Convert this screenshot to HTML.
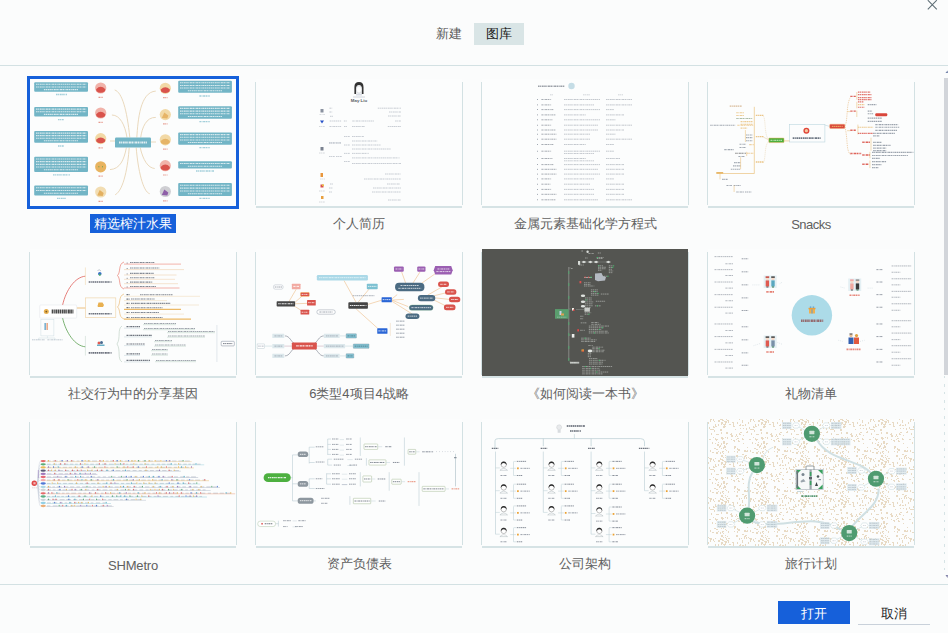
<!DOCTYPE html>
<html><head><meta charset="utf-8">
<style>
*{margin:0;padding:0;box-sizing:border-box}
html,body{width:948px;height:633px;overflow:hidden;background:#fbfcfc;font-family:"Liberation Sans",sans-serif;position:relative}
.a{position:absolute}
.tab{position:absolute;top:23px;height:22px;font-size:13px;line-height:22px;text-align:center}
.hl{position:absolute;left:0;top:65px;width:948px;height:1px;background:#d3e1e3}
.fl{position:absolute;left:0;top:584px;width:948px;height:1px;background:#d3e1e3}
.th{position:absolute;width:208px;height:129px}
.th .c{position:absolute;left:1px;top:0;width:206px;height:127px;background:#fcfdfd;overflow:hidden}
.th .l{position:absolute;left:0;top:3px;width:1px;height:123px;background:#d3e1e3}
.th .r{position:absolute;left:207px;top:3px;width:1px;height:123px;background:#d3e1e3}
.th .b{position:absolute;left:1px;top:127px;width:206px;height:2px;background:#d6e3e5}
.th svg{position:absolute;left:0;top:0}
.lb{position:absolute;width:226px;font-size:13px;line-height:18px;height:18px;text-align:center;color:#606060}
.btn{position:absolute;top:601px;width:72px;height:23px;font-size:13px;line-height:25px;text-align:center}
</style></head><body>
<div class="tab" style="left:474px;width:50px;background:#d9e5e6;color:#1a1a1a">图库</div>
<div class="tab" style="left:427px;width:44px;color:#5a5a5a">新建</div>
<svg class="a" style="left:926px;top:0" width="12" height="12" viewBox="0 0 12 12"><path d="M1.8 0.2L10.8 9.3M10.8 0.2L1.8 9.3" stroke="#5f6f76" stroke-width="1.1" fill="none"/></svg>
<div class="hl"></div>
<div class="fl"></div>
<div class="a" style="left:944px;top:78px;width:4px;height:297px;background:#d2d5da"></div>
<svg class="a" style="left:940px;top:66px" width="8" height="520" viewBox="0 0 8 520"><path d="M4.5 310 L4.5 508" stroke="#d6e3e5" stroke-width="1" stroke-dasharray="2 6 3 5"/><path d="M5.5 7 L7.5 4.5 L8 7Z" fill="#7080a8"/><path d="M5.5 509 L7.5 512 L8 509Z" fill="#8080a8"/></svg>

<!-- thumbnails -->
<div class="a" style="left:27px;top:76px;width:212px;height:133px;border:3px solid #1660da"></div>
<div class="th" style="left:29px;top:79px"><div class="c" id="t1"><svg width="206" height="127" viewBox="30 79 206 127"><path d="M114.7 90 C122 92 127 110 129.8 137.5" stroke="#e8d5b6" stroke-width="0.9" fill="none" /><path d="M111.9 115 C120 115 125 125 127 137.5" stroke="#e8d5b6" stroke-width="0.9" fill="none" /><path d="M110 141 L115 141" stroke="#e8d5b6" stroke-width="0.9" fill="none" /><path d="M110 169.6 C120 169 124 160 126.4 147.6" stroke="#e8d5b6" stroke-width="0.9" fill="none" /><path d="M115.2 194.8 C124 190 128 165 129.2 147.6" stroke="#e8d5b6" stroke-width="0.9" fill="none" /><path d="M155.8 91.1 C140 92 138 120 136.8 137.5" stroke="#e8d5b6" stroke-width="0.9" fill="none" /><path d="M155.8 117.4 C146 117 142 128 140.7 137.5" stroke="#e8d5b6" stroke-width="0.9" fill="none" /><path d="M151 142 L156 142" stroke="#e8d5b6" stroke-width="0.9" fill="none" /><path d="M136.2 147.6 C138 170 143 192 149.7 193.7" stroke="#e8d5b6" stroke-width="0.9" fill="none" /><path d="M140.2 147.6 C143 160 148 168 154.7 168.5" stroke="#e8d5b6" stroke-width="0.9" fill="none" /><rect x="34.20" y="82.20" width="53.80" height="9.50" rx="1" fill="#72b5c6" /><line x1="36.00" y1="84.32" x2="86.20" y2="84.32" stroke="#ffffff" stroke-width="1.1" stroke-dasharray="1.6 0.5 1 0.6 2 0.5" opacity="0.72"/><line x1="36.00" y1="86.95" x2="86.20" y2="86.95" stroke="#ffffff" stroke-width="1.1" stroke-dasharray="1.6 0.5 1 0.6 2 0.5" opacity="0.72"/><line x1="43.88" y1="89.58" x2="78.32" y2="89.58" stroke="#ffffff" stroke-width="1.1" stroke-dasharray="1.6 0.5 1 0.6 2 0.5" opacity="0.72"/><rect x="34.20" y="107.00" width="53.80" height="9.50" rx="1" fill="#72b5c6" /><line x1="36.00" y1="109.12" x2="86.20" y2="109.12" stroke="#ffffff" stroke-width="1.1" stroke-dasharray="1.6 0.5 1 0.6 2 0.5" opacity="0.72"/><line x1="36.00" y1="111.75" x2="86.20" y2="111.75" stroke="#ffffff" stroke-width="1.1" stroke-dasharray="1.6 0.5 1 0.6 2 0.5" opacity="0.72"/><line x1="43.88" y1="114.38" x2="78.32" y2="114.38" stroke="#ffffff" stroke-width="1.1" stroke-dasharray="1.6 0.5 1 0.6 2 0.5" opacity="0.72"/><rect x="34.20" y="131.00" width="53.80" height="11.80" rx="1" fill="#72b5c6" /><line x1="36.00" y1="133.08" x2="86.20" y2="133.08" stroke="#ffffff" stroke-width="1.1" stroke-dasharray="1.6 0.5 1 0.6 2 0.5" opacity="0.72"/><line x1="36.00" y1="135.63" x2="86.20" y2="135.63" stroke="#ffffff" stroke-width="1.1" stroke-dasharray="1.6 0.5 1 0.6 2 0.5" opacity="0.72"/><line x1="36.00" y1="138.18" x2="86.20" y2="138.18" stroke="#ffffff" stroke-width="1.1" stroke-dasharray="1.6 0.5 1 0.6 2 0.5" opacity="0.72"/><line x1="43.88" y1="140.73" x2="78.32" y2="140.73" stroke="#ffffff" stroke-width="1.1" stroke-dasharray="1.6 0.5 1 0.6 2 0.5" opacity="0.72"/><rect x="34.20" y="156.80" width="53.80" height="15.10" rx="1" fill="#72b5c6" /><line x1="36.00" y1="158.95" x2="86.20" y2="158.95" stroke="#ffffff" stroke-width="1.1" stroke-dasharray="1.6 0.5 1 0.6 2 0.5" opacity="0.72"/><line x1="36.00" y1="161.65" x2="86.20" y2="161.65" stroke="#ffffff" stroke-width="1.1" stroke-dasharray="1.6 0.5 1 0.6 2 0.5" opacity="0.72"/><line x1="36.00" y1="164.35" x2="86.20" y2="164.35" stroke="#ffffff" stroke-width="1.1" stroke-dasharray="1.6 0.5 1 0.6 2 0.5" opacity="0.72"/><line x1="36.00" y1="167.05" x2="86.20" y2="167.05" stroke="#ffffff" stroke-width="1.1" stroke-dasharray="1.6 0.5 1 0.6 2 0.5" opacity="0.72"/><line x1="43.88" y1="169.75" x2="78.32" y2="169.75" stroke="#ffffff" stroke-width="1.1" stroke-dasharray="1.6 0.5 1 0.6 2 0.5" opacity="0.72"/><rect x="34.20" y="185.60" width="53.80" height="9.80" rx="1" fill="#72b5c6" /><line x1="36.00" y1="187.77" x2="86.20" y2="187.77" stroke="#ffffff" stroke-width="1.1" stroke-dasharray="1.6 0.5 1 0.6 2 0.5" opacity="0.72"/><line x1="36.00" y1="190.50" x2="86.20" y2="190.50" stroke="#ffffff" stroke-width="1.1" stroke-dasharray="1.6 0.5 1 0.6 2 0.5" opacity="0.72"/><line x1="43.88" y1="193.23" x2="78.32" y2="193.23" stroke="#ffffff" stroke-width="1.1" stroke-dasharray="1.6 0.5 1 0.6 2 0.5" opacity="0.72"/><line x1="56.00" y1="94.50" x2="67.00" y2="94.50" stroke="#8cc4d2" stroke-width="1.4" stroke-dasharray="1.6 0.5 1 0.6 2 0.5" opacity="0.8"/><line x1="58.00" y1="119.60" x2="64.00" y2="119.60" stroke="#8cc4d2" stroke-width="1.4" stroke-dasharray="1.6 0.5 1 0.6 2 0.5" opacity="0.8"/><line x1="58.00" y1="146.00" x2="64.00" y2="146.00" stroke="#8cc4d2" stroke-width="1.4" stroke-dasharray="1.6 0.5 1 0.6 2 0.5" opacity="0.8"/><line x1="53.00" y1="174.90" x2="70.00" y2="174.90" stroke="#8cc4d2" stroke-width="1.4" stroke-dasharray="1.6 0.5 1 0.6 2 0.5" opacity="0.8"/><line x1="57.00" y1="198.40" x2="66.00" y2="198.40" stroke="#8cc4d2" stroke-width="1.4" stroke-dasharray="1.6 0.5 1 0.6 2 0.5" opacity="0.8"/><rect x="178.20" y="80.70" width="53.70" height="12.10" rx="1" fill="#72b5c6" /><line x1="180.00" y1="82.81" x2="230.10" y2="82.81" stroke="#ffffff" stroke-width="1.1" stroke-dasharray="1.6 0.5 1 0.6 2 0.5" opacity="0.72"/><line x1="180.00" y1="85.44" x2="230.10" y2="85.44" stroke="#ffffff" stroke-width="1.1" stroke-dasharray="1.6 0.5 1 0.6 2 0.5" opacity="0.72"/><line x1="180.00" y1="88.06" x2="230.10" y2="88.06" stroke="#ffffff" stroke-width="1.1" stroke-dasharray="1.6 0.5 1 0.6 2 0.5" opacity="0.72"/><line x1="187.87" y1="90.69" x2="222.23" y2="90.69" stroke="#ffffff" stroke-width="1.1" stroke-dasharray="1.6 0.5 1 0.6 2 0.5" opacity="0.72"/><rect x="178.20" y="106.20" width="53.70" height="12.50" rx="1" fill="#72b5c6" /><line x1="180.00" y1="108.36" x2="230.10" y2="108.36" stroke="#ffffff" stroke-width="1.1" stroke-dasharray="1.6 0.5 1 0.6 2 0.5" opacity="0.72"/><line x1="180.00" y1="111.09" x2="230.10" y2="111.09" stroke="#ffffff" stroke-width="1.1" stroke-dasharray="1.6 0.5 1 0.6 2 0.5" opacity="0.72"/><line x1="180.00" y1="113.81" x2="230.10" y2="113.81" stroke="#ffffff" stroke-width="1.1" stroke-dasharray="1.6 0.5 1 0.6 2 0.5" opacity="0.72"/><line x1="187.87" y1="116.54" x2="222.23" y2="116.54" stroke="#ffffff" stroke-width="1.1" stroke-dasharray="1.6 0.5 1 0.6 2 0.5" opacity="0.72"/><rect x="178.20" y="132.50" width="53.70" height="12.20" rx="1" fill="#72b5c6" /><line x1="180.00" y1="134.62" x2="230.10" y2="134.62" stroke="#ffffff" stroke-width="1.1" stroke-dasharray="1.6 0.5 1 0.6 2 0.5" opacity="0.72"/><line x1="180.00" y1="137.28" x2="230.10" y2="137.28" stroke="#ffffff" stroke-width="1.1" stroke-dasharray="1.6 0.5 1 0.6 2 0.5" opacity="0.72"/><line x1="180.00" y1="139.93" x2="230.10" y2="139.93" stroke="#ffffff" stroke-width="1.1" stroke-dasharray="1.6 0.5 1 0.6 2 0.5" opacity="0.72"/><line x1="187.87" y1="142.57" x2="222.23" y2="142.57" stroke="#ffffff" stroke-width="1.1" stroke-dasharray="1.6 0.5 1 0.6 2 0.5" opacity="0.72"/><rect x="178.20" y="161.30" width="53.70" height="7.20" rx="1" fill="#72b5c6" /><line x1="180.00" y1="163.50" x2="230.10" y2="163.50" stroke="#ffffff" stroke-width="1.1" stroke-dasharray="1.6 0.5 1 0.6 2 0.5" opacity="0.72"/><line x1="187.87" y1="166.30" x2="222.23" y2="166.30" stroke="#ffffff" stroke-width="1.1" stroke-dasharray="1.6 0.5 1 0.6 2 0.5" opacity="0.72"/><rect x="178.20" y="183.00" width="53.70" height="13.00" rx="1" fill="#72b5c6" /><line x1="180.00" y1="185.23" x2="230.10" y2="185.23" stroke="#ffffff" stroke-width="1.1" stroke-dasharray="1.6 0.5 1 0.6 2 0.5" opacity="0.72"/><line x1="180.00" y1="188.08" x2="230.10" y2="188.08" stroke="#ffffff" stroke-width="1.1" stroke-dasharray="1.6 0.5 1 0.6 2 0.5" opacity="0.72"/><line x1="180.00" y1="190.93" x2="230.10" y2="190.93" stroke="#ffffff" stroke-width="1.1" stroke-dasharray="1.6 0.5 1 0.6 2 0.5" opacity="0.72"/><line x1="187.87" y1="193.78" x2="222.23" y2="193.78" stroke="#ffffff" stroke-width="1.1" stroke-dasharray="1.6 0.5 1 0.6 2 0.5" opacity="0.72"/><line x1="199.40" y1="96.00" x2="210.00" y2="96.00" stroke="#8cc4d2" stroke-width="1.4" stroke-dasharray="1.6 0.5 1 0.6 2 0.5" opacity="0.8"/><line x1="199.40" y1="121.60" x2="210.00" y2="121.60" stroke="#8cc4d2" stroke-width="1.4" stroke-dasharray="1.6 0.5 1 0.6 2 0.5" opacity="0.8"/><line x1="199.40" y1="147.60" x2="210.00" y2="147.60" stroke="#8cc4d2" stroke-width="1.4" stroke-dasharray="1.6 0.5 1 0.6 2 0.5" opacity="0.8"/><line x1="196.00" y1="171.00" x2="214.00" y2="171.00" stroke="#8cc4d2" stroke-width="1.4" stroke-dasharray="1.6 0.5 1 0.6 2 0.5" opacity="0.8"/><line x1="199.40" y1="198.40" x2="210.00" y2="198.40" stroke="#8cc4d2" stroke-width="1.4" stroke-dasharray="1.6 0.5 1 0.6 2 0.5" opacity="0.8"/><circle cx="100.70" cy="88.00" r="5.6" fill="#f1b3aa" /><path d="M96.1 89.2 Q100.7 84.5 105.3 89.2 L104.9 91.2 Q100.7 94.2 96.5 91.2Z" fill="#d9534c"/><line x1="98.50" y1="97.30" x2="102.90" y2="97.30" stroke="#e07a6a" stroke-width="1.2" stroke-dasharray="1.6 0.5 1 0.6 2 0.5" opacity="0.75"/><circle cx="100.70" cy="113.00" r="5.6" fill="#f1b3aa" /><path d="M96.1 114.2 Q100.7 109.5 105.3 114.2 L104.9 116.2 Q100.7 119.2 96.5 116.2Z" fill="#d9534c"/><line x1="98.50" y1="122.30" x2="102.90" y2="122.30" stroke="#e07a6a" stroke-width="1.2" stroke-dasharray="1.6 0.5 1 0.6 2 0.5" opacity="0.75"/><circle cx="100.70" cy="138.60" r="5.6" fill="#f2d9a6" /><path d="M96.1 139.8 Q100.7 135.1 105.3 139.8 L104.9 141.8 Q100.7 144.8 96.5 141.8Z" fill="#d9534c"/><line x1="98.50" y1="147.90" x2="102.90" y2="147.90" stroke="#e07a6a" stroke-width="1.2" stroke-dasharray="1.6 0.5 1 0.6 2 0.5" opacity="0.75"/><circle cx="100.70" cy="166.80" r="5.6" fill="#e8b460" /><circle cx="98.90" cy="166.80" r="0.5" fill="#3a9a4a" /><circle cx="102.50" cy="166.80" r="0.5" fill="#3a9a4a" /><line x1="98.50" y1="176.10" x2="102.90" y2="176.10" stroke="#e07a6a" stroke-width="1.2" stroke-dasharray="1.6 0.5 1 0.6 2 0.5" opacity="0.75"/><circle cx="100.70" cy="192.00" r="5.6" fill="#f2ddb2" /><path d="M97.2 195.5 L99.7 190.0 L103.7 193.0 L102.7 196.0Z" fill="#e3b060"/><line x1="98.50" y1="201.30" x2="102.90" y2="201.30" stroke="#e07a6a" stroke-width="1.2" stroke-dasharray="1.6 0.5 1 0.6 2 0.5" opacity="0.75"/><circle cx="165.30" cy="88.30" r="5.6" fill="#f2d9a6" /><path d="M160.7 89.5 Q165.3 84.8 169.9 89.5 L169.5 91.5 Q165.3 94.5 161.1 91.5Z" fill="#d9534c"/><line x1="163.10" y1="97.60" x2="167.50" y2="97.60" stroke="#e07a6a" stroke-width="1.2" stroke-dasharray="1.6 0.5 1 0.6 2 0.5" opacity="0.75"/><circle cx="165.30" cy="114.60" r="5.6" fill="#f2d9a6" /><path d="M161.8 118.1 L164.3 112.6 L168.3 115.6 L167.3 118.6Z" fill="#e6b467"/><line x1="163.10" y1="123.90" x2="167.50" y2="123.90" stroke="#e07a6a" stroke-width="1.2" stroke-dasharray="1.6 0.5 1 0.6 2 0.5" opacity="0.75"/><circle cx="165.30" cy="139.80" r="5.6" fill="#f2d9a6" /><path d="M160.7 141.0 Q165.3 136.3 169.9 141.0 L169.5 143.0 Q165.3 146.0 161.1 143.0Z" fill="#e6b467"/><line x1="163.10" y1="149.10" x2="167.50" y2="149.10" stroke="#e07a6a" stroke-width="1.2" stroke-dasharray="1.6 0.5 1 0.6 2 0.5" opacity="0.75"/><circle cx="165.30" cy="165.70" r="5.6" fill="#f1b3aa" /><path d="M160.7 166.9 Q165.3 162.2 169.9 166.9 L169.5 168.9 Q165.3 171.9 161.1 168.9Z" fill="#d9534c"/><line x1="163.10" y1="175.00" x2="167.50" y2="175.00" stroke="#e07a6a" stroke-width="1.2" stroke-dasharray="1.6 0.5 1 0.6 2 0.5" opacity="0.75"/><circle cx="165.30" cy="191.50" r="5.6" fill="#cfcfd3" /><path d="M161.8 195.0 L164.3 189.5 L168.3 192.5 L167.3 195.5Z" fill="#8e5fa8"/><line x1="163.10" y1="200.80" x2="167.50" y2="200.80" stroke="#e07a6a" stroke-width="1.2" stroke-dasharray="1.6 0.5 1 0.6 2 0.5" opacity="0.75"/><rect x="115.00" y="137.50" width="36.00" height="10.10" rx="1.2" fill="#72b5c6" /><line x1="119.00" y1="142.50" x2="147.00" y2="142.50" stroke="#ffffff" stroke-width="2.2" stroke-dasharray="1.6 0.5 1 0.6 2 0.5" opacity="0.8"/></svg></div></div>
<div class="th" style="left:255px;top:79px"><div class="l"></div><div class="r"></div><div class="b"></div><div class="c" id="t2"><svg width="206" height="127" viewBox="256 79 206 127"><path d="M354.4 94 L354.4 87 Q354.4 82 359 82 Q363.5 82 363.5 87 L363.5 94 L361.8 94 L361.8 88 Q361.5 85 359 85 Q356.5 85 356.1 88 L356.1 94Z" fill="#333"/><ellipse cx="359" cy="89.5" rx="2.7" ry="3.6" fill="#fff" stroke="#9aa4ac" stroke-width="0.3"/><path d="M356 94.2 Q359 92.5 362 94.2 L362 95.5 L356 95.5Z" fill="#d8dce4"/><path d="M353 97 L365 97" stroke="#c8ccd4" stroke-width="0.8"/><text x="359" y="102.4" font-family="Liberation Sans" font-size="4.4" font-weight="bold" text-anchor="middle" fill="#3a4048" opacity="0.85">May Liu</text><rect x="320.50" y="109.00" width="3.00" height="3.50" rx="0" fill="#8a92a0" /><line x1="319.50" y1="114.60" x2="325.00" y2="114.60" stroke="#7d8794" stroke-width="0.72" stroke-dasharray="1.6 0.5 1 0.6 2 0.5" opacity="0.42"/><path d="M320 120.5 L324 120.5 L322 123.5Z" fill="#2550c8"/><line x1="319.00" y1="126.40" x2="325.00" y2="126.40" stroke="#7d8794" stroke-width="0.72" stroke-dasharray="1.6 0.5 1 0.6 2 0.5" opacity="0.48"/><rect x="320.50" y="147.00" width="3.00" height="3.50" rx="0" fill="#7a8290" /><line x1="319.00" y1="153.00" x2="325.00" y2="153.00" stroke="#7d8794" stroke-width="0.72" stroke-dasharray="1.6 0.5 1 0.6 2 0.5" opacity="0.42"/><rect x="320.50" y="173.00" width="2.50" height="4.00" rx="0" fill="#e8963c" /><line x1="320.00" y1="179.00" x2="325.00" y2="179.00" stroke="#7d8794" stroke-width="0.72" stroke-dasharray="1.6 0.5 1 0.6 2 0.5" opacity="0.36"/><rect x="320.50" y="184.50" width="3.00" height="3.00" rx="0" fill="#d9534c" /><rect x="322.00" y="184.50" width="2.00" height="1.50" rx="0" fill="#e8c040" /><line x1="319.00" y1="191.00" x2="325.00" y2="191.00" stroke="#7d8794" stroke-width="0.72" stroke-dasharray="1.6 0.5 1 0.6 2 0.5" opacity="0.42"/><rect x="321.00" y="196.00" width="2.50" height="3.00" rx="0" fill="#e8a040" /><line x1="319.00" y1="202.00" x2="325.00" y2="202.00" stroke="#7d8794" stroke-width="0.72" stroke-dasharray="1.6 0.5 1 0.6 2 0.5" opacity="0.42"/><line x1="329.40" y1="108.20" x2="332.20" y2="108.20" stroke="#7a8596" stroke-width="0.88" stroke-dasharray="1.6 0.5 1 0.6 2 0.5" opacity="0.45"/><line x1="329.40" y1="112.00" x2="332.20" y2="112.00" stroke="#7a8596" stroke-width="0.88" stroke-dasharray="1.6 0.5 1 0.6 2 0.5" opacity="0.45"/><line x1="330.00" y1="116.30" x2="333.00" y2="116.30" stroke="#7a8596" stroke-width="0.88" stroke-dasharray="1.6 0.5 1 0.6 2 0.5" opacity="0.45"/><line x1="329.70" y1="121.00" x2="341.10" y2="121.00" stroke="#7a8596" stroke-width="0.88" stroke-dasharray="1.6 0.5 1 0.6 2 0.5" opacity="0.45"/><line x1="343.90" y1="121.00" x2="346.70" y2="121.00" stroke="#7a8596" stroke-width="0.88" stroke-dasharray="1.6 0.5 1 0.6 2 0.5" opacity="0.45"/><line x1="352.30" y1="121.00" x2="373.90" y2="121.00" stroke="#7a8596" stroke-width="0.88" stroke-dasharray="1.6 0.5 1 0.6 2 0.5" opacity="0.45"/><line x1="395.10" y1="121.00" x2="401.00" y2="121.00" stroke="#7a8596" stroke-width="0.88" stroke-dasharray="1.6 0.5 1 0.6 2 0.5" opacity="0.45"/><line x1="329.50" y1="126.50" x2="341.10" y2="126.50" stroke="#7a8596" stroke-width="0.88" stroke-dasharray="1.6 0.5 1 0.6 2 0.5" opacity="0.45"/><line x1="344.00" y1="126.50" x2="347.00" y2="126.50" stroke="#7a8596" stroke-width="0.88" stroke-dasharray="1.6 0.5 1 0.6 2 0.5" opacity="0.45"/><line x1="352.00" y1="126.50" x2="365.00" y2="126.50" stroke="#7a8596" stroke-width="0.88" stroke-dasharray="1.6 0.5 1 0.6 2 0.5" opacity="0.45"/><line x1="387.80" y1="126.50" x2="401.00" y2="126.50" stroke="#7a8596" stroke-width="0.88" stroke-dasharray="1.6 0.5 1 0.6 2 0.5" opacity="0.45"/><line x1="377.80" y1="108.20" x2="401.00" y2="108.20" stroke="#7a8596" stroke-width="0.88" stroke-dasharray="1.6 0.5 1 0.6 2 0.5" opacity="0.45"/><line x1="389.00" y1="112.00" x2="401.00" y2="112.00" stroke="#7a8596" stroke-width="0.88" stroke-dasharray="1.6 0.5 1 0.6 2 0.5" opacity="0.45"/><line x1="388.00" y1="116.00" x2="401.00" y2="116.00" stroke="#7a8596" stroke-width="0.88" stroke-dasharray="1.6 0.5 1 0.6 2 0.5" opacity="0.45"/><line x1="344.00" y1="136.50" x2="350.00" y2="136.50" stroke="#7a8596" stroke-width="0.88" stroke-dasharray="1.6 0.5 1 0.6 2 0.5" opacity="0.45"/><line x1="352.00" y1="136.50" x2="363.80" y2="136.50" stroke="#7a8596" stroke-width="0.88" stroke-dasharray="1.6 0.5 1 0.6 2 0.5" opacity="0.45"/><line x1="352.00" y1="141.00" x2="377.20" y2="141.00" stroke="#7a8596" stroke-width="0.88" stroke-dasharray="1.6 0.5 1 0.6 2 0.5" opacity="0.45"/><line x1="329.00" y1="142.90" x2="341.00" y2="142.90" stroke="#7a8596" stroke-width="0.88" stroke-dasharray="1.6 0.5 1 0.6 2 0.5" opacity="0.45"/><line x1="344.00" y1="145.00" x2="350.00" y2="145.00" stroke="#7a8596" stroke-width="0.88" stroke-dasharray="1.6 0.5 1 0.6 2 0.5" opacity="0.45"/><line x1="352.00" y1="145.00" x2="381.00" y2="145.00" stroke="#7a8596" stroke-width="0.88" stroke-dasharray="1.6 0.5 1 0.6 2 0.5" opacity="0.45"/><line x1="352.00" y1="149.00" x2="390.60" y2="149.00" stroke="#7a8596" stroke-width="0.88" stroke-dasharray="1.6 0.5 1 0.6 2 0.5" opacity="0.45"/><line x1="344.00" y1="153.40" x2="350.00" y2="153.40" stroke="#7a8596" stroke-width="0.88" stroke-dasharray="1.6 0.5 1 0.6 2 0.5" opacity="0.45"/><line x1="352.00" y1="153.40" x2="368.80" y2="153.40" stroke="#7a8596" stroke-width="0.88" stroke-dasharray="1.6 0.5 1 0.6 2 0.5" opacity="0.45"/><line x1="329.00" y1="156.50" x2="335.00" y2="156.50" stroke="#7a8596" stroke-width="0.88" stroke-dasharray="1.6 0.5 1 0.6 2 0.5" opacity="0.45"/><line x1="336.00" y1="156.50" x2="342.00" y2="156.50" stroke="#7a8596" stroke-width="0.88" stroke-dasharray="1.6 0.5 1 0.6 2 0.5" opacity="0.45"/><line x1="352.00" y1="157.90" x2="399.60" y2="157.90" stroke="#7a8596" stroke-width="0.88" stroke-dasharray="1.6 0.5 1 0.6 2 0.5" opacity="0.45"/><line x1="344.00" y1="161.50" x2="350.00" y2="161.50" stroke="#7a8596" stroke-width="0.88" stroke-dasharray="1.6 0.5 1 0.6 2 0.5" opacity="0.45"/><line x1="352.00" y1="163.50" x2="401.00" y2="163.50" stroke="#7a8596" stroke-width="0.88" stroke-dasharray="1.6 0.5 1 0.6 2 0.5" opacity="0.45"/><line x1="385.00" y1="174.00" x2="401.00" y2="174.00" stroke="#7a8596" stroke-width="0.88" stroke-dasharray="1.6 0.5 1 0.6 2 0.5" opacity="0.45"/><line x1="364.00" y1="179.00" x2="401.00" y2="179.00" stroke="#7a8596" stroke-width="0.88" stroke-dasharray="1.6 0.5 1 0.6 2 0.5" opacity="0.45"/><line x1="387.00" y1="184.00" x2="400.00" y2="184.00" stroke="#7a8596" stroke-width="0.88" stroke-dasharray="1.6 0.5 1 0.6 2 0.5" opacity="0.45"/><line x1="373.00" y1="188.00" x2="401.00" y2="188.00" stroke="#7a8596" stroke-width="0.88" stroke-dasharray="1.6 0.5 1 0.6 2 0.5" opacity="0.45"/><line x1="372.00" y1="192.00" x2="401.00" y2="192.00" stroke="#7a8596" stroke-width="0.88" stroke-dasharray="1.6 0.5 1 0.6 2 0.5" opacity="0.45"/><line x1="388.00" y1="200.00" x2="401.00" y2="200.00" stroke="#7a8596" stroke-width="0.88" stroke-dasharray="1.6 0.5 1 0.6 2 0.5" opacity="0.45"/><line x1="330.00" y1="184.00" x2="333.00" y2="184.00" stroke="#7a8596" stroke-width="0.88" stroke-dasharray="1.6 0.5 1 0.6 2 0.5" opacity="0.45"/><line x1="329.00" y1="188.00" x2="333.00" y2="188.00" stroke="#7a8596" stroke-width="0.88" stroke-dasharray="1.6 0.5 1 0.6 2 0.5" opacity="0.45"/><line x1="329.00" y1="192.00" x2="332.00" y2="192.00" stroke="#7a8596" stroke-width="0.88" stroke-dasharray="1.6 0.5 1 0.6 2 0.5" opacity="0.45"/><line x1="329.00" y1="143.00" x2="335.00" y2="143.00" stroke="#7a8596" stroke-width="0.88" stroke-dasharray="1.6 0.5 1 0.6 2 0.5" opacity="0.45"/><line x1="336.00" y1="143.00" x2="341.00" y2="143.00" stroke="#7a8596" stroke-width="0.88" stroke-dasharray="1.6 0.5 1 0.6 2 0.5" opacity="0.45"/></svg></div></div>
<div class="th" style="left:481px;top:79px"><div class="l"></div><div class="r"></div><div class="b"></div><div class="c" id="t3"><svg width="206" height="127" viewBox="482 79 206 127"><line x1="538.00" y1="86.30" x2="564.30" y2="86.30" stroke="#4a5260" stroke-width="1.44" stroke-dasharray="1.6 0.5 1 0.6 2 0.5" opacity="0.54"/><circle cx="571.50" cy="86.00" r="3.2" fill="#c5dde6" /><line x1="550.00" y1="94.80" x2="553.00" y2="94.80" stroke="#7d8794" stroke-width="0.80" stroke-dasharray="1.6 0.5 1 0.6 2 0.5" opacity="0.42"/><line x1="583.00" y1="94.80" x2="590.00" y2="94.80" stroke="#7d8794" stroke-width="0.80" stroke-dasharray="1.6 0.5 1 0.6 2 0.5" opacity="0.42"/><line x1="618.00" y1="94.80" x2="623.00" y2="94.80" stroke="#7d8794" stroke-width="0.80" stroke-dasharray="1.6 0.5 1 0.6 2 0.5" opacity="0.42"/><rect x="537.00" y="99.10" width="1.00" height="0.80" rx="0" fill="#8a93a0" /><line x1="541.40" y1="99.50" x2="551.40" y2="99.50" stroke="#505a68" stroke-width="0.96" stroke-dasharray="1.6 0.5 1 0.6 2 0.5" opacity="0.51"/><line x1="564.00" y1="99.50" x2="600.00" y2="99.50" stroke="#6b7585" stroke-width="0.88" stroke-dasharray="1.6 0.5 1 0.6 2 0.5" opacity="0.45"/><line x1="606.00" y1="99.50" x2="632.00" y2="99.50" stroke="#6b7585" stroke-width="0.88" stroke-dasharray="1.6 0.5 1 0.6 2 0.5" opacity="0.45"/><rect x="537.00" y="104.50" width="1.00" height="0.80" rx="0" fill="#8a93a0" /><line x1="541.40" y1="104.90" x2="551.40" y2="104.90" stroke="#505a68" stroke-width="0.96" stroke-dasharray="1.6 0.5 1 0.6 2 0.5" opacity="0.51"/><line x1="564.00" y1="104.90" x2="594.00" y2="104.90" stroke="#6b7585" stroke-width="0.88" stroke-dasharray="1.6 0.5 1 0.6 2 0.5" opacity="0.45"/><line x1="606.00" y1="104.90" x2="632.00" y2="104.90" stroke="#6b7585" stroke-width="0.88" stroke-dasharray="1.6 0.5 1 0.6 2 0.5" opacity="0.45"/><rect x="537.00" y="109.20" width="1.00" height="0.80" rx="0" fill="#8a93a0" /><line x1="541.40" y1="109.60" x2="553.40" y2="109.60" stroke="#505a68" stroke-width="0.96" stroke-dasharray="1.6 0.5 1 0.6 2 0.5" opacity="0.51"/><line x1="564.00" y1="109.60" x2="600.00" y2="109.60" stroke="#6b7585" stroke-width="0.88" stroke-dasharray="1.6 0.5 1 0.6 2 0.5" opacity="0.45"/><line x1="606.00" y1="109.60" x2="614.00" y2="109.60" stroke="#6b7585" stroke-width="0.88" stroke-dasharray="1.6 0.5 1 0.6 2 0.5" opacity="0.45"/><rect x="537.00" y="114.50" width="1.00" height="0.80" rx="0" fill="#8a93a0" /><line x1="541.40" y1="114.90" x2="555.40" y2="114.90" stroke="#505a68" stroke-width="0.96" stroke-dasharray="1.6 0.5 1 0.6 2 0.5" opacity="0.51"/><line x1="564.00" y1="114.90" x2="586.00" y2="114.90" stroke="#6b7585" stroke-width="0.88" stroke-dasharray="1.6 0.5 1 0.6 2 0.5" opacity="0.45"/><line x1="606.00" y1="114.90" x2="624.00" y2="114.90" stroke="#6b7585" stroke-width="0.88" stroke-dasharray="1.6 0.5 1 0.6 2 0.5" opacity="0.45"/><rect x="537.00" y="119.40" width="1.00" height="0.80" rx="0" fill="#8a93a0" /><line x1="541.40" y1="119.80" x2="552.40" y2="119.80" stroke="#505a68" stroke-width="0.96" stroke-dasharray="1.6 0.5 1 0.6 2 0.5" opacity="0.51"/><line x1="564.00" y1="119.80" x2="600.00" y2="119.80" stroke="#6b7585" stroke-width="0.88" stroke-dasharray="1.6 0.5 1 0.6 2 0.5" opacity="0.45"/><line x1="606.00" y1="119.80" x2="616.00" y2="119.80" stroke="#6b7585" stroke-width="0.88" stroke-dasharray="1.6 0.5 1 0.6 2 0.5" opacity="0.45"/><rect x="537.00" y="124.80" width="1.00" height="0.80" rx="0" fill="#8a93a0" /><line x1="541.40" y1="125.20" x2="551.40" y2="125.20" stroke="#505a68" stroke-width="0.96" stroke-dasharray="1.6 0.5 1 0.6 2 0.5" opacity="0.51"/><line x1="564.00" y1="125.20" x2="598.00" y2="125.20" stroke="#6b7585" stroke-width="0.88" stroke-dasharray="1.6 0.5 1 0.6 2 0.5" opacity="0.45"/><line x1="606.00" y1="125.20" x2="632.00" y2="125.20" stroke="#6b7585" stroke-width="0.88" stroke-dasharray="1.6 0.5 1 0.6 2 0.5" opacity="0.45"/><rect x="537.00" y="129.60" width="1.00" height="0.80" rx="0" fill="#8a93a0" /><line x1="541.40" y1="130.00" x2="555.40" y2="130.00" stroke="#505a68" stroke-width="0.96" stroke-dasharray="1.6 0.5 1 0.6 2 0.5" opacity="0.51"/><line x1="564.00" y1="130.00" x2="598.00" y2="130.00" stroke="#6b7585" stroke-width="0.88" stroke-dasharray="1.6 0.5 1 0.6 2 0.5" opacity="0.45"/><line x1="606.00" y1="130.00" x2="624.00" y2="130.00" stroke="#6b7585" stroke-width="0.88" stroke-dasharray="1.6 0.5 1 0.6 2 0.5" opacity="0.45"/><rect x="537.00" y="133.80" width="1.00" height="0.80" rx="0" fill="#8a93a0" /><line x1="541.40" y1="134.20" x2="556.40" y2="134.20" stroke="#505a68" stroke-width="0.96" stroke-dasharray="1.6 0.5 1 0.6 2 0.5" opacity="0.51"/><line x1="564.00" y1="134.20" x2="590.00" y2="134.20" stroke="#6b7585" stroke-width="0.88" stroke-dasharray="1.6 0.5 1 0.6 2 0.5" opacity="0.45"/><line x1="606.00" y1="134.20" x2="616.00" y2="134.20" stroke="#6b7585" stroke-width="0.88" stroke-dasharray="1.6 0.5 1 0.6 2 0.5" opacity="0.45"/><rect x="537.00" y="138.80" width="1.00" height="0.80" rx="0" fill="#8a93a0" /><line x1="541.40" y1="139.20" x2="556.40" y2="139.20" stroke="#505a68" stroke-width="0.96" stroke-dasharray="1.6 0.5 1 0.6 2 0.5" opacity="0.51"/><line x1="564.00" y1="139.20" x2="590.00" y2="139.20" stroke="#6b7585" stroke-width="0.88" stroke-dasharray="1.6 0.5 1 0.6 2 0.5" opacity="0.45"/><line x1="606.00" y1="139.20" x2="632.00" y2="139.20" stroke="#6b7585" stroke-width="0.88" stroke-dasharray="1.6 0.5 1 0.6 2 0.5" opacity="0.45"/><rect x="537.00" y="144.10" width="1.00" height="0.80" rx="0" fill="#8a93a0" /><line x1="541.40" y1="144.50" x2="553.40" y2="144.50" stroke="#505a68" stroke-width="0.96" stroke-dasharray="1.6 0.5 1 0.6 2 0.5" opacity="0.51"/><line x1="564.00" y1="144.50" x2="586.00" y2="144.50" stroke="#6b7585" stroke-width="0.88" stroke-dasharray="1.6 0.5 1 0.6 2 0.5" opacity="0.45"/><line x1="606.00" y1="144.50" x2="614.00" y2="144.50" stroke="#6b7585" stroke-width="0.88" stroke-dasharray="1.6 0.5 1 0.6 2 0.5" opacity="0.45"/><rect x="537.00" y="150.80" width="1.00" height="0.80" rx="0" fill="#8a93a0" /><line x1="541.40" y1="151.20" x2="551.40" y2="151.20" stroke="#505a68" stroke-width="0.96" stroke-dasharray="1.6 0.5 1 0.6 2 0.5" opacity="0.51"/><line x1="564.00" y1="151.20" x2="600.00" y2="151.20" stroke="#6b7585" stroke-width="0.88" stroke-dasharray="1.6 0.5 1 0.6 2 0.5" opacity="0.45"/><line x1="564.00" y1="153.50" x2="594.00" y2="153.50" stroke="#6b7585" stroke-width="0.88" stroke-dasharray="1.6 0.5 1 0.6 2 0.5" opacity="0.42"/><line x1="606.00" y1="151.20" x2="614.00" y2="151.20" stroke="#6b7585" stroke-width="0.88" stroke-dasharray="1.6 0.5 1 0.6 2 0.5" opacity="0.45"/><rect x="537.00" y="158.10" width="1.00" height="0.80" rx="0" fill="#8a93a0" /><line x1="541.40" y1="158.50" x2="552.40" y2="158.50" stroke="#505a68" stroke-width="0.96" stroke-dasharray="1.6 0.5 1 0.6 2 0.5" opacity="0.51"/><line x1="564.00" y1="158.50" x2="586.00" y2="158.50" stroke="#6b7585" stroke-width="0.88" stroke-dasharray="1.6 0.5 1 0.6 2 0.5" opacity="0.45"/><line x1="564.00" y1="160.80" x2="594.00" y2="160.80" stroke="#6b7585" stroke-width="0.88" stroke-dasharray="1.6 0.5 1 0.6 2 0.5" opacity="0.42"/><line x1="606.00" y1="158.50" x2="620.00" y2="158.50" stroke="#6b7585" stroke-width="0.88" stroke-dasharray="1.6 0.5 1 0.6 2 0.5" opacity="0.45"/><rect x="537.00" y="164.20" width="1.00" height="0.80" rx="0" fill="#8a93a0" /><line x1="541.40" y1="164.60" x2="553.40" y2="164.60" stroke="#505a68" stroke-width="0.96" stroke-dasharray="1.6 0.5 1 0.6 2 0.5" opacity="0.51"/><line x1="564.00" y1="164.60" x2="600.00" y2="164.60" stroke="#6b7585" stroke-width="0.88" stroke-dasharray="1.6 0.5 1 0.6 2 0.5" opacity="0.45"/><line x1="606.00" y1="164.60" x2="624.00" y2="164.60" stroke="#6b7585" stroke-width="0.88" stroke-dasharray="1.6 0.5 1 0.6 2 0.5" opacity="0.45"/><rect x="537.00" y="168.90" width="1.00" height="0.80" rx="0" fill="#8a93a0" /><line x1="541.40" y1="169.30" x2="556.40" y2="169.30" stroke="#505a68" stroke-width="0.96" stroke-dasharray="1.6 0.5 1 0.6 2 0.5" opacity="0.51"/><line x1="564.00" y1="169.30" x2="598.00" y2="169.30" stroke="#6b7585" stroke-width="0.88" stroke-dasharray="1.6 0.5 1 0.6 2 0.5" opacity="0.45"/><line x1="606.00" y1="169.30" x2="624.00" y2="169.30" stroke="#6b7585" stroke-width="0.88" stroke-dasharray="1.6 0.5 1 0.6 2 0.5" opacity="0.45"/><rect x="537.00" y="173.70" width="1.00" height="0.80" rx="0" fill="#8a93a0" /><line x1="541.40" y1="174.10" x2="556.40" y2="174.10" stroke="#505a68" stroke-width="0.96" stroke-dasharray="1.6 0.5 1 0.6 2 0.5" opacity="0.51"/><line x1="564.00" y1="174.10" x2="600.00" y2="174.10" stroke="#6b7585" stroke-width="0.88" stroke-dasharray="1.6 0.5 1 0.6 2 0.5" opacity="0.45"/><line x1="606.00" y1="174.10" x2="624.00" y2="174.10" stroke="#6b7585" stroke-width="0.88" stroke-dasharray="1.6 0.5 1 0.6 2 0.5" opacity="0.45"/><rect x="537.00" y="178.50" width="1.00" height="0.80" rx="0" fill="#8a93a0" /><line x1="541.40" y1="178.90" x2="551.40" y2="178.90" stroke="#505a68" stroke-width="0.96" stroke-dasharray="1.6 0.5 1 0.6 2 0.5" opacity="0.51"/><line x1="564.00" y1="178.90" x2="594.00" y2="178.90" stroke="#6b7585" stroke-width="0.88" stroke-dasharray="1.6 0.5 1 0.6 2 0.5" opacity="0.45"/><line x1="606.00" y1="178.90" x2="614.00" y2="178.90" stroke="#6b7585" stroke-width="0.88" stroke-dasharray="1.6 0.5 1 0.6 2 0.5" opacity="0.45"/><rect x="537.00" y="183.80" width="1.00" height="0.80" rx="0" fill="#8a93a0" /><line x1="541.40" y1="184.20" x2="550.40" y2="184.20" stroke="#505a68" stroke-width="0.96" stroke-dasharray="1.6 0.5 1 0.6 2 0.5" opacity="0.51"/><line x1="564.00" y1="184.20" x2="590.00" y2="184.20" stroke="#6b7585" stroke-width="0.88" stroke-dasharray="1.6 0.5 1 0.6 2 0.5" opacity="0.45"/><line x1="606.00" y1="184.20" x2="624.00" y2="184.20" stroke="#6b7585" stroke-width="0.88" stroke-dasharray="1.6 0.5 1 0.6 2 0.5" opacity="0.45"/><rect x="537.00" y="189.00" width="1.00" height="0.80" rx="0" fill="#8a93a0" /><line x1="541.40" y1="189.40" x2="551.40" y2="189.40" stroke="#505a68" stroke-width="0.96" stroke-dasharray="1.6 0.5 1 0.6 2 0.5" opacity="0.51"/><line x1="564.00" y1="189.40" x2="594.00" y2="189.40" stroke="#6b7585" stroke-width="0.88" stroke-dasharray="1.6 0.5 1 0.6 2 0.5" opacity="0.45"/><line x1="606.00" y1="189.40" x2="624.00" y2="189.40" stroke="#6b7585" stroke-width="0.88" stroke-dasharray="1.6 0.5 1 0.6 2 0.5" opacity="0.45"/><rect x="537.00" y="193.90" width="1.00" height="0.80" rx="0" fill="#8a93a0" /><line x1="541.40" y1="194.30" x2="556.40" y2="194.30" stroke="#505a68" stroke-width="0.96" stroke-dasharray="1.6 0.5 1 0.6 2 0.5" opacity="0.51"/><line x1="564.00" y1="194.30" x2="594.00" y2="194.30" stroke="#6b7585" stroke-width="0.88" stroke-dasharray="1.6 0.5 1 0.6 2 0.5" opacity="0.45"/><line x1="606.00" y1="194.30" x2="624.00" y2="194.30" stroke="#6b7585" stroke-width="0.88" stroke-dasharray="1.6 0.5 1 0.6 2 0.5" opacity="0.45"/><rect x="537.00" y="199.40" width="1.00" height="0.80" rx="0" fill="#8a93a0" /><line x1="541.40" y1="199.80" x2="555.40" y2="199.80" stroke="#505a68" stroke-width="0.96" stroke-dasharray="1.6 0.5 1 0.6 2 0.5" opacity="0.51"/><line x1="564.00" y1="199.80" x2="598.00" y2="199.80" stroke="#6b7585" stroke-width="0.88" stroke-dasharray="1.6 0.5 1 0.6 2 0.5" opacity="0.45"/><line x1="606.00" y1="199.80" x2="632.00" y2="199.80" stroke="#6b7585" stroke-width="0.88" stroke-dasharray="1.6 0.5 1 0.6 2 0.5" opacity="0.45"/></svg></div></div>
<div class="th" style="left:707px;top:79px"><div class="l"></div><div class="r"></div><div class="b"></div><div class="c" id="t4"><svg width="206" height="127" viewBox="708 79 206 127"><rect x="789.50" y="124.60" width="35.40" height="17.40" rx="0" fill="none" stroke="#bcd7df" stroke-width="0.6"/><circle cx="806.40" cy="130.70" r="3.0" fill="#e0463a" /><circle cx="806.40" cy="130.70" r="1.6" fill="#f6c8a0" /><line x1="792.70" y1="138.10" x2="821.00" y2="138.10" stroke="#4a5565" stroke-width="1.6" stroke-dasharray="1.6 0.5 1 0.6 2 0.5" opacity="0.8"/><rect x="768.80" y="138.10" width="15.20" height="4.50" rx="0.6" fill="#4caf3c" stroke="#eab060" stroke-width="0.5"/><line x1="770.50" y1="140.30" x2="782.00" y2="140.30" stroke="#e8f5e0" stroke-width="0.9" stroke-dasharray="1.6 0.5 1 0.6 2 0.5" opacity="0.9"/><path d="M784.1 140.9 L789.5 140.9" stroke="#e8b86a" stroke-width="0.6" fill="none" /><path d="M768.8 140 C764 135 766 120 763.4 116" stroke="#e6cfa8" stroke-width="0.6" fill="none" stroke-dasharray="1 1"/><path d="M768.8 141 C764 146 766 158 763.4 162.7" stroke="#e6cfa8" stroke-width="0.6" fill="none" stroke-dasharray="1 1"/><path d="M763.4 137.2 L768.8 139.8" stroke="#e6cfa8" stroke-width="0.6" fill="none" /><line x1="755.81" y1="115.29" x2="763.41" y2="115.29" stroke="#e8b86a" stroke-width="1.3" stroke-dasharray="1.6 0.5 1 0.6 2 0.5" opacity="0.8"/><line x1="755.81" y1="136.58" x2="763.41" y2="136.58" stroke="#e8b86a" stroke-width="1.3" stroke-dasharray="1.6 0.5 1 0.6 2 0.5" opacity="0.8"/><line x1="755.81" y1="162.01" x2="763.41" y2="162.01" stroke="#e8b86a" stroke-width="1.3" stroke-dasharray="1.6 0.5 1 0.6 2 0.5" opacity="0.8"/><path d="M754.3 106.8 L754.3 173.5" stroke="#e8b86a" stroke-width="0.6" fill="none" /><path d="M716.7 173.5 L754.3 173.5" stroke="#e8b86a" stroke-width="0.6" fill="none" /><rect x="716.26" y="172.00" width="6.95" height="1.74" rx="0.3" fill="#e8b86a" /><path d="M720.0 173.7 L720.0 179.4" stroke="#e8b86a" stroke-width="0.5" fill="none" /><line x1="729.73" y1="106.16" x2="741.68" y2="106.16" stroke="#c9a070" stroke-width="1.1" stroke-dasharray="1.6 0.5 1 0.6 2 0.5" opacity="0.7"/><line x1="736.25" y1="112.68" x2="743.85" y2="112.68" stroke="#e8b86a" stroke-width="1.1" stroke-dasharray="1.6 0.5 1 0.6 2 0.5" opacity="0.7"/><line x1="736.25" y1="115.51" x2="743.85" y2="115.51" stroke="#e8b86a" stroke-width="1.1" stroke-dasharray="1.6 0.5 1 0.6 2 0.5" opacity="0.7"/><line x1="736.25" y1="118.55" x2="752.55" y2="118.55" stroke="#8aa080" stroke-width="1.1" stroke-dasharray="1.6 0.5 1 0.6 2 0.5" opacity="0.7"/><line x1="740.59" y1="121.59" x2="752.55" y2="121.59" stroke="#e8b86a" stroke-width="1.1" stroke-dasharray="1.6 0.5 1 0.6 2 0.5" opacity="0.7"/><line x1="740.59" y1="124.20" x2="752.55" y2="124.20" stroke="#e8b86a" stroke-width="1.1" stroke-dasharray="1.6 0.5 1 0.6 2 0.5" opacity="0.7"/><line x1="710.17" y1="125.28" x2="735.16" y2="125.28" stroke="#7d8794" stroke-width="1.1" stroke-dasharray="1.6 0.5 1 0.6 2 0.5" opacity="0.7"/><line x1="737.34" y1="125.28" x2="753.63" y2="125.28" stroke="#e8b86a" stroke-width="1.1" stroke-dasharray="1.6 0.5 1 0.6 2 0.5" opacity="0.7"/><line x1="740.59" y1="128.11" x2="747.11" y2="128.11" stroke="#e8b86a" stroke-width="1.1" stroke-dasharray="1.6 0.5 1 0.6 2 0.5" opacity="0.7"/><line x1="746.03" y1="135.06" x2="752.55" y2="135.06" stroke="#7d8794" stroke-width="1.1" stroke-dasharray="1.6 0.5 1 0.6 2 0.5" opacity="0.7"/><line x1="746.03" y1="137.67" x2="752.55" y2="137.67" stroke="#7d8794" stroke-width="1.1" stroke-dasharray="1.6 0.5 1 0.6 2 0.5" opacity="0.7"/><line x1="746.03" y1="140.71" x2="752.55" y2="140.71" stroke="#7d8794" stroke-width="1.1" stroke-dasharray="1.6 0.5 1 0.6 2 0.5" opacity="0.7"/><line x1="749.29" y1="144.62" x2="753.63" y2="144.62" stroke="#e8b86a" stroke-width="1.1" stroke-dasharray="1.6 0.5 1 0.6 2 0.5" opacity="0.7"/><line x1="739.51" y1="144.19" x2="746.03" y2="144.19" stroke="#7d8794" stroke-width="1.1" stroke-dasharray="1.6 0.5 1 0.6 2 0.5" opacity="0.7"/><line x1="739.51" y1="147.45" x2="746.03" y2="147.45" stroke="#7d8794" stroke-width="1.1" stroke-dasharray="1.6 0.5 1 0.6 2 0.5" opacity="0.7"/><line x1="724.30" y1="149.62" x2="734.08" y2="149.62" stroke="#7d8794" stroke-width="1.1" stroke-dasharray="1.6 0.5 1 0.6 2 0.5" opacity="0.7"/><line x1="735.16" y1="153.32" x2="746.03" y2="153.32" stroke="#555" stroke-width="1.1" stroke-dasharray="1.6 0.5 1 0.6 2 0.5" opacity="0.7"/><line x1="747.11" y1="153.32" x2="753.63" y2="153.32" stroke="#e8b86a" stroke-width="1.1" stroke-dasharray="1.6 0.5 1 0.6 2 0.5" opacity="0.7"/><line x1="738.42" y1="156.57" x2="744.94" y2="156.57" stroke="#7d8794" stroke-width="1.1" stroke-dasharray="1.6 0.5 1 0.6 2 0.5" opacity="0.7"/><line x1="734.08" y1="162.66" x2="740.59" y2="162.66" stroke="#7d8794" stroke-width="1.1" stroke-dasharray="1.6 0.5 1 0.6 2 0.5" opacity="0.7"/><line x1="732.99" y1="165.92" x2="740.59" y2="165.92" stroke="#7d8794" stroke-width="1.1" stroke-dasharray="1.6 0.5 1 0.6 2 0.5" opacity="0.7"/><line x1="730.82" y1="169.18" x2="740.59" y2="169.18" stroke="#7d8794" stroke-width="1.1" stroke-dasharray="1.6 0.5 1 0.6 2 0.5" opacity="0.7"/><line x1="722.12" y1="179.39" x2="727.56" y2="179.39" stroke="#7d8794" stroke-width="1.1" stroke-dasharray="1.6 0.5 1 0.6 2 0.5" opacity="0.7"/><line x1="726.47" y1="185.48" x2="731.90" y2="185.48" stroke="#7d8794" stroke-width="1.1" stroke-dasharray="1.6 0.5 1 0.6 2 0.5" opacity="0.7"/><line x1="733.64" y1="185.48" x2="740.59" y2="185.48" stroke="#7d8794" stroke-width="1.1" stroke-dasharray="1.6 0.5 1 0.6 2 0.5" opacity="0.7"/><line x1="736.25" y1="191.99" x2="743.85" y2="191.99" stroke="#7d8794" stroke-width="1.1" stroke-dasharray="1.6 0.5 1 0.6 2 0.5" opacity="0.7"/><line x1="744.94" y1="191.99" x2="751.46" y2="191.99" stroke="#7d8794" stroke-width="1.1" stroke-dasharray="1.6 0.5 1 0.6 2 0.5" opacity="0.7"/><path d="M745.4 130.1 L745.4 142.0" stroke="#e8b86a" stroke-width="0.5" fill="none" /><path d="M746.7 151.8 L746.7 156.1" stroke="#e8b86a" stroke-width="0.5" fill="none" /><path d="M740.6 157.2 L740.6 169.2" stroke="#e8b86a" stroke-width="0.5" fill="none" /><path d="M734.1 185.5 L734.1 192.0" stroke="#e8b86a" stroke-width="0.5" fill="none" /><path d="M824.9 125.1 L829.7 126.4" stroke="#bcd7df" stroke-width="0.6" fill="none" /><rect x="829.69" y="124.20" width="15.21" height="4.35" rx="0.8" fill="#d9473c" stroke="#f0b070" stroke-width="0.4"/><line x1="831.86" y1="126.37" x2="842.72" y2="126.37" stroke="#f5d070" stroke-width="0.9" stroke-dasharray="1.6 0.5 1 0.6 2 0.5" opacity="0.9"/><path d="M845 126 C848 120 846 105 850.3 97.5" stroke="#e6b070" stroke-width="0.6" fill="none" stroke-dasharray="1 0.8"/><path d="M845 127 C848 140 846 150 850.3 154.5" stroke="#e6b070" stroke-width="0.6" fill="none" stroke-dasharray="1 0.8"/><path d="M847.1 111.6 L850.3 111.6" stroke="#e8b86a" stroke-width="0.5" fill="none" /><path d="M847.1 130.7 L850.3 130.7" stroke="#e8b86a" stroke-width="0.5" fill="none" /><line x1="850.33" y1="96.38" x2="855.76" y2="96.38" stroke="#d9473c" stroke-width="1.4" stroke-dasharray="1.6 0.5 1 0.6 2 0.5" opacity="0.85"/><line x1="850.33" y1="111.16" x2="855.76" y2="111.16" stroke="#d9473c" stroke-width="1.4" stroke-dasharray="1.6 0.5 1 0.6 2 0.5" opacity="0.85"/><line x1="850.33" y1="130.28" x2="855.76" y2="130.28" stroke="#d9473c" stroke-width="1.4" stroke-dasharray="1.6 0.5 1 0.6 2 0.5" opacity="0.85"/><line x1="850.33" y1="153.53" x2="861.19" y2="153.53" stroke="#d9473c" stroke-width="1.4" stroke-dasharray="1.6 0.5 1 0.6 2 0.5" opacity="0.85"/><line x1="862.28" y1="142.23" x2="869.89" y2="142.23" stroke="#d9473c" stroke-width="1.4" stroke-dasharray="1.6 0.5 1 0.6 2 0.5" opacity="0.85"/><line x1="862.28" y1="155.05" x2="869.89" y2="155.05" stroke="#d9473c" stroke-width="1.4" stroke-dasharray="1.6 0.5 1 0.6 2 0.5" opacity="0.85"/><line x1="862.28" y1="164.18" x2="868.80" y2="164.18" stroke="#d9473c" stroke-width="1.4" stroke-dasharray="1.6 0.5 1 0.6 2 0.5" opacity="0.85"/><path d="M856.8 92.0 L856.8 99.6" stroke="#e8b86a" stroke-width="0.5" fill="none" /><path d="M856.8 101.8 L856.8 108.3" stroke="#e8b86a" stroke-width="0.5" fill="none" /><path d="M856.8 110.5 L856.8 117.0" stroke="#e8b86a" stroke-width="0.5" fill="none" /><path d="M857.9 124.6 L857.9 134.4" stroke="#e8b86a" stroke-width="0.5" fill="none" /><path d="M871.0 137.7 L871.0 150.7" stroke="#e8b86a" stroke-width="0.5" fill="none" /><path d="M869.9 151.8 L869.9 158.3" stroke="#e8b86a" stroke-width="0.5" fill="none" /><path d="M869.9 160.5 L869.9 168.1" stroke="#e8b86a" stroke-width="0.5" fill="none" /><line x1="857.93" y1="92.04" x2="870.54" y2="92.04" stroke="#d9473c" stroke-width="1.2" stroke-dasharray="1.6 0.5 1 0.6 2 0.5" opacity="0.75"/><line x1="857.93" y1="94.65" x2="871.41" y2="94.65" stroke="#d9473c" stroke-width="1.2" stroke-dasharray="1.6 0.5 1 0.6 2 0.5" opacity="0.75"/><line x1="857.93" y1="97.69" x2="871.41" y2="97.69" stroke="#d9473c" stroke-width="1.2" stroke-dasharray="1.6 0.5 1 0.6 2 0.5" opacity="0.75"/><line x1="857.93" y1="99.64" x2="871.41" y2="99.64" stroke="#d9473c" stroke-width="1.2" stroke-dasharray="1.6 0.5 1 0.6 2 0.5" opacity="0.75"/><line x1="857.93" y1="101.82" x2="863.37" y2="101.82" stroke="#d9473c" stroke-width="1.2" stroke-dasharray="1.6 0.5 1 0.6 2 0.5" opacity="0.75"/><line x1="857.93" y1="104.64" x2="864.45" y2="104.64" stroke="#e8b86a" stroke-width="1.2" stroke-dasharray="1.6 0.5 1 0.6 2 0.5" opacity="0.75"/><line x1="857.93" y1="107.25" x2="864.45" y2="107.25" stroke="#d9473c" stroke-width="1.2" stroke-dasharray="1.6 0.5 1 0.6 2 0.5" opacity="0.75"/><line x1="867.71" y1="104.64" x2="876.41" y2="104.64" stroke="#7d8794" stroke-width="1.2" stroke-dasharray="1.6 0.5 1 0.6 2 0.5" opacity="0.75"/><line x1="867.71" y1="111.16" x2="872.06" y2="111.16" stroke="#7d8794" stroke-width="1.2" stroke-dasharray="1.6 0.5 1 0.6 2 0.5" opacity="0.75"/><line x1="867.71" y1="113.77" x2="873.15" y2="113.77" stroke="#7d8794" stroke-width="1.2" stroke-dasharray="1.6 0.5 1 0.6 2 0.5" opacity="0.75"/><line x1="867.71" y1="118.11" x2="881.84" y2="118.11" stroke="#7d8794" stroke-width="1.2" stroke-dasharray="1.6 0.5 1 0.6 2 0.5" opacity="0.75"/><line x1="867.71" y1="121.37" x2="881.84" y2="121.37" stroke="#7d8794" stroke-width="1.2" stroke-dasharray="1.6 0.5 1 0.6 2 0.5" opacity="0.75"/><line x1="857.93" y1="127.24" x2="873.15" y2="127.24" stroke="#e8b86a" stroke-width="1.2" stroke-dasharray="1.6 0.5 1 0.6 2 0.5" opacity="0.75"/><line x1="875.32" y1="124.63" x2="898.13" y2="124.63" stroke="#7d8794" stroke-width="1.2" stroke-dasharray="1.6 0.5 1 0.6 2 0.5" opacity="0.75"/><line x1="875.32" y1="127.24" x2="899.22" y2="127.24" stroke="#7d8794" stroke-width="1.2" stroke-dasharray="1.6 0.5 1 0.6 2 0.5" opacity="0.75"/><line x1="875.32" y1="130.28" x2="897.05" y2="130.28" stroke="#7d8794" stroke-width="1.2" stroke-dasharray="1.6 0.5 1 0.6 2 0.5" opacity="0.75"/><line x1="857.93" y1="133.32" x2="873.15" y2="133.32" stroke="#d9473c" stroke-width="1.2" stroke-dasharray="1.6 0.5 1 0.6 2 0.5" opacity="0.75"/><line x1="873.15" y1="133.32" x2="894.88" y2="133.32" stroke="#7d8794" stroke-width="1.2" stroke-dasharray="1.6 0.5 1 0.6 2 0.5" opacity="0.75"/><line x1="873.15" y1="135.93" x2="879.66" y2="135.93" stroke="#7d8794" stroke-width="1.2" stroke-dasharray="1.6 0.5 1 0.6 2 0.5" opacity="0.75"/><line x1="873.15" y1="142.45" x2="881.84" y2="142.45" stroke="#7d8794" stroke-width="1.2" stroke-dasharray="1.6 0.5 1 0.6 2 0.5" opacity="0.75"/><line x1="873.15" y1="145.28" x2="890.53" y2="145.28" stroke="#7d8794" stroke-width="1.2" stroke-dasharray="1.6 0.5 1 0.6 2 0.5" opacity="0.75"/><line x1="873.15" y1="148.10" x2="886.18" y2="148.10" stroke="#7d8794" stroke-width="1.2" stroke-dasharray="1.6 0.5 1 0.6 2 0.5" opacity="0.75"/><line x1="873.15" y1="150.71" x2="886.18" y2="150.71" stroke="#7d8794" stroke-width="1.2" stroke-dasharray="1.6 0.5 1 0.6 2 0.5" opacity="0.75"/><line x1="872.06" y1="152.45" x2="913.35" y2="152.45" stroke="#7d8794" stroke-width="1.2" stroke-dasharray="1.6 0.5 1 0.6 2 0.5" opacity="0.75"/><line x1="872.06" y1="155.49" x2="907.91" y2="155.49" stroke="#7d8794" stroke-width="1.2" stroke-dasharray="1.6 0.5 1 0.6 2 0.5" opacity="0.75"/><line x1="872.06" y1="158.31" x2="879.66" y2="158.31" stroke="#7d8794" stroke-width="1.2" stroke-dasharray="1.6 0.5 1 0.6 2 0.5" opacity="0.75"/><line x1="872.06" y1="161.57" x2="886.18" y2="161.57" stroke="#7d8794" stroke-width="1.2" stroke-dasharray="1.6 0.5 1 0.6 2 0.5" opacity="0.75"/><line x1="872.06" y1="164.61" x2="881.84" y2="164.61" stroke="#7d8794" stroke-width="1.2" stroke-dasharray="1.6 0.5 1 0.6 2 0.5" opacity="0.75"/><line x1="872.06" y1="167.66" x2="878.58" y2="167.66" stroke="#7d8794" stroke-width="1.2" stroke-dasharray="1.6 0.5 1 0.6 2 0.5" opacity="0.75"/><rect x="875.32" y="113.33" width="11.95" height="3.04" rx="1" fill="#d9473c" /></svg></div></div>

<div class="th" style="left:29px;top:249px"><div class="l"></div><div class="r"></div><div class="b"></div><div class="c" id="t5"><svg width="206" height="127" viewBox="30 249 206 127"><path d="M62.6 305 C66 290 75 277 85.4 276.2" stroke="#e0605a" stroke-width="0.8" fill="none" /><path d="M62.6 318 C66 333 75 346 85.4 346.8" stroke="#5aa050" stroke-width="0.8" fill="none" /><path d="M76.7 308 L85.4 308" stroke="#eab060" stroke-width="0.8" fill="none" /><rect x="39.80" y="305.00" width="36.90" height="13.10" rx="0.8" fill="#fff" stroke="#d8dfe6" stroke-width="0.4"/><circle cx="46.30" cy="311.60" r="2.5" fill="#e8b050" /><circle cx="46.30" cy="311.60" r="0.9" fill="#7a5a20" /><line x1="51.70" y1="311.60" x2="73.50" y2="311.60" stroke="#2a2a2a" stroke-width="4.0" stroke-dasharray="1.6 0.5 1 0.6 2 0.5" opacity="0.85"/><rect x="40.90" y="319.60" width="13.00" height="16.30" rx="0" fill="none" stroke="#cfdde3" stroke-width="0.5"/><rect x="44.50" y="323.00" width="1.30" height="7.00" rx="0" fill="#5aa0c8" /><rect x="46.50" y="323.00" width="1.30" height="7.00" rx="0" fill="#e89a70" /><path d="M47.4 336 L47.4 338 M38.7 338 L55 338 M38.7 338 L38.7 340 M55 338 L55 340" stroke="#cfdde3" stroke-width="0.5" fill="none" /><line x1="32.00" y1="339.80" x2="45.00" y2="339.80" stroke="#8fa0b0" stroke-width="0.9" stroke-dasharray="1.6 0.5 1 0.6 2 0.5" opacity="0.6"/><line x1="47.40" y1="339.80" x2="62.60" y2="339.80" stroke="#8fa0b0" stroke-width="0.9" stroke-dasharray="1.6 0.5 1 0.6 2 0.5" opacity="0.6"/><path d="M85.4 267.5 L85.4 284.9" stroke="#eed7b0" stroke-width="0.6" fill="none" /><rect x="85.40" y="297.90" width="30.40" height="19.50" rx="0" fill="none" stroke="#eed0a0" stroke-width="0.6"/><path d="M85.4 335.9 L85.4 355.5" stroke="#c8d8d0" stroke-width="0.6" fill="none" /><circle cx="99.80" cy="273.80" r="1.8" fill="#3a70c8" /><circle cx="99.80" cy="274.80" r="1.0" fill="#50b060" /><path d="M97.5 270.5 Q99.5 269 101 271" stroke="#6a7a8a" stroke-width="0.4" fill="none" /><path d="M97.5 306 L98.5 302.5 L102.5 302.5 L104 305 L103 307 L98 307Z" fill="#e8b050"/><circle cx="99.00" cy="343.00" r="1.5" fill="#e05a50" /><circle cx="101.50" cy="342.50" r="1.5" fill="#4a6a90" /><rect x="97.00" y="344.50" width="7.50" height="1.50" rx="0" fill="#6ab0c8" /><line x1="88.70" y1="282.00" x2="111.50" y2="282.00" stroke="#3a4050" stroke-width="1.6" stroke-dasharray="1.6 0.5 1 0.6 2 0.5" opacity="0.75"/><line x1="88.70" y1="313.80" x2="111.50" y2="313.80" stroke="#3a4050" stroke-width="1.6" stroke-dasharray="1.6 0.5 1 0.6 2 0.5" opacity="0.75"/><line x1="88.70" y1="352.90" x2="111.50" y2="352.90" stroke="#3a4050" stroke-width="1.6" stroke-dasharray="1.6 0.5 1 0.6 2 0.5" opacity="0.75"/><path d="M124 262 C118 264 121 272 117.5 275.5 C121 279 118 287 124 289" stroke="#e86a5a" stroke-width="0.6" fill="none" /><line x1="126.50" y1="263.12" x2="128.00" y2="263.12" stroke="#6f7886" stroke-width="1.0" stroke-dasharray="1.6 0.5 1 0.6 2 0.5" opacity="0.6"/><line x1="130.00" y1="262.52" x2="154.75" y2="262.52" stroke="#505866" stroke-width="1.1" stroke-dasharray="1.6 0.5 1 0.6 2 0.5" opacity="0.7"/><path d="M124 264.1 L181.0 264.1" stroke="#e86a5a" stroke-width="0.5" fill="none" /><line x1="126.50" y1="268.56" x2="128.00" y2="268.56" stroke="#6f7886" stroke-width="1.0" stroke-dasharray="1.6 0.5 1 0.6 2 0.5" opacity="0.6"/><line x1="130.00" y1="267.96" x2="159.25" y2="267.96" stroke="#505866" stroke-width="1.1" stroke-dasharray="1.6 0.5 1 0.6 2 0.5" opacity="0.7"/><path d="M124 269.6 L184.0 269.6" stroke="#eec8a0" stroke-width="0.5" fill="none" /><line x1="126.50" y1="273.99" x2="128.00" y2="273.99" stroke="#6f7886" stroke-width="1.0" stroke-dasharray="1.6 0.5 1 0.6 2 0.5" opacity="0.6"/><line x1="130.00" y1="273.39" x2="153.62" y2="273.39" stroke="#505866" stroke-width="1.1" stroke-dasharray="1.6 0.5 1 0.6 2 0.5" opacity="0.7"/><path d="M124 275.0 L176.5 275.0" stroke="#eec8a0" stroke-width="0.5" fill="none" /><line x1="126.50" y1="278.34" x2="128.00" y2="278.34" stroke="#6f7886" stroke-width="1.0" stroke-dasharray="1.6 0.5 1 0.6 2 0.5" opacity="0.6"/><line x1="130.00" y1="277.74" x2="154.75" y2="277.74" stroke="#505866" stroke-width="1.1" stroke-dasharray="1.6 0.5 1 0.6 2 0.5" opacity="0.7"/><path d="M124 279.3 L175.0 279.3" stroke="#eec8a0" stroke-width="0.5" fill="none" /><line x1="126.50" y1="282.68" x2="128.00" y2="282.68" stroke="#6f7886" stroke-width="1.0" stroke-dasharray="1.6 0.5 1 0.6 2 0.5" opacity="0.6"/><line x1="130.00" y1="282.08" x2="152.50" y2="282.08" stroke="#505866" stroke-width="1.1" stroke-dasharray="1.6 0.5 1 0.6 2 0.5" opacity="0.7"/><path d="M124 283.7 L178.0 283.7" stroke="#eec8a0" stroke-width="0.5" fill="none" /><line x1="126.50" y1="287.03" x2="128.00" y2="287.03" stroke="#6f7886" stroke-width="1.0" stroke-dasharray="1.6 0.5 1 0.6 2 0.5" opacity="0.6"/><line x1="130.00" y1="286.43" x2="155.88" y2="286.43" stroke="#505866" stroke-width="1.1" stroke-dasharray="1.6 0.5 1 0.6 2 0.5" opacity="0.7"/><path d="M124 288.0 L179.5 288.0" stroke="#e86a5a" stroke-width="0.5" fill="none" /><path d="M124 294 C118 296 121 304 117.5 307 C121 310 118 317 124 319" stroke="#eab060" stroke-width="0.6" fill="none" /><line x1="126.50" y1="294.68" x2="129.50" y2="294.68" stroke="#404856" stroke-width="1.2" stroke-dasharray="1.6 0.5 1 0.6 2 0.5" opacity="0.75"/><line x1="140.00" y1="294.68" x2="172.50" y2="294.68" stroke="#505866" stroke-width="1.1" stroke-dasharray="1.6 0.5 1 0.6 2 0.5" opacity="0.7"/><path d="M124 296.3 L200.0 296.3" stroke="#eed6b0" stroke-width="0.5" fill="none" /><line x1="126.50" y1="299.03" x2="129.50" y2="299.03" stroke="#404856" stroke-width="1.2" stroke-dasharray="1.6 0.5 1 0.6 2 0.5" opacity="0.75"/><line x1="131.00" y1="299.03" x2="154.50" y2="299.03" stroke="#505866" stroke-width="1.1" stroke-dasharray="1.6 0.5 1 0.6 2 0.5" opacity="0.7"/><path d="M124 300.6 L167.0 300.6" stroke="#eed6b0" stroke-width="0.5" fill="none" /><line x1="126.50" y1="303.38" x2="129.50" y2="303.38" stroke="#404856" stroke-width="1.2" stroke-dasharray="1.6 0.5 1 0.6 2 0.5" opacity="0.75"/><line x1="131.00" y1="303.38" x2="170.50" y2="303.38" stroke="#505866" stroke-width="1.1" stroke-dasharray="1.6 0.5 1 0.6 2 0.5" opacity="0.7"/><path d="M124 305.0 L199.0 305.0" stroke="#eed6b0" stroke-width="0.5" fill="none" /><line x1="126.50" y1="307.72" x2="129.50" y2="307.72" stroke="#404856" stroke-width="1.2" stroke-dasharray="1.6 0.5 1 0.6 2 0.5" opacity="0.75"/><line x1="131.00" y1="307.72" x2="162.50" y2="307.72" stroke="#505866" stroke-width="1.1" stroke-dasharray="1.6 0.5 1 0.6 2 0.5" opacity="0.7"/><path d="M124 309.3 L181.0 309.3" stroke="#e8a840" stroke-width="1.0" fill="none" /><line x1="126.50" y1="312.50" x2="129.50" y2="312.50" stroke="#404856" stroke-width="1.2" stroke-dasharray="1.6 0.5 1 0.6 2 0.5" opacity="0.75"/><line x1="131.00" y1="312.50" x2="159.50" y2="312.50" stroke="#505866" stroke-width="1.1" stroke-dasharray="1.6 0.5 1 0.6 2 0.5" opacity="0.7"/><path d="M124 314.1 L184.0 314.1" stroke="#eed6b0" stroke-width="0.5" fill="none" /><line x1="126.50" y1="317.50" x2="129.50" y2="317.50" stroke="#404856" stroke-width="1.2" stroke-dasharray="1.6 0.5 1 0.6 2 0.5" opacity="0.75"/><line x1="131.00" y1="317.50" x2="162.50" y2="317.50" stroke="#505866" stroke-width="1.1" stroke-dasharray="1.6 0.5 1 0.6 2 0.5" opacity="0.7"/><path d="M124 319.1 L191.0 319.1" stroke="#e8a840" stroke-width="1.0" fill="none" /><path d="M122 326 C117 329 121 338 117 344 C121 350 117 359 122 362" stroke="#b8ccc0" stroke-width="0.6" fill="none" /><line x1="126.50" y1="326.63" x2="140.00" y2="326.63" stroke="#404856" stroke-width="1.2" stroke-dasharray="1.6 0.5 1 0.6 2 0.5" opacity="0.75"/><path d="M124 328.2 L140.0 328.2" stroke="#c0d0d8" stroke-width="0.5" fill="none" /><line x1="144.00" y1="323.50" x2="176.00" y2="323.50" stroke="#606a78" stroke-width="1.0" stroke-dasharray="1.6 0.5 1 0.6 2 0.5" opacity="0.6"/><path d="M143.0 324.7 L176.0 324.7" stroke="#b8d0c0" stroke-width="0.5" fill="none" /><line x1="144.00" y1="328.50" x2="195.00" y2="328.50" stroke="#606a78" stroke-width="1.0" stroke-dasharray="1.6 0.5 1 0.6 2 0.5" opacity="0.6"/><path d="M143.0 329.7 L195.0 329.7" stroke="#b8d0c0" stroke-width="0.5" fill="none" /><line x1="126.50" y1="335.32" x2="152.00" y2="335.32" stroke="#404856" stroke-width="1.2" stroke-dasharray="1.6 0.5 1 0.6 2 0.5" opacity="0.75"/><path d="M124 336.9 L152.0 336.9" stroke="#c0d0d8" stroke-width="0.5" fill="none" /><line x1="168.00" y1="331.50" x2="215.00" y2="331.50" stroke="#606a78" stroke-width="1.0" stroke-dasharray="1.6 0.5 1 0.6 2 0.5" opacity="0.6"/><path d="M167.0 332.7 L215.0 332.7" stroke="#b8d0c0" stroke-width="0.5" fill="none" /><line x1="168.00" y1="336.00" x2="205.00" y2="336.00" stroke="#606a78" stroke-width="1.0" stroke-dasharray="1.6 0.5 1 0.6 2 0.5" opacity="0.6"/><path d="M167.0 337.2 L205.0 337.2" stroke="#b8d0c0" stroke-width="0.5" fill="none" /><line x1="126.50" y1="344.01" x2="145.00" y2="344.01" stroke="#404856" stroke-width="1.2" stroke-dasharray="1.6 0.5 1 0.6 2 0.5" opacity="0.75"/><path d="M124 345.6 L145.0 345.6" stroke="#c0d0d8" stroke-width="0.5" fill="none" /><line x1="155.00" y1="340.50" x2="172.00" y2="340.50" stroke="#606a78" stroke-width="1.0" stroke-dasharray="1.6 0.5 1 0.6 2 0.5" opacity="0.6"/><path d="M154.0 341.7 L172.0 341.7" stroke="#b8d0c0" stroke-width="0.5" fill="none" /><line x1="155.00" y1="345.00" x2="186.00" y2="345.00" stroke="#606a78" stroke-width="1.0" stroke-dasharray="1.6 0.5 1 0.6 2 0.5" opacity="0.6"/><path d="M154.0 346.2 L186.0 346.2" stroke="#b8d0c0" stroke-width="0.5" fill="none" /><line x1="126.50" y1="353.79" x2="140.00" y2="353.79" stroke="#404856" stroke-width="1.2" stroke-dasharray="1.6 0.5 1 0.6 2 0.5" opacity="0.75"/><path d="M124 355.4 L140.0 355.4" stroke="#c0d0d8" stroke-width="0.5" fill="none" /><line x1="152.00" y1="349.50" x2="168.00" y2="349.50" stroke="#606a78" stroke-width="1.0" stroke-dasharray="1.6 0.5 1 0.6 2 0.5" opacity="0.6"/><path d="M151.0 350.7 L168.0 350.7" stroke="#b8d0c0" stroke-width="0.5" fill="none" /><line x1="152.00" y1="354.00" x2="168.00" y2="354.00" stroke="#606a78" stroke-width="1.0" stroke-dasharray="1.6 0.5 1 0.6 2 0.5" opacity="0.6"/><path d="M151.0 355.2 L168.0 355.2" stroke="#b8d0c0" stroke-width="0.5" fill="none" /><line x1="126.50" y1="360.31" x2="150.00" y2="360.31" stroke="#404856" stroke-width="1.2" stroke-dasharray="1.6 0.5 1 0.6 2 0.5" opacity="0.75"/><path d="M124 361.9 L150.0 361.9" stroke="#c0d0d8" stroke-width="0.5" fill="none" /><line x1="156.00" y1="360.50" x2="196.00" y2="360.50" stroke="#606a78" stroke-width="1.0" stroke-dasharray="1.6 0.5 1 0.6 2 0.5" opacity="0.6"/><path d="M155.0 361.7 L196.0 361.7" stroke="#b8d0c0" stroke-width="0.5" fill="none" /><path d="M216.9 325 L216.9 362" stroke="#c8d4dc" stroke-width="0.5" fill="none" /><rect x="221.20" y="341.30" width="13.10" height="4.60" rx="0.8" fill="#fff" stroke="#7a8696" stroke-width="0.5"/><line x1="223.00" y1="343.60" x2="232.50" y2="343.60" stroke="#404856" stroke-width="1.0" stroke-dasharray="1.6 0.5 1 0.6 2 0.5" opacity="0.7"/></svg></div></div>
<div class="th" style="left:255px;top:249px"><div class="l"></div><div class="r"></div><div class="b"></div><div class="c" id="t6"><svg width="206" height="127" viewBox="256 249 206 127"><path d="M344.0 280.5 L356.0 302.2" stroke="#eab070" stroke-width="0.5" fill="none" /><path d="M358.1 302.2 L369.0 289.2" stroke="#eab070" stroke-width="0.5" fill="none" /><path d="M367.9 304.4 L382.0 300.1" stroke="#eab070" stroke-width="0.5" fill="none" /><path d="M391.8 299.0 L397.2 294.6" stroke="#eab070" stroke-width="0.5" fill="none" /><path d="M391.8 300.1 L408.1 306.6" stroke="#eab070" stroke-width="0.5" fill="none" /><path d="M391.8 301.2 L412.5 314.2" stroke="#eab070" stroke-width="0.5" fill="none" /><path d="M356.0 308.8 L377.7 328.3" stroke="#eab070" stroke-width="0.5" fill="none" /><path d="M405.9 283.8 L401.6 271.8" stroke="#eab070" stroke-width="0.5" fill="none" /><path d="M412.5 283.8 L420.1 271.8" stroke="#eab070" stroke-width="0.5" fill="none" /><path d="M417.9 285.9 L436.4 272.9" stroke="#eab070" stroke-width="0.5" fill="none" /><path d="M427.7 295.1 L441.8 287.0" stroke="#eab070" stroke-width="0.5" fill="none" /><path d="M434.2 295.7 L447.2 292.5" stroke="#eab070" stroke-width="0.5" fill="none" /><path d="M435.3 297.9 L449.4 299.4" stroke="#eab070" stroke-width="0.5" fill="none" /><path d="M434.2 300.1 L447.2 306.6" stroke="#eab070" stroke-width="0.5" fill="none" /><path d="M288.6 302.2 L296.2 289.2" stroke="#eab070" stroke-width="0.5" fill="none" /><path d="M295.1 302.2 L303.8 294.6" stroke="#eab070" stroke-width="0.5" fill="none" /><path d="M295.1 303.8 L308.2 303.3" stroke="#eab070" stroke-width="0.5" fill="none" /><path d="M294.0 305.9 L303.8 312.0" stroke="#eab070" stroke-width="0.5" fill="none" /><path d="M391.8 300.1 L403.8 299.4" stroke="#eab070" stroke-width="0.5" fill="none" /><line x1="352.7" y1="295.7" x2="374.4" y2="295.7" stroke="#6a7585" stroke-width="0.9" stroke-dasharray="1.6 0.5 1 0.6 2 0.5" opacity="0.6"/><rect x="316.84" y="275.08" width="51.06" height="5.43" rx="1.2" fill="#abd9e8" /><line x1="319.02" y1="277.68" x2="365.73" y2="277.68" stroke="#f0fafd" stroke-width="0.9" stroke-dasharray="1.6 0.5 1 0.6 2 0.5" opacity="0.8"/><rect x="348.35" y="302.24" width="19.56" height="6.52" rx="0.8" fill="#454545" /><line x1="349.87" y1="305.50" x2="366.39" y2="305.50" stroke="#fff" stroke-width="1.1" stroke-dasharray="1.6 0.5 1 0.6 2 0.5" opacity="0.9"/><rect x="366.82" y="283.77" width="10.86" height="5.43" rx="0.8" fill="#7cc1d2" /><line x1="367.91" y1="286.38" x2="376.60" y2="286.38" stroke="#fff" stroke-width="0.9" stroke-dasharray="1.6 0.5 1 0.6 2 0.5" opacity="0.8"/><rect x="276.64" y="301.15" width="18.47" height="5.43" rx="0.8" fill="#474747" /><line x1="278.16" y1="303.76" x2="293.38" y2="303.76" stroke="#fff" stroke-width="1.1" stroke-dasharray="1.6 0.5 1 0.6 2 0.5" opacity="0.9"/><rect x="273.38" y="284.85" width="9.78" height="4.35" rx="2" fill="#fff" stroke="#a0aab8" stroke-width="0.4"/><line x1="274.69" y1="287.03" x2="282.08" y2="287.03" stroke="#6a7585" stroke-width="0.9" stroke-dasharray="1.6 0.5 1 0.6 2 0.5" opacity="0.7"/><rect x="291.85" y="283.77" width="8.69" height="5.43" rx="0.5" fill="#f2aaa2" /><line x1="293.38" y1="286.38" x2="299.02" y2="286.38" stroke="#fff" stroke-width="1" stroke-dasharray="1.6 0.5 1 0.6 2 0.5" opacity="0.9"/><rect x="300.55" y="292.46" width="8.69" height="3.91" rx="0.5" fill="#dc5048" stroke="#f0b040" stroke-width="0.4"/><line x1="301.63" y1="294.42" x2="308.15" y2="294.42" stroke="#fff" stroke-width="0.9" stroke-dasharray="1.6 0.5 1 0.6 2 0.5" opacity="0.8"/><rect x="307.06" y="300.06" width="8.69" height="5.43" rx="0.5" fill="#d9534c" /><line x1="308.15" y1="302.67" x2="314.67" y2="302.67" stroke="#fff" stroke-width="0.9" stroke-dasharray="1.6 0.5 1 0.6 2 0.5" opacity="0.8"/><rect x="300.55" y="309.84" width="8.69" height="4.78" rx="0.5" fill="#d9534c" /><line x1="301.63" y1="312.23" x2="308.15" y2="312.23" stroke="#fff" stroke-width="0.9" stroke-dasharray="1.6 0.5 1 0.6 2 0.5" opacity="0.8"/><rect x="316.84" y="309.84" width="18.47" height="4.35" rx="2.2" fill="#fff" stroke="#7a8595" stroke-width="0.4"/><line x1="319.45" y1="312.02" x2="332.49" y2="312.02" stroke="#6a7585" stroke-width="0.9" stroke-dasharray="1.6 0.5 1 0.6 2 0.5" opacity="0.7"/><rect x="381.60" y="297.24" width="10.21" height="5.00" rx="0.5" fill="#2a66d6" /><line x1="382.68" y1="299.63" x2="390.72" y2="299.63" stroke="#fff" stroke-width="0.9" stroke-dasharray="1.6 0.5 1 0.6 2 0.5" opacity="0.85"/><rect x="377.25" y="328.31" width="10.21" height="5.43" rx="0.5" fill="#2a66d6" /><line x1="378.34" y1="330.92" x2="386.38" y2="330.92" stroke="#fff" stroke-width="0.9" stroke-dasharray="1.6 0.5 1 0.6 2 0.5" opacity="0.85"/><rect x="393.98" y="266.38" width="9.78" height="5.43" rx="1.2" fill="#9b5fb2" /><line x1="395.50" y1="268.99" x2="402.24" y2="268.99" stroke="#fff" stroke-width="0.9" stroke-dasharray="1.6 0.5 1 0.6 2 0.5" opacity="0.8"/><rect x="417.23" y="266.38" width="8.26" height="5.43" rx="1.2" fill="#9b5fb2" /><line x1="418.54" y1="268.99" x2="424.41" y2="268.99" stroke="#fff" stroke-width="0.9" stroke-dasharray="1.6 0.5 1 0.6 2 0.5" opacity="0.8"/><path d="M435.2 265.9 L451.2 265.9 L452.7 270.3 L451.2 274.6 L435.2 274.6 L433.7 270.3Z" fill="#9b5fb2"/><line x1="437.44" y1="268.99" x2="449.39" y2="268.99" stroke="#fff" stroke-width="0.9" stroke-dasharray="1.6 0.5 1 0.6 2 0.5" opacity="0.8"/><line x1="436.36" y1="271.60" x2="450.48" y2="271.60" stroke="#fff" stroke-width="0.9" stroke-dasharray="1.6 0.5 1 0.6 2 0.5" opacity="0.8"/><rect x="395.07" y="282.68" width="29.34" height="8.69" rx="4" fill="#4b6b82" /><line x1="400.50" y1="285.51" x2="418.97" y2="285.51" stroke="#fff" stroke-width="0.9" stroke-dasharray="1.6 0.5 1 0.6 2 0.5" opacity="0.8"/><line x1="398.33" y1="288.33" x2="421.15" y2="288.33" stroke="#fff" stroke-width="0.9" stroke-dasharray="1.6 0.5 1 0.6 2 0.5" opacity="0.8"/><rect x="417.89" y="295.07" width="17.38" height="6.08" rx="3" fill="#4b6b82" /><line x1="420.06" y1="298.11" x2="433.10" y2="298.11" stroke="#fff" stroke-width="0.9" stroke-dasharray="1.6 0.5 1 0.6 2 0.5" opacity="0.8"/><rect x="409.19" y="305.06" width="23.90" height="5.22" rx="3" fill="#4b6b82" stroke="#5aa070" stroke-width="0.3"/><line x1="411.37" y1="307.67" x2="430.92" y2="307.67" stroke="#fff" stroke-width="0.9" stroke-dasharray="1.6 0.5 1 0.6 2 0.5" opacity="0.8"/><rect x="405.50" y="313.54" width="13.91" height="5.43" rx="3" fill="#4b6b82" /><line x1="407.67" y1="316.14" x2="417.23" y2="316.14" stroke="#fff" stroke-width="0.9" stroke-dasharray="1.6 0.5 1 0.6 2 0.5" opacity="0.8"/><rect x="438.09" y="281.59" width="10.86" height="5.43" rx="2.5" fill="#d9534c" /><line x1="440.27" y1="284.31" x2="446.79" y2="284.31" stroke="#fff" stroke-width="0.9" stroke-dasharray="1.6 0.5 1 0.6 2 0.5" opacity="0.85"/><rect x="445.05" y="289.20" width="11.30" height="5.43" rx="2.5" fill="#d9534c" /><line x1="447.22" y1="291.92" x2="454.17" y2="291.92" stroke="#fff" stroke-width="0.9" stroke-dasharray="1.6 0.5 1 0.6 2 0.5" opacity="0.85"/><rect x="448.96" y="296.81" width="11.30" height="5.43" rx="2.5" fill="#d9534c" /><line x1="451.13" y1="299.52" x2="458.09" y2="299.52" stroke="#fff" stroke-width="0.9" stroke-dasharray="1.6 0.5 1 0.6 2 0.5" opacity="0.85"/><rect x="443.96" y="304.41" width="11.52" height="5.87" rx="2.5" fill="#d9534c" /><line x1="446.13" y1="307.34" x2="453.31" y2="307.34" stroke="#fff" stroke-width="0.9" stroke-dasharray="1.6 0.5 1 0.6 2 0.5" opacity="0.85"/><line x1="396.16" y1="321.14" x2="404.85" y2="321.14" stroke="#6a7585" stroke-width="0.9" stroke-dasharray="1.6 0.5 1 0.6 2 0.5" opacity="0.75"/><line x1="396.16" y1="325.16" x2="404.85" y2="325.16" stroke="#6a7585" stroke-width="0.9" stroke-dasharray="1.6 0.5 1 0.6 2 0.5" opacity="0.75"/><line x1="396.16" y1="329.18" x2="404.85" y2="329.18" stroke="#6a7585" stroke-width="0.9" stroke-dasharray="1.6 0.5 1 0.6 2 0.5" opacity="0.75"/><line x1="396.16" y1="333.20" x2="404.85" y2="333.20" stroke="#6a7585" stroke-width="0.9" stroke-dasharray="1.6 0.5 1 0.6 2 0.5" opacity="0.75"/><line x1="396.16" y1="337.22" x2="404.85" y2="337.22" stroke="#6a7585" stroke-width="0.9" stroke-dasharray="1.6 0.5 1 0.6 2 0.5" opacity="0.75"/><path d="M390.3 322.9 L390.3 335.9" stroke="#e8c8a0" stroke-width="0.4" fill="none" /><path d="M294.9 343.9 C290.9 341.9 289.9 335.9 284.9 335.9" stroke="#5a6272" stroke-width="0.5" fill="none" /><path d="M313.8 343.9 C317.8 341.9 318.8 335.9 323.8 335.9" stroke="#5a6272" stroke-width="0.5" fill="none" /><path d="M294.9 347.9 C290.9 349.9 289.9 355.9 284.9 355.9" stroke="#5a6272" stroke-width="0.5" fill="none" /><path d="M313.8 347.9 C317.8 349.9 318.8 355.9 323.8 355.9" stroke="#5a6272" stroke-width="0.5" fill="none" /><path d="M284.2 346.1 L291.9 346.1" stroke="#c0a0b0" stroke-width="0.5" fill="none" /><path d="M316.8 346.1 L323.8 346.1" stroke="#c0a0b0" stroke-width="0.5" fill="none" /><path d="M264.7 346.1 L272.3 346.1" stroke="#b8d0d8" stroke-width="0.5" fill="none" /><path d="M339.7 335.9 L346.2 335.9" stroke="#b8d0d8" stroke-width="0.5" fill="none" /><path d="M345.1 346.1 L353.3 346.1" stroke="#b8d0d8" stroke-width="0.5" fill="none" /><path d="M339.7 355.9 L346.2 355.9" stroke="#b8d0d8" stroke-width="0.5" fill="none" /><rect x="291.85" y="342.44" width="24.99" height="6.95" rx="0.8" fill="#d9534c" /><line x1="296.20" y1="345.91" x2="312.93" y2="345.91" stroke="#fff" stroke-width="1.3" stroke-dasharray="1.6 0.5 1 0.6 2 0.5" opacity="0.9"/><rect x="272.30" y="333.75" width="11.95" height="4.35" rx="0.3" fill="#dce8ec" /><line x1="274.47" y1="335.92" x2="282.51" y2="335.92" stroke="#7a8595" stroke-width="0.9" stroke-dasharray="1.6 0.5 1 0.6 2 0.5" opacity="0.6"/><rect x="272.30" y="343.96" width="11.95" height="4.35" rx="0.3" fill="#dce8ec" /><line x1="274.47" y1="346.13" x2="282.51" y2="346.13" stroke="#7a8595" stroke-width="0.9" stroke-dasharray="1.6 0.5 1 0.6 2 0.5" opacity="0.6"/><rect x="272.30" y="353.74" width="11.95" height="4.35" rx="0.3" fill="#dce8ec" /><line x1="274.47" y1="355.91" x2="282.51" y2="355.91" stroke="#7a8595" stroke-width="0.9" stroke-dasharray="1.6 0.5 1 0.6 2 0.5" opacity="0.6"/><rect x="323.80" y="333.75" width="15.86" height="4.35" rx="0.3" fill="#dce8ec" /><line x1="325.97" y1="335.92" x2="337.92" y2="335.92" stroke="#7a8595" stroke-width="0.9" stroke-dasharray="1.6 0.5 1 0.6 2 0.5" opacity="0.6"/><rect x="323.80" y="343.96" width="21.30" height="4.35" rx="0.3" fill="#dce8ec" /><line x1="325.97" y1="346.13" x2="343.35" y2="346.13" stroke="#7a8595" stroke-width="0.9" stroke-dasharray="1.6 0.5 1 0.6 2 0.5" opacity="0.6"/><rect x="323.80" y="353.74" width="15.86" height="4.35" rx="0.3" fill="#dce8ec" /><line x1="325.97" y1="355.91" x2="337.92" y2="355.91" stroke="#7a8595" stroke-width="0.9" stroke-dasharray="1.6 0.5 1 0.6 2 0.5" opacity="0.6"/><rect x="257.09" y="343.96" width="7.61" height="4.35" rx="0" fill="#fff" stroke="#b0c0c8" stroke-width="0.4"/><line x1="258.17" y1="346.13" x2="263.61" y2="346.13" stroke="#7a8595" stroke-width="0.9" stroke-dasharray="1.6 0.5 1 0.6 2 0.5" opacity="0.6"/><rect x="346.18" y="333.75" width="10.21" height="4.35" rx="0.3" fill="#86c4d4" stroke="#5a7a8a" stroke-width="0.3"/><line x1="347.48" y1="335.92" x2="355.09" y2="335.92" stroke="#2a5060" stroke-width="0.9" stroke-dasharray="1.6 0.5 1 0.6 2 0.5" opacity="0.6"/><rect x="353.35" y="343.96" width="15.65" height="4.35" rx="0.3" fill="#86c4d4" stroke="#5a7a8a" stroke-width="0.3"/><line x1="354.65" y1="346.13" x2="367.69" y2="346.13" stroke="#2a5060" stroke-width="0.9" stroke-dasharray="1.6 0.5 1 0.6 2 0.5" opacity="0.6"/><rect x="346.18" y="353.74" width="7.61" height="4.35" rx="0.3" fill="#86c4d4" stroke="#5a7a8a" stroke-width="0.3"/><line x1="347.48" y1="355.91" x2="352.48" y2="355.91" stroke="#2a5060" stroke-width="0.9" stroke-dasharray="1.6 0.5 1 0.6 2 0.5" opacity="0.6"/></svg></div></div>
<div class="th" style="left:481px;top:249px"><div class="l"></div><div class="r"></div><div class="b"></div><div class="c" id="t7" style="background:#545551"><svg width="206" height="127" viewBox="482 249 206 127"><path d="M568.8 267 L568.8 360.6" stroke="#a9ada9" stroke-width="0.6" fill="none" /><path d="M568.8 271 L568.8 274" stroke="#45b86c" stroke-width="0.7" fill="none" /><path d="M568.8 283 L568.8 286" stroke="#45b86c" stroke-width="0.7" fill="none" /><path d="M568.8 296 L568.8 299" stroke="#45b86c" stroke-width="0.7" fill="none" /><path d="M568.8 322 L568.8 325" stroke="#45b86c" stroke-width="0.7" fill="none" /><path d="M568.8 333 L568.8 336" stroke="#45b86c" stroke-width="0.7" fill="none" /><path d="M568.8 346 L568.8 349" stroke="#45b86c" stroke-width="0.7" fill="none" /><path d="M568.8 358 L568.8 361" stroke="#45b86c" stroke-width="0.7" fill="none" /><rect x="555.00" y="309.10" width="13.60" height="9.60" rx="0" fill="#5a9e6e" /><rect x="559.50" y="311.00" width="2.00" height="4.00" rx="0" fill="#c8d0e8" /><rect x="561.00" y="313.50" width="3.00" height="2.00" rx="0" fill="#e0a050" /><line x1="557.00" y1="317.20" x2="567.00" y2="317.20" stroke="#b8d8c8" stroke-width="0.8" stroke-dasharray="1.6 0.5 1 0.6 2 0.5" opacity="0.7"/><line x1="581.40" y1="251.00" x2="583.15" y2="251.00" stroke="#c4c8c4" stroke-width="0.8" stroke-dasharray="1.6 0.5 1 0.6 2 0.5" opacity="0.75"/><line x1="588.40" y1="253.50" x2="593.71" y2="253.50" stroke="#c4c8c4" stroke-width="0.8" stroke-dasharray="1.6 0.5 1 0.6 2 0.5" opacity="0.75"/><line x1="597.80" y1="253.00" x2="600.84" y2="253.00" stroke="#c4c8c4" stroke-width="0.8" stroke-dasharray="1.6 0.5 1 0.6 2 0.5" opacity="0.75"/><line x1="585.00" y1="258.00" x2="587.71" y2="258.00" stroke="#c4c8c4" stroke-width="0.8" stroke-dasharray="1.6 0.5 1 0.6 2 0.5" opacity="0.75"/><line x1="596.80" y1="257.50" x2="603.57" y2="257.50" stroke="#c4c8c4" stroke-width="0.8" stroke-dasharray="1.6 0.5 1 0.6 2 0.5" opacity="0.75"/><rect x="596.82" y="257.00" width="1.10" height="1.00" rx="0" fill="#3fbf6a" /><line x1="596.80" y1="258.50" x2="602.97" y2="258.50" stroke="#c4c8c4" stroke-width="0.8" stroke-dasharray="1.6 0.5 1 0.6 2 0.5" opacity="0.75"/><line x1="571.00" y1="268.50" x2="573.14" y2="268.50" stroke="#c4c8c4" stroke-width="0.8" stroke-dasharray="1.6 0.5 1 0.6 2 0.5" opacity="0.75"/><line x1="598.00" y1="265.75" x2="602.93" y2="265.75" stroke="#c4c8c4" stroke-width="0.8" stroke-dasharray="1.6 0.5 1 0.6 2 0.5" opacity="0.75"/><rect x="598.21" y="265.25" width="1.10" height="1.00" rx="0" fill="#3fbf6a" /><line x1="598.00" y1="267.25" x2="605.99" y2="267.25" stroke="#c4c8c4" stroke-width="0.8" stroke-dasharray="1.6 0.5 1 0.6 2 0.5" opacity="0.75"/><line x1="598.00" y1="268.75" x2="605.50" y2="268.75" stroke="#c4c8c4" stroke-width="0.8" stroke-dasharray="1.6 0.5 1 0.6 2 0.5" opacity="0.75"/><line x1="598.00" y1="270.25" x2="602.14" y2="270.25" stroke="#c4c8c4" stroke-width="0.8" stroke-dasharray="1.6 0.5 1 0.6 2 0.5" opacity="0.75"/><line x1="608.80" y1="265.85" x2="613.29" y2="265.85" stroke="#c4c8c4" stroke-width="0.8" stroke-dasharray="1.6 0.5 1 0.6 2 0.5" opacity="0.75"/><rect x="613.08" y="265.35" width="1.10" height="1.00" rx="0" fill="#3fbf6a" /><line x1="608.80" y1="267.55" x2="612.91" y2="267.55" stroke="#c4c8c4" stroke-width="0.8" stroke-dasharray="1.6 0.5 1 0.6 2 0.5" opacity="0.75"/><rect x="612.16" y="267.05" width="1.10" height="1.00" rx="0" fill="#3fbf6a" /><line x1="608.80" y1="269.25" x2="612.17" y2="269.25" stroke="#c4c8c4" stroke-width="0.8" stroke-dasharray="1.6 0.5 1 0.6 2 0.5" opacity="0.75"/><line x1="608.80" y1="270.95" x2="613.16" y2="270.95" stroke="#c4c8c4" stroke-width="0.8" stroke-dasharray="1.6 0.5 1 0.6 2 0.5" opacity="0.75"/><line x1="608.80" y1="272.65" x2="612.83" y2="272.65" stroke="#c4c8c4" stroke-width="0.8" stroke-dasharray="1.6 0.5 1 0.6 2 0.5" opacity="0.75"/><line x1="603.80" y1="276.25" x2="607.95" y2="276.25" stroke="#c4c8c4" stroke-width="0.8" stroke-dasharray="1.6 0.5 1 0.6 2 0.5" opacity="0.75"/><rect x="607.40" y="275.75" width="1.10" height="1.00" rx="0" fill="#3fbf6a" /><line x1="584.00" y1="282.80" x2="590.73" y2="282.80" stroke="#c4c8c4" stroke-width="0.8" stroke-dasharray="1.6 0.5 1 0.6 2 0.5" opacity="0.75"/><line x1="584.00" y1="284.40" x2="590.59" y2="284.40" stroke="#c4c8c4" stroke-width="0.8" stroke-dasharray="1.6 0.5 1 0.6 2 0.5" opacity="0.75"/><line x1="584.00" y1="286.00" x2="594.32" y2="286.00" stroke="#c4c8c4" stroke-width="0.8" stroke-dasharray="1.6 0.5 1 0.6 2 0.5" opacity="0.75"/><line x1="590.90" y1="289.88" x2="597.86" y2="289.88" stroke="#c4c8c4" stroke-width="0.8" stroke-dasharray="1.6 0.5 1 0.6 2 0.5" opacity="0.75"/><line x1="590.90" y1="291.62" x2="597.73" y2="291.62" stroke="#c4c8c4" stroke-width="0.8" stroke-dasharray="1.6 0.5 1 0.6 2 0.5" opacity="0.75"/><rect x="594.15" y="291.12" width="1.10" height="1.00" rx="0" fill="#3fbf6a" /><line x1="590.90" y1="293.38" x2="598.12" y2="293.38" stroke="#c4c8c4" stroke-width="0.8" stroke-dasharray="1.6 0.5 1 0.6 2 0.5" opacity="0.75"/><rect x="597.56" y="292.88" width="1.10" height="1.00" rx="0" fill="#3fbf6a" /><line x1="590.90" y1="295.12" x2="598.36" y2="295.12" stroke="#c4c8c4" stroke-width="0.8" stroke-dasharray="1.6 0.5 1 0.6 2 0.5" opacity="0.75"/><line x1="600.80" y1="294.05" x2="608.99" y2="294.05" stroke="#c4c8c4" stroke-width="0.8" stroke-dasharray="1.6 0.5 1 0.6 2 0.5" opacity="0.75"/><line x1="585.00" y1="297.98" x2="591.86" y2="297.98" stroke="#c4c8c4" stroke-width="0.8" stroke-dasharray="1.6 0.5 1 0.6 2 0.5" opacity="0.75"/><line x1="585.00" y1="299.93" x2="591.86" y2="299.93" stroke="#c4c8c4" stroke-width="0.8" stroke-dasharray="1.6 0.5 1 0.6 2 0.5" opacity="0.75"/><rect x="585.64" y="299.43" width="1.10" height="1.00" rx="0" fill="#3fbf6a" /><line x1="585.00" y1="301.88" x2="593.50" y2="301.88" stroke="#c4c8c4" stroke-width="0.8" stroke-dasharray="1.6 0.5 1 0.6 2 0.5" opacity="0.75"/><line x1="585.00" y1="303.82" x2="592.41" y2="303.82" stroke="#c4c8c4" stroke-width="0.8" stroke-dasharray="1.6 0.5 1 0.6 2 0.5" opacity="0.75"/><line x1="585.00" y1="305.77" x2="592.67" y2="305.77" stroke="#c4c8c4" stroke-width="0.8" stroke-dasharray="1.6 0.5 1 0.6 2 0.5" opacity="0.75"/><line x1="585.00" y1="307.72" x2="591.05" y2="307.72" stroke="#c4c8c4" stroke-width="0.8" stroke-dasharray="1.6 0.5 1 0.6 2 0.5" opacity="0.75"/><line x1="595.80" y1="301.25" x2="605.14" y2="301.25" stroke="#c4c8c4" stroke-width="0.8" stroke-dasharray="1.6 0.5 1 0.6 2 0.5" opacity="0.75"/><line x1="594.90" y1="305.85" x2="600.74" y2="305.85" stroke="#c4c8c4" stroke-width="0.8" stroke-dasharray="1.6 0.5 1 0.6 2 0.5" opacity="0.75"/><rect x="596.94" y="305.35" width="1.10" height="1.00" rx="0" fill="#3fbf6a" /><line x1="579.00" y1="265.00" x2="583.82" y2="265.00" stroke="#c4c8c4" stroke-width="0.8" stroke-dasharray="1.6 0.5 1 0.6 2 0.5" opacity="0.75"/><circle cx="587.60" cy="251.80" r="1.2" fill="#d8dcd8" /><path d="M581.4 262 L610.8 262" stroke="#9a9e9a" stroke-width="0.4" fill="none" /><path d="M581.4 262 L583.9 260.8 L586.4 262 L583.9 263.2Z" fill="#dcdfdc"/><path d="M587.9 262 L590.4 260.8 L592.9 262 L590.4 263.2Z" fill="#dcdfdc"/><path d="M593.6 262 L596.1 260.8 L598.6 262 L596.1 263.2Z" fill="#dcdfdc"/><path d="M605.8 262 L608.3 260.8 L610.8 262 L608.3 263.2Z" fill="#dcdfdc"/><rect x="578.00" y="261.00" width="2.20" height="3.80" rx="0" fill="#d8dcd8" /><path d="M595 273.5 L601.5 273 L603 276 L606 277 L605 280.5 L598 281.3 L595 280Z" fill="#b4bac2"/><rect x="584.00" y="277.00" width="8.00" height="1.00" rx="0" fill="#a0a4a0" /><rect x="584.50" y="276.60" width="1.20" height="1.20" rx="0" fill="#e05050" /><rect x="588.00" y="276.60" width="1.20" height="1.20" rx="0" fill="#e05050" /><rect x="590.50" y="276.60" width="1.20" height="1.20" rx="0" fill="#3fbf6a" /><rect x="579.50" y="281.00" width="1.80" height="2.30" rx="0" fill="#e05050" /><ellipse cx="583" cy="295.8" rx="2.2" ry="1.3" fill="#dfe3df"/><ellipse cx="583" cy="301.7" rx="2.2" ry="1.3" fill="#dfe3df"/><ellipse cx="583" cy="306.2" rx="2.2" ry="1.3" fill="#dfe3df"/><rect x="584.40" y="307.70" width="5.50" height="4.00" rx="0" fill="#e6eae6" opacity="0.8"/><rect x="572.00" y="308.00" width="2.00" height="2.50" rx="0" fill="#f0f0e8" /><rect x="573.00" y="309.50" width="1.50" height="1.50" rx="0" fill="#e04848" /><path d="M576 309.5 L584 309.5" stroke="#a0a4a0" stroke-width="0.4" fill="none" /><line x1="584.70" y1="312.75" x2="591.17" y2="312.75" stroke="#c4c8c4" stroke-width="0.8" stroke-dasharray="1.6 0.5 1 0.6 2 0.5" opacity="0.75"/><line x1="584.70" y1="314.25" x2="589.17" y2="314.25" stroke="#c4c8c4" stroke-width="0.8" stroke-dasharray="1.6 0.5 1 0.6 2 0.5" opacity="0.75"/><rect x="588.34" y="313.75" width="1.10" height="1.00" rx="0" fill="#3fbf6a" /><line x1="580.20" y1="316.25" x2="583.31" y2="316.25" stroke="#c4c8c4" stroke-width="0.8" stroke-dasharray="1.6 0.5 1 0.6 2 0.5" opacity="0.75"/><line x1="580.20" y1="318.75" x2="583.15" y2="318.75" stroke="#c4c8c4" stroke-width="0.8" stroke-dasharray="1.6 0.5 1 0.6 2 0.5" opacity="0.75"/><line x1="580.70" y1="322.85" x2="586.49" y2="322.85" stroke="#c4c8c4" stroke-width="0.8" stroke-dasharray="1.6 0.5 1 0.6 2 0.5" opacity="0.75"/><line x1="591.30" y1="322.50" x2="598.41" y2="322.50" stroke="#c4c8c4" stroke-width="0.8" stroke-dasharray="1.6 0.5 1 0.6 2 0.5" opacity="0.75"/><line x1="591.30" y1="324.30" x2="601.21" y2="324.30" stroke="#c4c8c4" stroke-width="0.8" stroke-dasharray="1.6 0.5 1 0.6 2 0.5" opacity="0.75"/><line x1="588.80" y1="326.06" x2="609.23" y2="326.06" stroke="#c4c8c4" stroke-width="0.8" stroke-dasharray="1.6 0.5 1 0.6 2 0.5" opacity="0.75"/><line x1="588.80" y1="327.78" x2="603.72" y2="327.78" stroke="#c4c8c4" stroke-width="0.8" stroke-dasharray="1.6 0.5 1 0.6 2 0.5" opacity="0.75"/><rect x="601.88" y="327.28" width="1.10" height="1.00" rx="0" fill="#3fbf6a" /><line x1="588.80" y1="329.50" x2="601.41" y2="329.50" stroke="#c4c8c4" stroke-width="0.8" stroke-dasharray="1.6 0.5 1 0.6 2 0.5" opacity="0.75"/><rect x="598.96" y="329.00" width="1.10" height="1.00" rx="0" fill="#3fbf6a" /><line x1="588.80" y1="331.22" x2="608.05" y2="331.22" stroke="#c4c8c4" stroke-width="0.8" stroke-dasharray="1.6 0.5 1 0.6 2 0.5" opacity="0.75"/><line x1="588.80" y1="332.94" x2="608.73" y2="332.94" stroke="#c4c8c4" stroke-width="0.8" stroke-dasharray="1.6 0.5 1 0.6 2 0.5" opacity="0.75"/><rect x="593.94" y="332.44" width="1.10" height="1.00" rx="0" fill="#3fbf6a" /><line x1="580.20" y1="330.30" x2="584.78" y2="330.30" stroke="#c4c8c4" stroke-width="0.8" stroke-dasharray="1.6 0.5 1 0.6 2 0.5" opacity="0.75"/><line x1="581.20" y1="338.15" x2="590.68" y2="338.15" stroke="#c4c8c4" stroke-width="0.8" stroke-dasharray="1.6 0.5 1 0.6 2 0.5" opacity="0.75"/><rect x="584.41" y="337.65" width="1.10" height="1.00" rx="0" fill="#3fbf6a" /><line x1="581.20" y1="339.85" x2="596.58" y2="339.85" stroke="#c4c8c4" stroke-width="0.8" stroke-dasharray="1.6 0.5 1 0.6 2 0.5" opacity="0.75"/><line x1="581.20" y1="341.55" x2="595.34" y2="341.55" stroke="#c4c8c4" stroke-width="0.8" stroke-dasharray="1.6 0.5 1 0.6 2 0.5" opacity="0.75"/><line x1="588.30" y1="345.40" x2="592.75" y2="345.40" stroke="#c4c8c4" stroke-width="0.8" stroke-dasharray="1.6 0.5 1 0.6 2 0.5" opacity="0.75"/><line x1="592.30" y1="347.16" x2="603.13" y2="347.16" stroke="#c4c8c4" stroke-width="0.8" stroke-dasharray="1.6 0.5 1 0.6 2 0.5" opacity="0.75"/><line x1="592.30" y1="348.69" x2="599.60" y2="348.69" stroke="#c4c8c4" stroke-width="0.8" stroke-dasharray="1.6 0.5 1 0.6 2 0.5" opacity="0.75"/><rect x="598.42" y="348.19" width="1.10" height="1.00" rx="0" fill="#3fbf6a" /><line x1="592.30" y1="350.21" x2="605.05" y2="350.21" stroke="#c4c8c4" stroke-width="0.8" stroke-dasharray="1.6 0.5 1 0.6 2 0.5" opacity="0.75"/><line x1="592.30" y1="351.74" x2="603.67" y2="351.74" stroke="#c4c8c4" stroke-width="0.8" stroke-dasharray="1.6 0.5 1 0.6 2 0.5" opacity="0.75"/><line x1="587.80" y1="353.33" x2="591.75" y2="353.33" stroke="#c4c8c4" stroke-width="0.8" stroke-dasharray="1.6 0.5 1 0.6 2 0.5" opacity="0.75"/><line x1="587.80" y1="355.00" x2="591.07" y2="355.00" stroke="#c4c8c4" stroke-width="0.8" stroke-dasharray="1.6 0.5 1 0.6 2 0.5" opacity="0.75"/><line x1="587.80" y1="356.67" x2="590.99" y2="356.67" stroke="#c4c8c4" stroke-width="0.8" stroke-dasharray="1.6 0.5 1 0.6 2 0.5" opacity="0.75"/><line x1="589.00" y1="358.44" x2="597.59" y2="358.44" stroke="#c4c8c4" stroke-width="0.8" stroke-dasharray="1.6 0.5 1 0.6 2 0.5" opacity="0.75"/><line x1="589.00" y1="360.31" x2="605.61" y2="360.31" stroke="#c4c8c4" stroke-width="0.8" stroke-dasharray="1.6 0.5 1 0.6 2 0.5" opacity="0.75"/><rect x="598.86" y="359.81" width="1.10" height="1.00" rx="0" fill="#3fbf6a" /><line x1="589.00" y1="362.19" x2="602.97" y2="362.19" stroke="#c4c8c4" stroke-width="0.8" stroke-dasharray="1.6 0.5 1 0.6 2 0.5" opacity="0.75"/><line x1="589.00" y1="364.06" x2="602.47" y2="364.06" stroke="#c4c8c4" stroke-width="0.8" stroke-dasharray="1.6 0.5 1 0.6 2 0.5" opacity="0.75"/><line x1="570.00" y1="362.70" x2="576.47" y2="362.70" stroke="#c4c8c4" stroke-width="0.8" stroke-dasharray="1.6 0.5 1 0.6 2 0.5" opacity="0.75"/><line x1="582.20" y1="366.52" x2="612.12" y2="366.52" stroke="#c4c8c4" stroke-width="0.8" stroke-dasharray="1.6 0.5 1 0.6 2 0.5" opacity="0.75"/><rect x="585.04" y="366.02" width="1.10" height="1.00" rx="0" fill="#3fbf6a" /><line x1="582.20" y1="368.36" x2="599.37" y2="368.36" stroke="#c4c8c4" stroke-width="0.8" stroke-dasharray="1.6 0.5 1 0.6 2 0.5" opacity="0.75"/><rect x="589.87" y="367.86" width="1.10" height="1.00" rx="0" fill="#3fbf6a" /><line x1="582.20" y1="370.20" x2="600.11" y2="370.20" stroke="#c4c8c4" stroke-width="0.8" stroke-dasharray="1.6 0.5 1 0.6 2 0.5" opacity="0.75"/><line x1="582.20" y1="372.04" x2="608.19" y2="372.04" stroke="#c4c8c4" stroke-width="0.8" stroke-dasharray="1.6 0.5 1 0.6 2 0.5" opacity="0.75"/><rect x="596.20" y="371.54" width="1.10" height="1.00" rx="0" fill="#3fbf6a" /><line x1="582.20" y1="373.88" x2="602.99" y2="373.88" stroke="#c4c8c4" stroke-width="0.8" stroke-dasharray="1.6 0.5 1 0.6 2 0.5" opacity="0.75"/><rect x="577.30" y="329.20" width="1.70" height="2.20" rx="0" fill="#e04848" /><rect x="571.80" y="334.00" width="2.60" height="3.60" rx="0" fill="#eceeec" /><rect x="581.50" y="349.40" width="2.50" height="2.10" rx="0" fill="#e8a040" /><rect x="582.50" y="350.30" width="1.00" height="1.70" rx="0" fill="#d04040" /><ellipse cx="590" cy="351" rx="2.3" ry="1.4" fill="#e4e8e4"/><rect x="570.00" y="361.80" width="9.20" height="1.80" rx="0" fill="#e8ece8" opacity="0.7"/><path d="M568.8 268 L571 268 M568.8 309 L571 309 M568.8 335 L571 335 M568.8 362 L571 362" stroke="#9a9e9a" stroke-width="0.4" fill="none" /></svg></div></div>
<div class="th" style="left:707px;top:249px"><div class="l"></div><div class="r"></div><div class="b"></div><div class="c" id="t8"><svg width="206" height="127" viewBox="708 249 206 127"><circle cx="811.90" cy="315.30" r="20.2" fill="#acdbe8" /><rect x="809.00" y="309.00" width="6.00" height="4.50" rx="0" fill="#f0b050" /><rect x="811.50" y="309.00" width="1.00" height="4.50" rx="0" fill="#5aa0d0" /><rect x="808.50" y="307.80" width="7.00" height="1.50" rx="0" fill="#e8a040" /><rect x="809.80" y="306.50" width="1.50" height="1.30" rx="0" fill="#5aa0d0" /><rect x="812.70" y="306.50" width="1.50" height="1.30" rx="0" fill="#5aa0d0" /><line x1="801.00" y1="320.80" x2="823.50" y2="320.80" stroke="#8a3a3a" stroke-width="2.6" stroke-dasharray="1.6 0.5 1 0.6 2 0.5" opacity="0.7"/><rect x="763.70" y="275.50" width="13.00" height="12.50" rx="0" fill="#dcebf0" opacity="0.75"/><circle cx="767.40" cy="278.50" r="1.7" fill="#f4d8c8" /><circle cx="773.00" cy="278.50" r="1.7" fill="#f4d8c8" /><rect x="765.60" y="276.40" width="3.60" height="1.40" rx="0" fill="#c03a30" /><rect x="771.20" y="276.40" width="3.60" height="1.40" rx="0" fill="#3a3a3a" /><rect x="765.70" y="280.40" width="3.40" height="6.10" rx="0" fill="#e05a50" /><rect x="771.30" y="280.40" width="3.40" height="6.10" rx="0" fill="#5aa8c0" /><rect x="766.40" y="286.50" width="2.00" height="1.00" rx="0" fill="#505050" /><rect x="772.00" y="286.50" width="2.00" height="1.00" rx="0" fill="#3a7a50" /><line x1="766.30" y1="291.90" x2="774.00" y2="291.90" stroke="#e06050" stroke-width="1.6" stroke-dasharray="1.6 0.5 1 0.6 2 0.5" opacity="0.8"/><rect x="848.20" y="278.50" width="13.00" height="12.50" rx="0" fill="#dcebf0" opacity="0.75"/><circle cx="851.90" cy="281.50" r="1.7" fill="#f4d8c8" /><circle cx="857.50" cy="281.50" r="1.7" fill="#f4d8c8" /><rect x="850.10" y="279.40" width="3.60" height="1.40" rx="0" fill="#f0a0a0" /><rect x="855.70" y="279.40" width="3.60" height="1.40" rx="0" fill="#8a8a8a" /><rect x="850.20" y="283.40" width="3.40" height="6.10" rx="0" fill="#f0a8a0" /><rect x="855.80" y="283.40" width="3.40" height="6.10" rx="0" fill="#3a3a3a" /><rect x="850.90" y="289.50" width="2.00" height="1.00" rx="0" fill="#505050" /><rect x="856.50" y="289.50" width="2.00" height="1.00" rx="0" fill="#3a7a50" /><line x1="849.50" y1="295.20" x2="860.00" y2="295.20" stroke="#e06050" stroke-width="1.6" stroke-dasharray="1.6 0.5 1 0.6 2 0.5" opacity="0.75"/><rect x="763.70" y="335.50" width="13.00" height="12.50" rx="0" fill="#dcebf0" opacity="0.75"/><circle cx="767.40" cy="338.50" r="1.7" fill="#f4d8c8" /><circle cx="773.00" cy="338.50" r="1.7" fill="#f4d8c8" /><rect x="765.60" y="336.40" width="3.60" height="1.40" rx="0" fill="#3a3a3a" /><rect x="771.20" y="336.40" width="3.60" height="1.40" rx="0" fill="#3a3a3a" /><rect x="765.70" y="340.40" width="3.40" height="6.10" rx="0" fill="#e05a50" /><rect x="771.30" y="340.40" width="3.40" height="6.10" rx="0" fill="#7a90a8" /><rect x="766.40" y="346.50" width="2.00" height="1.00" rx="0" fill="#505050" /><rect x="772.00" y="346.50" width="2.00" height="1.00" rx="0" fill="#3a7a50" /><line x1="766.30" y1="352.00" x2="774.00" y2="352.00" stroke="#e06050" stroke-width="1.6" stroke-dasharray="1.6 0.5 1 0.6 2 0.5" opacity="0.8"/><rect x="848.50" y="337.50" width="5.00" height="6.50" rx="0" fill="#3560b0" /><rect x="854.00" y="337.50" width="5.00" height="6.50" rx="0" fill="#e05a40" /><circle cx="851.00" cy="335.60" r="1.6" fill="#e8c098" /><circle cx="856.50" cy="335.60" r="1.6" fill="#e0a040" /><rect x="849.50" y="333.50" width="3.00" height="1.00" rx="0" fill="#3a3a3a" /><line x1="846.50" y1="349.40" x2="860.50" y2="349.40" stroke="#e06050" stroke-width="1.6" stroke-dasharray="1.6 0.5 1 0.6 2 0.5" opacity="0.75"/><line x1="714.52" y1="256.61" x2="732.99" y2="256.61" stroke="#5a6474" stroke-width="0.9" stroke-dasharray="1.6 0.5 1 0.6 2 0.5" opacity="0.5"/><line x1="725.38" y1="263.78" x2="732.99" y2="263.78" stroke="#5a6474" stroke-width="0.9" stroke-dasharray="1.6 0.5 1 0.6 2 0.5" opacity="0.5"/><line x1="714.52" y1="269.64" x2="732.99" y2="269.64" stroke="#5a6474" stroke-width="0.9" stroke-dasharray="1.6 0.5 1 0.6 2 0.5" opacity="0.5"/><line x1="725.38" y1="275.51" x2="732.99" y2="275.51" stroke="#5a6474" stroke-width="0.9" stroke-dasharray="1.6 0.5 1 0.6 2 0.5" opacity="0.5"/><line x1="714.52" y1="282.03" x2="732.99" y2="282.03" stroke="#5a6474" stroke-width="0.9" stroke-dasharray="1.6 0.5 1 0.6 2 0.5" opacity="0.5"/><line x1="725.38" y1="288.11" x2="732.99" y2="288.11" stroke="#5a6474" stroke-width="0.9" stroke-dasharray="1.6 0.5 1 0.6 2 0.5" opacity="0.5"/><line x1="714.52" y1="294.63" x2="732.99" y2="294.63" stroke="#5a6474" stroke-width="0.9" stroke-dasharray="1.6 0.5 1 0.6 2 0.5" opacity="0.5"/><line x1="725.38" y1="300.72" x2="732.99" y2="300.72" stroke="#5a6474" stroke-width="0.9" stroke-dasharray="1.6 0.5 1 0.6 2 0.5" opacity="0.5"/><line x1="714.52" y1="307.24" x2="732.99" y2="307.24" stroke="#5a6474" stroke-width="0.9" stroke-dasharray="1.6 0.5 1 0.6 2 0.5" opacity="0.5"/><line x1="725.38" y1="313.10" x2="732.99" y2="313.10" stroke="#5a6474" stroke-width="0.9" stroke-dasharray="1.6 0.5 1 0.6 2 0.5" opacity="0.5"/><line x1="714.52" y1="323.97" x2="732.99" y2="323.97" stroke="#5a6474" stroke-width="0.9" stroke-dasharray="1.6 0.5 1 0.6 2 0.5" opacity="0.5"/><line x1="725.38" y1="330.49" x2="732.99" y2="330.49" stroke="#5a6474" stroke-width="0.9" stroke-dasharray="1.6 0.5 1 0.6 2 0.5" opacity="0.5"/><line x1="714.52" y1="336.57" x2="732.99" y2="336.57" stroke="#5a6474" stroke-width="0.9" stroke-dasharray="1.6 0.5 1 0.6 2 0.5" opacity="0.5"/><line x1="725.38" y1="342.87" x2="732.99" y2="342.87" stroke="#5a6474" stroke-width="0.9" stroke-dasharray="1.6 0.5 1 0.6 2 0.5" opacity="0.5"/><line x1="714.52" y1="349.39" x2="732.99" y2="349.39" stroke="#5a6474" stroke-width="0.9" stroke-dasharray="1.6 0.5 1 0.6 2 0.5" opacity="0.5"/><line x1="725.38" y1="355.48" x2="732.99" y2="355.48" stroke="#5a6474" stroke-width="0.9" stroke-dasharray="1.6 0.5 1 0.6 2 0.5" opacity="0.5"/><line x1="714.52" y1="361.99" x2="732.99" y2="361.99" stroke="#5a6474" stroke-width="0.9" stroke-dasharray="1.6 0.5 1 0.6 2 0.5" opacity="0.5"/><line x1="725.38" y1="368.08" x2="732.99" y2="368.08" stroke="#5a6474" stroke-width="0.9" stroke-dasharray="1.6 0.5 1 0.6 2 0.5" opacity="0.5"/><line x1="741.68" y1="258.78" x2="748.20" y2="258.78" stroke="#5a6474" stroke-width="1.0" stroke-dasharray="1.6 0.5 1 0.6 2 0.5" opacity="0.6"/><line x1="741.68" y1="271.82" x2="748.20" y2="271.82" stroke="#5a6474" stroke-width="1.0" stroke-dasharray="1.6 0.5 1 0.6 2 0.5" opacity="0.6"/><line x1="741.68" y1="284.85" x2="748.20" y2="284.85" stroke="#5a6474" stroke-width="1.0" stroke-dasharray="1.6 0.5 1 0.6 2 0.5" opacity="0.6"/><line x1="741.68" y1="297.89" x2="748.20" y2="297.89" stroke="#5a6474" stroke-width="1.0" stroke-dasharray="1.6 0.5 1 0.6 2 0.5" opacity="0.6"/><line x1="741.68" y1="310.50" x2="748.20" y2="310.50" stroke="#5a6474" stroke-width="1.0" stroke-dasharray="1.6 0.5 1 0.6 2 0.5" opacity="0.6"/><line x1="741.68" y1="326.79" x2="748.20" y2="326.79" stroke="#5a6474" stroke-width="1.0" stroke-dasharray="1.6 0.5 1 0.6 2 0.5" opacity="0.6"/><line x1="741.68" y1="339.83" x2="748.20" y2="339.83" stroke="#5a6474" stroke-width="1.0" stroke-dasharray="1.6 0.5 1 0.6 2 0.5" opacity="0.6"/><line x1="741.68" y1="352.87" x2="748.20" y2="352.87" stroke="#5a6474" stroke-width="1.0" stroke-dasharray="1.6 0.5 1 0.6 2 0.5" opacity="0.6"/><line x1="741.68" y1="365.25" x2="748.20" y2="365.25" stroke="#5a6474" stroke-width="1.0" stroke-dasharray="1.6 0.5 1 0.6 2 0.5" opacity="0.6"/><line x1="876.41" y1="269.64" x2="882.92" y2="269.64" stroke="#5a6474" stroke-width="1.0" stroke-dasharray="1.6 0.5 1 0.6 2 0.5" opacity="0.6"/><line x1="876.41" y1="282.03" x2="882.92" y2="282.03" stroke="#5a6474" stroke-width="1.0" stroke-dasharray="1.6 0.5 1 0.6 2 0.5" opacity="0.6"/><line x1="876.41" y1="294.63" x2="882.92" y2="294.63" stroke="#5a6474" stroke-width="1.0" stroke-dasharray="1.6 0.5 1 0.6 2 0.5" opacity="0.6"/><line x1="876.41" y1="307.24" x2="882.92" y2="307.24" stroke="#5a6474" stroke-width="1.0" stroke-dasharray="1.6 0.5 1 0.6 2 0.5" opacity="0.6"/><line x1="876.41" y1="323.97" x2="882.92" y2="323.97" stroke="#5a6474" stroke-width="1.0" stroke-dasharray="1.6 0.5 1 0.6 2 0.5" opacity="0.6"/><line x1="876.41" y1="336.57" x2="882.92" y2="336.57" stroke="#5a6474" stroke-width="1.0" stroke-dasharray="1.6 0.5 1 0.6 2 0.5" opacity="0.6"/><line x1="876.41" y1="349.39" x2="882.92" y2="349.39" stroke="#5a6474" stroke-width="1.0" stroke-dasharray="1.6 0.5 1 0.6 2 0.5" opacity="0.6"/><line x1="876.41" y1="361.99" x2="882.92" y2="361.99" stroke="#5a6474" stroke-width="1.0" stroke-dasharray="1.6 0.5 1 0.6 2 0.5" opacity="0.6"/><line x1="891.62" y1="265.95" x2="911.17" y2="265.95" stroke="#5a6474" stroke-width="0.9" stroke-dasharray="1.6 0.5 1 0.6 2 0.5" opacity="0.5"/><line x1="891.62" y1="272.25" x2="900.31" y2="272.25" stroke="#5a6474" stroke-width="0.9" stroke-dasharray="1.6 0.5 1 0.6 2 0.5" opacity="0.5"/><line x1="891.62" y1="278.77" x2="911.17" y2="278.77" stroke="#5a6474" stroke-width="0.9" stroke-dasharray="1.6 0.5 1 0.6 2 0.5" opacity="0.5"/><line x1="891.62" y1="284.85" x2="900.31" y2="284.85" stroke="#5a6474" stroke-width="0.9" stroke-dasharray="1.6 0.5 1 0.6 2 0.5" opacity="0.5"/><line x1="891.62" y1="291.37" x2="911.17" y2="291.37" stroke="#5a6474" stroke-width="0.9" stroke-dasharray="1.6 0.5 1 0.6 2 0.5" opacity="0.5"/><line x1="891.62" y1="297.24" x2="900.31" y2="297.24" stroke="#5a6474" stroke-width="0.9" stroke-dasharray="1.6 0.5 1 0.6 2 0.5" opacity="0.5"/><line x1="891.62" y1="303.76" x2="911.17" y2="303.76" stroke="#5a6474" stroke-width="0.9" stroke-dasharray="1.6 0.5 1 0.6 2 0.5" opacity="0.5"/><line x1="891.62" y1="310.28" x2="900.31" y2="310.28" stroke="#5a6474" stroke-width="0.9" stroke-dasharray="1.6 0.5 1 0.6 2 0.5" opacity="0.5"/><line x1="891.62" y1="320.71" x2="911.17" y2="320.71" stroke="#5a6474" stroke-width="0.9" stroke-dasharray="1.6 0.5 1 0.6 2 0.5" opacity="0.5"/><line x1="891.62" y1="326.79" x2="900.31" y2="326.79" stroke="#5a6474" stroke-width="0.9" stroke-dasharray="1.6 0.5 1 0.6 2 0.5" opacity="0.5"/><line x1="891.62" y1="333.09" x2="911.17" y2="333.09" stroke="#5a6474" stroke-width="0.9" stroke-dasharray="1.6 0.5 1 0.6 2 0.5" opacity="0.5"/><line x1="891.62" y1="339.61" x2="900.31" y2="339.61" stroke="#5a6474" stroke-width="0.9" stroke-dasharray="1.6 0.5 1 0.6 2 0.5" opacity="0.5"/><line x1="891.62" y1="345.70" x2="911.17" y2="345.70" stroke="#5a6474" stroke-width="0.9" stroke-dasharray="1.6 0.5 1 0.6 2 0.5" opacity="0.5"/><line x1="891.62" y1="352.22" x2="900.31" y2="352.22" stroke="#5a6474" stroke-width="0.9" stroke-dasharray="1.6 0.5 1 0.6 2 0.5" opacity="0.5"/><line x1="891.62" y1="358.73" x2="911.17" y2="358.73" stroke="#5a6474" stroke-width="0.9" stroke-dasharray="1.6 0.5 1 0.6 2 0.5" opacity="0.5"/><line x1="891.62" y1="365.25" x2="900.31" y2="365.25" stroke="#5a6474" stroke-width="0.9" stroke-dasharray="1.6 0.5 1 0.6 2 0.5" opacity="0.5"/><path d="M752.5 284.9 L760.2 284.9" stroke="#b8c8d0" stroke-width="0.5" fill="none" stroke-dasharray="0.8 1.2"/><path d="M779.7 283.8 L783.0 281.6" stroke="#b8c8d0" stroke-width="0.5" fill="none" stroke-dasharray="0.8 1.2"/><path d="M840.6 287.0 L844.9 288.1" stroke="#b8c8d0" stroke-width="0.5" fill="none" stroke-dasharray="0.8 1.2"/><path d="M867.7 288.1 L873.1 288.1" stroke="#b8c8d0" stroke-width="0.5" fill="none" stroke-dasharray="0.8 1.2"/><path d="M753.6 345.7 L760.2 343.5" stroke="#b8c8d0" stroke-width="0.5" fill="none" stroke-dasharray="0.8 1.2"/><path d="M777.5 342.4 L783.0 344.6" stroke="#b8c8d0" stroke-width="0.5" fill="none" stroke-dasharray="0.8 1.2"/><path d="M838.4 340.3 L842.7 341.4" stroke="#b8c8d0" stroke-width="0.5" fill="none" stroke-dasharray="0.8 1.2"/><path d="M860.1 341.4 L864.5 340.3" stroke="#b8c8d0" stroke-width="0.5" fill="none" stroke-dasharray="0.8 1.2"/></svg></div></div>

<div class="th" style="left:29px;top:419px"><div class="l"></div><div class="r"></div><div class="b"></div><div class="c" id="t9"><svg width="206" height="127" viewBox="30 419 206 127"><path d="M37 483.2 C38.5 483.2 38 461.1 40.5 461.1" stroke="#c4ccd8" stroke-width="0.4" fill="none" /><path d="M37 483.2 C38.5 483.2 38 464.3 40.5 464.3" stroke="#c4ccd8" stroke-width="0.4" fill="none" /><path d="M37 483.2 C38.5 483.2 38 467.4 40.5 467.4" stroke="#c4ccd8" stroke-width="0.4" fill="none" /><path d="M37 483.2 C38.5 483.2 38 470.7 40.5 470.7" stroke="#c4ccd8" stroke-width="0.4" fill="none" /><path d="M37 483.2 C38.5 483.2 38 473.9 40.5 473.9" stroke="#c4ccd8" stroke-width="0.4" fill="none" /><path d="M37 483.2 C38.5 483.2 38 477.0 40.5 477.0" stroke="#c4ccd8" stroke-width="0.4" fill="none" /><path d="M37 483.2 C38.5 483.2 38 480.2 40.5 480.2" stroke="#c4ccd8" stroke-width="0.4" fill="none" /><path d="M37 483.2 C38.5 483.2 38 483.5 40.5 483.5" stroke="#c4ccd8" stroke-width="0.4" fill="none" /><path d="M37 483.2 C38.5 483.2 38 487.0 40.5 487.0" stroke="#c4ccd8" stroke-width="0.4" fill="none" /><path d="M37 483.2 C38.5 483.2 38 490.0 40.5 490.0" stroke="#c4ccd8" stroke-width="0.4" fill="none" /><path d="M37 483.2 C38.5 483.2 38 493.3 40.5 493.3" stroke="#c4ccd8" stroke-width="0.4" fill="none" /><path d="M37 483.2 C38.5 483.2 38 496.5 40.5 496.5" stroke="#c4ccd8" stroke-width="0.4" fill="none" /><path d="M37 483.2 C38.5 483.2 38 499.8 40.5 499.8" stroke="#c4ccd8" stroke-width="0.4" fill="none" /><path d="M37 483.2 C38.5 483.2 38 503.0 40.5 503.0" stroke="#c4ccd8" stroke-width="0.4" fill="none" /><path d="M37 483.2 C38.5 483.2 38 506.0 40.5 506.0" stroke="#c4ccd8" stroke-width="0.4" fill="none" /><path d="M38.3 470 L38.3 478" stroke="#9070b8" stroke-width="0.5" fill="none" /><circle cx="34.30" cy="483.20" r="2.7" fill="#e04848" /><rect x="33.40" y="482.20" width="2.20" height="2.10" rx="0" fill="#fff" opacity="0.6"/><line x1="32.00" y1="487.80" x2="37.00" y2="487.80" stroke="#c08080" stroke-width="0.6" stroke-dasharray="1.6 0.5 1 0.6 2 0.5" opacity="0.5"/><ellipse cx="43.2" cy="461.1" rx="2.7" ry="1.15" fill="#e05050" opacity="0.85"/><path d="M46.3 461.6 L191.7 461.6" stroke="#e8c890" stroke-width="0.5" fill="none" /><rect x="47.00" y="460.50" width="3.63" height="0.90" rx="0" fill="#8a94a4" opacity="0.4"/><rect x="52.69" y="460.50" width="4.81" height="0.90" rx="0" fill="#8a94a4" opacity="0.4"/><rect x="59.47" y="460.50" width="3.77" height="0.90" rx="0" fill="#8a94a4" opacity="0.4"/><rect x="65.32" y="460.50" width="2.96" height="0.90" rx="0" fill="#8a94a4" opacity="0.4"/><rect x="70.30" y="460.50" width="4.07" height="0.90" rx="0" fill="#8a94a4" opacity="0.4"/><rect x="76.67" y="460.50" width="2.74" height="0.90" rx="0" fill="#8a94a4" opacity="0.4"/><rect x="81.20" y="460.50" width="2.73" height="0.90" rx="0" fill="#8a94a4" opacity="0.4"/><rect x="86.24" y="460.50" width="4.23" height="0.90" rx="0" fill="#8a94a4" opacity="0.4"/><rect x="92.02" y="460.50" width="4.96" height="0.90" rx="0" fill="#8a94a4" opacity="0.4"/><rect x="99.44" y="460.50" width="4.13" height="0.90" rx="0" fill="#8a94a4" opacity="0.4"/><rect x="105.69" y="460.50" width="2.89" height="0.90" rx="0" fill="#8a94a4" opacity="0.4"/><rect x="110.09" y="460.50" width="3.82" height="0.90" rx="0" fill="#8a94a4" opacity="0.4"/><rect x="115.48" y="460.50" width="2.98" height="0.90" rx="0" fill="#8a94a4" opacity="0.4"/><rect x="120.19" y="460.50" width="2.58" height="0.90" rx="0" fill="#8a94a4" opacity="0.4"/><rect x="124.73" y="460.50" width="3.60" height="0.90" rx="0" fill="#8a94a4" opacity="0.4"/><rect x="130.68" y="460.50" width="3.80" height="0.90" rx="0" fill="#8a94a4" opacity="0.4"/><rect x="136.61" y="460.50" width="3.75" height="0.90" rx="0" fill="#8a94a4" opacity="0.4"/><rect x="142.53" y="460.50" width="3.64" height="0.90" rx="0" fill="#8a94a4" opacity="0.4"/><rect x="147.95" y="460.50" width="4.99" height="0.90" rx="0" fill="#8a94a4" opacity="0.4"/><rect x="155.44" y="460.50" width="4.60" height="0.90" rx="0" fill="#8a94a4" opacity="0.4"/><rect x="162.25" y="460.50" width="3.29" height="0.90" rx="0" fill="#8a94a4" opacity="0.4"/><rect x="167.26" y="460.50" width="3.22" height="0.90" rx="0" fill="#8a94a4" opacity="0.4"/><rect x="172.06" y="460.50" width="4.42" height="0.90" rx="0" fill="#8a94a4" opacity="0.4"/><rect x="178.37" y="460.50" width="4.62" height="0.90" rx="0" fill="#8a94a4" opacity="0.4"/><rect x="184.88" y="460.50" width="4.90" height="0.90" rx="0" fill="#8a94a4" opacity="0.4"/><rect x="48.00" y="460.00" width="1.00" height="1.40" rx="0" fill="#e8b040" opacity="0.8"/><rect x="54.71" y="460.00" width="1.00" height="1.40" rx="0" fill="#e05050" opacity="0.8"/><rect x="61.63" y="460.00" width="1.00" height="1.40" rx="0" fill="#3060d0" opacity="0.8"/><rect x="66.89" y="460.00" width="1.00" height="1.40" rx="0" fill="#9060b0" opacity="0.8"/><rect x="71.24" y="460.00" width="1.00" height="1.40" rx="0" fill="#e05050" opacity="0.8"/><rect x="81.57" y="460.00" width="1.00" height="1.40" rx="0" fill="#3060d0" opacity="0.8"/><rect x="84.61" y="460.00" width="1.00" height="1.40" rx="0" fill="#e8b040" opacity="0.8"/><rect x="88.32" y="460.00" width="1.00" height="1.40" rx="0" fill="#e8b040" opacity="0.8"/><rect x="99.44" y="460.00" width="1.00" height="1.40" rx="0" fill="#e05050" opacity="0.8"/><rect x="102.90" y="460.00" width="1.00" height="1.40" rx="0" fill="#e8b040" opacity="0.8"/><rect x="112.81" y="460.00" width="1.00" height="1.40" rx="0" fill="#e05050" opacity="0.8"/><rect x="116.65" y="460.00" width="1.00" height="1.40" rx="0" fill="#3060d0" opacity="0.8"/><rect x="119.82" y="460.00" width="1.00" height="1.40" rx="0" fill="#e8b040" opacity="0.8"/><rect x="128.17" y="460.00" width="1.00" height="1.40" rx="0" fill="#3060d0" opacity="0.8"/><rect x="131.46" y="460.00" width="1.00" height="1.40" rx="0" fill="#e8b040" opacity="0.8"/><rect x="134.53" y="460.00" width="1.00" height="1.40" rx="0" fill="#e8b040" opacity="0.8"/><rect x="138.03" y="460.00" width="1.00" height="1.40" rx="0" fill="#40a060" opacity="0.8"/><rect x="144.50" y="460.00" width="1.00" height="1.40" rx="0" fill="#40a060" opacity="0.8"/><rect x="148.74" y="460.00" width="1.00" height="1.40" rx="0" fill="#e8b040" opacity="0.8"/><rect x="154.65" y="460.00" width="1.00" height="1.40" rx="0" fill="#e8b040" opacity="0.8"/><rect x="160.39" y="460.00" width="1.00" height="1.40" rx="0" fill="#e8b040" opacity="0.8"/><rect x="165.81" y="460.00" width="1.00" height="1.40" rx="0" fill="#3060d0" opacity="0.8"/><rect x="169.24" y="460.00" width="1.00" height="1.40" rx="0" fill="#9060b0" opacity="0.8"/><rect x="182.61" y="460.00" width="1.00" height="1.40" rx="0" fill="#40a060" opacity="0.8"/><ellipse cx="43.2" cy="464.3" rx="2.7" ry="1.15" fill="#40a060" opacity="0.85"/><path d="M46.3 464.8 L204.2 464.8" stroke="#9fd0dc" stroke-width="0.5" fill="none" /><rect x="47.00" y="463.70" width="3.70" height="0.90" rx="0" fill="#8a94a4" opacity="0.4"/><rect x="52.85" y="463.70" width="4.04" height="0.90" rx="0" fill="#8a94a4" opacity="0.4"/><rect x="58.47" y="463.70" width="3.03" height="0.90" rx="0" fill="#8a94a4" opacity="0.4"/><rect x="63.91" y="463.70" width="4.37" height="0.90" rx="0" fill="#8a94a4" opacity="0.4"/><rect x="69.85" y="463.70" width="3.53" height="0.90" rx="0" fill="#8a94a4" opacity="0.4"/><rect x="75.13" y="463.70" width="2.62" height="0.90" rx="0" fill="#8a94a4" opacity="0.4"/><rect x="79.53" y="463.70" width="3.83" height="0.90" rx="0" fill="#8a94a4" opacity="0.4"/><rect x="85.83" y="463.70" width="2.73" height="0.90" rx="0" fill="#8a94a4" opacity="0.4"/><rect x="90.20" y="463.70" width="3.63" height="0.90" rx="0" fill="#8a94a4" opacity="0.4"/><rect x="95.66" y="463.70" width="4.33" height="0.90" rx="0" fill="#8a94a4" opacity="0.4"/><rect x="102.01" y="463.70" width="4.87" height="0.90" rx="0" fill="#8a94a4" opacity="0.4"/><rect x="108.97" y="463.70" width="4.81" height="0.90" rx="0" fill="#8a94a4" opacity="0.4"/><rect x="115.75" y="463.70" width="3.39" height="0.90" rx="0" fill="#8a94a4" opacity="0.4"/><rect x="120.96" y="463.70" width="2.58" height="0.90" rx="0" fill="#8a94a4" opacity="0.4"/><rect x="125.64" y="463.70" width="2.69" height="0.90" rx="0" fill="#8a94a4" opacity="0.4"/><rect x="129.89" y="463.70" width="3.28" height="0.90" rx="0" fill="#8a94a4" opacity="0.4"/><rect x="134.81" y="463.70" width="2.68" height="0.90" rx="0" fill="#8a94a4" opacity="0.4"/><rect x="139.44" y="463.70" width="3.42" height="0.90" rx="0" fill="#8a94a4" opacity="0.4"/><rect x="144.40" y="463.70" width="4.84" height="0.90" rx="0" fill="#8a94a4" opacity="0.4"/><rect x="151.48" y="463.70" width="2.82" height="0.90" rx="0" fill="#8a94a4" opacity="0.4"/><rect x="156.77" y="463.70" width="3.35" height="0.90" rx="0" fill="#8a94a4" opacity="0.4"/><rect x="161.71" y="463.70" width="3.68" height="0.90" rx="0" fill="#8a94a4" opacity="0.4"/><rect x="166.97" y="463.70" width="4.64" height="0.90" rx="0" fill="#8a94a4" opacity="0.4"/><rect x="174.06" y="463.70" width="2.58" height="0.90" rx="0" fill="#8a94a4" opacity="0.4"/><rect x="178.63" y="463.70" width="2.54" height="0.90" rx="0" fill="#8a94a4" opacity="0.4"/><rect x="183.33" y="463.70" width="3.45" height="0.90" rx="0" fill="#8a94a4" opacity="0.4"/><rect x="188.29" y="463.70" width="2.68" height="0.90" rx="0" fill="#8a94a4" opacity="0.4"/><rect x="192.56" y="463.70" width="2.79" height="0.90" rx="0" fill="#8a94a4" opacity="0.4"/><rect x="197.11" y="463.70" width="3.54" height="0.90" rx="0" fill="#8a94a4" opacity="0.4"/><rect x="53.78" y="463.20" width="1.00" height="1.40" rx="0" fill="#e8b040" opacity="0.8"/><rect x="60.13" y="463.20" width="1.00" height="1.40" rx="0" fill="#e05050" opacity="0.8"/><rect x="64.37" y="463.20" width="1.00" height="1.40" rx="0" fill="#e05050" opacity="0.8"/><rect x="79.96" y="463.20" width="1.00" height="1.40" rx="0" fill="#e05050" opacity="0.8"/><rect x="84.43" y="463.20" width="1.00" height="1.40" rx="0" fill="#e8b040" opacity="0.8"/><rect x="98.87" y="463.20" width="1.00" height="1.40" rx="0" fill="#e05050" opacity="0.8"/><rect x="104.54" y="463.20" width="1.00" height="1.40" rx="0" fill="#e05050" opacity="0.8"/><rect x="114.55" y="463.20" width="1.00" height="1.40" rx="0" fill="#e8b040" opacity="0.8"/><rect x="119.88" y="463.20" width="1.00" height="1.40" rx="0" fill="#40a060" opacity="0.8"/><rect x="123.42" y="463.20" width="1.00" height="1.40" rx="0" fill="#e05050" opacity="0.8"/><rect x="133.37" y="463.20" width="1.00" height="1.40" rx="0" fill="#e8b040" opacity="0.8"/><rect x="144.58" y="463.20" width="1.00" height="1.40" rx="0" fill="#e8b040" opacity="0.8"/><rect x="170.75" y="463.20" width="1.00" height="1.40" rx="0" fill="#30a0c0" opacity="0.8"/><rect x="178.06" y="463.20" width="1.00" height="1.40" rx="0" fill="#e8b040" opacity="0.8"/><rect x="195.53" y="463.20" width="1.00" height="1.40" rx="0" fill="#30a0c0" opacity="0.8"/><ellipse cx="43.2" cy="467.4" rx="2.7" ry="1.15" fill="#e8b040" opacity="0.85"/><path d="M46.3 467.9 L193.9 467.9" stroke="#ebbd70" stroke-width="0.5" fill="none" /><rect x="47.00" y="466.80" width="4.21" height="0.90" rx="0" fill="#8a94a4" opacity="0.4"/><rect x="52.91" y="466.80" width="3.69" height="0.90" rx="0" fill="#8a94a4" opacity="0.4"/><rect x="58.28" y="466.80" width="2.53" height="0.90" rx="0" fill="#8a94a4" opacity="0.4"/><rect x="62.78" y="466.80" width="4.29" height="0.90" rx="0" fill="#8a94a4" opacity="0.4"/><rect x="68.74" y="466.80" width="3.18" height="0.90" rx="0" fill="#8a94a4" opacity="0.4"/><rect x="73.77" y="466.80" width="4.24" height="0.90" rx="0" fill="#8a94a4" opacity="0.4"/><rect x="80.03" y="466.80" width="4.04" height="0.90" rx="0" fill="#8a94a4" opacity="0.4"/><rect x="86.32" y="466.80" width="3.48" height="0.90" rx="0" fill="#8a94a4" opacity="0.4"/><rect x="92.10" y="466.80" width="4.77" height="0.90" rx="0" fill="#8a94a4" opacity="0.4"/><rect x="98.45" y="466.80" width="4.83" height="0.90" rx="0" fill="#8a94a4" opacity="0.4"/><rect x="105.51" y="466.80" width="2.82" height="0.90" rx="0" fill="#8a94a4" opacity="0.4"/><rect x="110.28" y="466.80" width="4.06" height="0.90" rx="0" fill="#8a94a4" opacity="0.4"/><rect x="116.76" y="466.80" width="3.44" height="0.90" rx="0" fill="#8a94a4" opacity="0.4"/><rect x="122.27" y="466.80" width="4.70" height="0.90" rx="0" fill="#8a94a4" opacity="0.4"/><rect x="129.26" y="466.80" width="4.86" height="0.90" rx="0" fill="#8a94a4" opacity="0.4"/><rect x="136.09" y="466.80" width="4.13" height="0.90" rx="0" fill="#8a94a4" opacity="0.4"/><rect x="141.92" y="466.80" width="4.30" height="0.90" rx="0" fill="#8a94a4" opacity="0.4"/><rect x="148.54" y="466.80" width="4.10" height="0.90" rx="0" fill="#8a94a4" opacity="0.4"/><rect x="154.87" y="466.80" width="3.03" height="0.90" rx="0" fill="#8a94a4" opacity="0.4"/><rect x="160.30" y="466.80" width="4.95" height="0.90" rx="0" fill="#8a94a4" opacity="0.4"/><rect x="167.73" y="466.80" width="3.84" height="0.90" rx="0" fill="#8a94a4" opacity="0.4"/><rect x="173.86" y="466.80" width="3.30" height="0.90" rx="0" fill="#8a94a4" opacity="0.4"/><rect x="179.57" y="466.80" width="4.64" height="0.90" rx="0" fill="#8a94a4" opacity="0.4"/><rect x="186.06" y="466.80" width="2.71" height="0.90" rx="0" fill="#8a94a4" opacity="0.4"/><rect x="48.00" y="466.30" width="1.00" height="1.40" rx="0" fill="#9060b0" opacity="0.8"/><rect x="52.95" y="466.30" width="1.00" height="1.40" rx="0" fill="#3060d0" opacity="0.8"/><rect x="57.67" y="466.30" width="1.00" height="1.40" rx="0" fill="#30a0c0" opacity="0.8"/><rect x="74.90" y="466.30" width="1.00" height="1.40" rx="0" fill="#e8b040" opacity="0.8"/><rect x="81.68" y="466.30" width="1.00" height="1.40" rx="0" fill="#3060d0" opacity="0.8"/><rect x="87.71" y="466.30" width="1.00" height="1.40" rx="0" fill="#9060b0" opacity="0.8"/><rect x="94.04" y="466.30" width="1.00" height="1.40" rx="0" fill="#40a060" opacity="0.8"/><rect x="104.37" y="466.30" width="1.00" height="1.40" rx="0" fill="#e05050" opacity="0.8"/><rect x="116.62" y="466.30" width="1.00" height="1.40" rx="0" fill="#40a060" opacity="0.8"/><rect x="123.50" y="466.30" width="1.00" height="1.40" rx="0" fill="#e8b040" opacity="0.8"/><rect x="127.30" y="466.30" width="1.00" height="1.40" rx="0" fill="#e05050" opacity="0.8"/><rect x="132.72" y="466.30" width="1.00" height="1.40" rx="0" fill="#e05050" opacity="0.8"/><rect x="137.79" y="466.30" width="1.00" height="1.40" rx="0" fill="#3060d0" opacity="0.8"/><rect x="146.01" y="466.30" width="1.00" height="1.40" rx="0" fill="#e05050" opacity="0.8"/><rect x="157.31" y="466.30" width="1.00" height="1.40" rx="0" fill="#e8b040" opacity="0.8"/><rect x="160.82" y="466.30" width="1.00" height="1.40" rx="0" fill="#e8b040" opacity="0.8"/><rect x="165.92" y="466.30" width="1.00" height="1.40" rx="0" fill="#e05050" opacity="0.8"/><rect x="178.00" y="466.30" width="1.00" height="1.40" rx="0" fill="#e8b040" opacity="0.8"/><rect x="181.05" y="466.30" width="1.00" height="1.40" rx="0" fill="#30a0c0" opacity="0.8"/><rect x="185.03" y="466.30" width="1.00" height="1.40" rx="0" fill="#e8b040" opacity="0.8"/><rect x="190.95" y="466.30" width="1.00" height="1.40" rx="0" fill="#9060b0" opacity="0.8"/><ellipse cx="43.2" cy="470.7" rx="2.7" ry="1.15" fill="#404060" opacity="0.85"/><path d="M46.3 471.2 L180.8 471.2" stroke="#a8b4c4" stroke-width="0.5" fill="none" /><rect x="47.00" y="470.10" width="4.25" height="0.90" rx="0" fill="#8a94a4" opacity="0.4"/><rect x="53.63" y="470.10" width="2.56" height="0.90" rx="0" fill="#8a94a4" opacity="0.4"/><rect x="58.32" y="470.10" width="4.56" height="0.90" rx="0" fill="#8a94a4" opacity="0.4"/><rect x="65.00" y="470.10" width="3.85" height="0.90" rx="0" fill="#8a94a4" opacity="0.4"/><rect x="71.21" y="470.10" width="3.84" height="0.90" rx="0" fill="#8a94a4" opacity="0.4"/><rect x="76.76" y="470.10" width="3.04" height="0.90" rx="0" fill="#8a94a4" opacity="0.4"/><rect x="81.85" y="470.10" width="3.97" height="0.90" rx="0" fill="#8a94a4" opacity="0.4"/><rect x="87.45" y="470.10" width="4.79" height="0.90" rx="0" fill="#8a94a4" opacity="0.4"/><rect x="94.37" y="470.10" width="3.37" height="0.90" rx="0" fill="#8a94a4" opacity="0.4"/><rect x="99.42" y="470.10" width="4.01" height="0.90" rx="0" fill="#8a94a4" opacity="0.4"/><rect x="105.81" y="470.10" width="2.99" height="0.90" rx="0" fill="#8a94a4" opacity="0.4"/><rect x="111.08" y="470.10" width="2.99" height="0.90" rx="0" fill="#8a94a4" opacity="0.4"/><rect x="115.66" y="470.10" width="4.72" height="0.90" rx="0" fill="#8a94a4" opacity="0.4"/><rect x="122.02" y="470.10" width="2.72" height="0.90" rx="0" fill="#8a94a4" opacity="0.4"/><rect x="126.63" y="470.10" width="3.59" height="0.90" rx="0" fill="#8a94a4" opacity="0.4"/><rect x="132.65" y="470.10" width="3.86" height="0.90" rx="0" fill="#8a94a4" opacity="0.4"/><rect x="138.72" y="470.10" width="3.00" height="0.90" rx="0" fill="#8a94a4" opacity="0.4"/><rect x="143.85" y="470.10" width="4.50" height="0.90" rx="0" fill="#8a94a4" opacity="0.4"/><rect x="149.94" y="470.10" width="3.92" height="0.90" rx="0" fill="#8a94a4" opacity="0.4"/><rect x="155.72" y="470.10" width="4.55" height="0.90" rx="0" fill="#8a94a4" opacity="0.4"/><rect x="162.14" y="470.10" width="4.26" height="0.90" rx="0" fill="#8a94a4" opacity="0.4"/><rect x="168.53" y="470.10" width="3.36" height="0.90" rx="0" fill="#8a94a4" opacity="0.4"/><rect x="174.39" y="470.10" width="4.58" height="0.90" rx="0" fill="#8a94a4" opacity="0.4"/><rect x="48.00" y="469.60" width="1.00" height="1.40" rx="0" fill="#e05050" opacity="0.8"/><rect x="51.15" y="469.60" width="1.00" height="1.40" rx="0" fill="#e8b040" opacity="0.8"/><rect x="54.74" y="469.60" width="1.00" height="1.40" rx="0" fill="#e8b040" opacity="0.8"/><rect x="58.43" y="469.60" width="1.00" height="1.40" rx="0" fill="#9060b0" opacity="0.8"/><rect x="65.13" y="469.60" width="1.00" height="1.40" rx="0" fill="#e05050" opacity="0.8"/><rect x="71.98" y="469.60" width="1.00" height="1.40" rx="0" fill="#e05050" opacity="0.8"/><rect x="76.85" y="469.60" width="1.00" height="1.40" rx="0" fill="#e05050" opacity="0.8"/><rect x="80.69" y="469.60" width="1.00" height="1.40" rx="0" fill="#e05050" opacity="0.8"/><rect x="87.07" y="469.60" width="1.00" height="1.40" rx="0" fill="#e8b040" opacity="0.8"/><rect x="91.51" y="469.60" width="1.00" height="1.40" rx="0" fill="#e8b040" opacity="0.8"/><rect x="96.92" y="469.60" width="1.00" height="1.40" rx="0" fill="#e05050" opacity="0.8"/><rect x="101.22" y="469.60" width="1.00" height="1.40" rx="0" fill="#e05050" opacity="0.8"/><rect x="106.50" y="469.60" width="1.00" height="1.40" rx="0" fill="#30a0c0" opacity="0.8"/><rect x="112.72" y="469.60" width="1.00" height="1.40" rx="0" fill="#3060d0" opacity="0.8"/><rect x="124.95" y="469.60" width="1.00" height="1.40" rx="0" fill="#30a0c0" opacity="0.8"/><rect x="145.45" y="469.60" width="1.00" height="1.40" rx="0" fill="#e8b040" opacity="0.8"/><rect x="159.01" y="469.60" width="1.00" height="1.40" rx="0" fill="#9060b0" opacity="0.8"/><rect x="168.64" y="469.60" width="1.00" height="1.40" rx="0" fill="#e05050" opacity="0.8"/><rect x="173.70" y="469.60" width="1.00" height="1.40" rx="0" fill="#e8b040" opacity="0.8"/><ellipse cx="43.2" cy="473.9" rx="2.7" ry="1.15" fill="#9060b0" opacity="0.85"/><path d="M46.3 474.4 L97.4 474.4" stroke="#b0a8c8" stroke-width="0.5" fill="none" /><rect x="47.00" y="473.30" width="4.40" height="0.90" rx="0" fill="#8a94a4" opacity="0.4"/><rect x="53.88" y="473.30" width="2.56" height="0.90" rx="0" fill="#8a94a4" opacity="0.4"/><rect x="58.56" y="473.30" width="4.35" height="0.90" rx="0" fill="#8a94a4" opacity="0.4"/><rect x="64.66" y="473.30" width="3.50" height="0.90" rx="0" fill="#8a94a4" opacity="0.4"/><rect x="69.71" y="473.30" width="2.99" height="0.90" rx="0" fill="#8a94a4" opacity="0.4"/><rect x="74.58" y="473.30" width="2.75" height="0.90" rx="0" fill="#8a94a4" opacity="0.4"/><rect x="79.08" y="473.30" width="4.76" height="0.90" rx="0" fill="#8a94a4" opacity="0.4"/><rect x="85.89" y="473.30" width="3.77" height="0.90" rx="0" fill="#8a94a4" opacity="0.4"/><rect x="92.13" y="473.30" width="3.92" height="0.90" rx="0" fill="#8a94a4" opacity="0.4"/><rect x="54.24" y="472.80" width="1.00" height="1.40" rx="0" fill="#e05050" opacity="0.8"/><rect x="69.75" y="472.80" width="1.00" height="1.40" rx="0" fill="#e05050" opacity="0.8"/><rect x="74.47" y="472.80" width="1.00" height="1.40" rx="0" fill="#9060b0" opacity="0.8"/><rect x="79.58" y="472.80" width="1.00" height="1.40" rx="0" fill="#30a0c0" opacity="0.8"/><rect x="84.70" y="472.80" width="1.00" height="1.40" rx="0" fill="#9060b0" opacity="0.8"/><rect x="89.94" y="472.80" width="1.00" height="1.40" rx="0" fill="#9060b0" opacity="0.8"/><ellipse cx="43.2" cy="477.0" rx="2.7" ry="1.15" fill="#e05060" opacity="0.85"/><path d="M46.3 477.5 L198.2 477.5" stroke="#b0b8c8" stroke-width="0.5" fill="none" /><rect x="47.00" y="476.40" width="4.08" height="0.90" rx="0" fill="#8a94a4" opacity="0.4"/><rect x="52.99" y="476.40" width="4.21" height="0.90" rx="0" fill="#8a94a4" opacity="0.4"/><rect x="58.75" y="476.40" width="3.29" height="0.90" rx="0" fill="#8a94a4" opacity="0.4"/><rect x="63.94" y="476.40" width="3.95" height="0.90" rx="0" fill="#8a94a4" opacity="0.4"/><rect x="70.12" y="476.40" width="3.30" height="0.90" rx="0" fill="#8a94a4" opacity="0.4"/><rect x="75.71" y="476.40" width="3.06" height="0.90" rx="0" fill="#8a94a4" opacity="0.4"/><rect x="80.99" y="476.40" width="3.13" height="0.90" rx="0" fill="#8a94a4" opacity="0.4"/><rect x="86.37" y="476.40" width="2.61" height="0.90" rx="0" fill="#8a94a4" opacity="0.4"/><rect x="90.59" y="476.40" width="4.53" height="0.90" rx="0" fill="#8a94a4" opacity="0.4"/><rect x="97.52" y="476.40" width="2.86" height="0.90" rx="0" fill="#8a94a4" opacity="0.4"/><rect x="102.84" y="476.40" width="3.11" height="0.90" rx="0" fill="#8a94a4" opacity="0.4"/><rect x="108.16" y="476.40" width="2.63" height="0.90" rx="0" fill="#8a94a4" opacity="0.4"/><rect x="112.71" y="476.40" width="2.79" height="0.90" rx="0" fill="#8a94a4" opacity="0.4"/><rect x="117.86" y="476.40" width="3.39" height="0.90" rx="0" fill="#8a94a4" opacity="0.4"/><rect x="122.91" y="476.40" width="3.41" height="0.90" rx="0" fill="#8a94a4" opacity="0.4"/><rect x="127.96" y="476.40" width="3.54" height="0.90" rx="0" fill="#8a94a4" opacity="0.4"/><rect x="133.60" y="476.40" width="4.10" height="0.90" rx="0" fill="#8a94a4" opacity="0.4"/><rect x="139.88" y="476.40" width="3.41" height="0.90" rx="0" fill="#8a94a4" opacity="0.4"/><rect x="145.53" y="476.40" width="4.54" height="0.90" rx="0" fill="#8a94a4" opacity="0.4"/><rect x="151.71" y="476.40" width="3.23" height="0.90" rx="0" fill="#8a94a4" opacity="0.4"/><rect x="156.56" y="476.40" width="3.70" height="0.90" rx="0" fill="#8a94a4" opacity="0.4"/><rect x="162.27" y="476.40" width="3.27" height="0.90" rx="0" fill="#8a94a4" opacity="0.4"/><rect x="167.55" y="476.40" width="4.62" height="0.90" rx="0" fill="#8a94a4" opacity="0.4"/><rect x="173.94" y="476.40" width="4.02" height="0.90" rx="0" fill="#8a94a4" opacity="0.4"/><rect x="180.19" y="476.40" width="4.25" height="0.90" rx="0" fill="#8a94a4" opacity="0.4"/><rect x="186.13" y="476.40" width="3.20" height="0.90" rx="0" fill="#8a94a4" opacity="0.4"/><rect x="191.06" y="476.40" width="4.88" height="0.90" rx="0" fill="#8a94a4" opacity="0.4"/><rect x="57.30" y="475.90" width="1.00" height="1.40" rx="0" fill="#9060b0" opacity="0.8"/><rect x="65.41" y="475.90" width="1.00" height="1.40" rx="0" fill="#3060d0" opacity="0.8"/><rect x="75.07" y="475.90" width="1.00" height="1.40" rx="0" fill="#30a0c0" opacity="0.8"/><rect x="80.01" y="475.90" width="1.00" height="1.40" rx="0" fill="#30a0c0" opacity="0.8"/><rect x="90.74" y="475.90" width="1.00" height="1.40" rx="0" fill="#3060d0" opacity="0.8"/><rect x="111.22" y="475.90" width="1.00" height="1.40" rx="0" fill="#40a060" opacity="0.8"/><rect x="121.14" y="475.90" width="1.00" height="1.40" rx="0" fill="#40a060" opacity="0.8"/><rect x="125.85" y="475.90" width="1.00" height="1.40" rx="0" fill="#3060d0" opacity="0.8"/><rect x="130.69" y="475.90" width="1.00" height="1.40" rx="0" fill="#3060d0" opacity="0.8"/><rect x="135.42" y="475.90" width="1.00" height="1.40" rx="0" fill="#e8b040" opacity="0.8"/><rect x="142.92" y="475.90" width="1.00" height="1.40" rx="0" fill="#3060d0" opacity="0.8"/><rect x="148.70" y="475.90" width="1.00" height="1.40" rx="0" fill="#30a0c0" opacity="0.8"/><rect x="152.83" y="475.90" width="1.00" height="1.40" rx="0" fill="#30a0c0" opacity="0.8"/><rect x="158.46" y="475.90" width="1.00" height="1.40" rx="0" fill="#3060d0" opacity="0.8"/><rect x="162.75" y="475.90" width="1.00" height="1.40" rx="0" fill="#9060b0" opacity="0.8"/><rect x="171.72" y="475.90" width="1.00" height="1.40" rx="0" fill="#e05050" opacity="0.8"/><rect x="183.66" y="475.90" width="1.00" height="1.40" rx="0" fill="#30a0c0" opacity="0.8"/><ellipse cx="43.2" cy="480.2" rx="2.7" ry="1.15" fill="#f0a0a0" opacity="0.85"/><path d="M46.3 480.7 L209.0 480.7" stroke="#ebbd70" stroke-width="0.5" fill="none" /><rect x="47.00" y="479.60" width="3.42" height="0.90" rx="0" fill="#8a94a4" opacity="0.4"/><rect x="52.31" y="479.60" width="2.89" height="0.90" rx="0" fill="#8a94a4" opacity="0.4"/><rect x="57.29" y="479.60" width="2.94" height="0.90" rx="0" fill="#8a94a4" opacity="0.4"/><rect x="61.82" y="479.60" width="3.64" height="0.90" rx="0" fill="#8a94a4" opacity="0.4"/><rect x="67.81" y="479.60" width="4.53" height="0.90" rx="0" fill="#8a94a4" opacity="0.4"/><rect x="74.06" y="479.60" width="2.64" height="0.90" rx="0" fill="#8a94a4" opacity="0.4"/><rect x="78.37" y="479.60" width="3.24" height="0.90" rx="0" fill="#8a94a4" opacity="0.4"/><rect x="83.13" y="479.60" width="4.60" height="0.90" rx="0" fill="#8a94a4" opacity="0.4"/><rect x="89.66" y="479.60" width="3.95" height="0.90" rx="0" fill="#8a94a4" opacity="0.4"/><rect x="95.42" y="479.60" width="3.86" height="0.90" rx="0" fill="#8a94a4" opacity="0.4"/><rect x="101.11" y="479.60" width="3.18" height="0.90" rx="0" fill="#8a94a4" opacity="0.4"/><rect x="105.90" y="479.60" width="3.28" height="0.90" rx="0" fill="#8a94a4" opacity="0.4"/><rect x="110.71" y="479.60" width="4.13" height="0.90" rx="0" fill="#8a94a4" opacity="0.4"/><rect x="116.45" y="479.60" width="4.54" height="0.90" rx="0" fill="#8a94a4" opacity="0.4"/><rect x="122.91" y="479.60" width="4.28" height="0.90" rx="0" fill="#8a94a4" opacity="0.4"/><rect x="129.18" y="479.60" width="4.77" height="0.90" rx="0" fill="#8a94a4" opacity="0.4"/><rect x="135.78" y="479.60" width="3.65" height="0.90" rx="0" fill="#8a94a4" opacity="0.4"/><rect x="141.28" y="479.60" width="4.52" height="0.90" rx="0" fill="#8a94a4" opacity="0.4"/><rect x="147.63" y="479.60" width="2.84" height="0.90" rx="0" fill="#8a94a4" opacity="0.4"/><rect x="152.46" y="479.60" width="4.51" height="0.90" rx="0" fill="#8a94a4" opacity="0.4"/><rect x="158.55" y="479.60" width="4.05" height="0.90" rx="0" fill="#8a94a4" opacity="0.4"/><rect x="164.14" y="479.60" width="4.39" height="0.90" rx="0" fill="#8a94a4" opacity="0.4"/><rect x="171.02" y="479.60" width="3.37" height="0.90" rx="0" fill="#8a94a4" opacity="0.4"/><rect x="175.90" y="479.60" width="3.44" height="0.90" rx="0" fill="#8a94a4" opacity="0.4"/><rect x="180.93" y="479.60" width="3.66" height="0.90" rx="0" fill="#8a94a4" opacity="0.4"/><rect x="186.63" y="479.60" width="2.56" height="0.90" rx="0" fill="#8a94a4" opacity="0.4"/><rect x="191.06" y="479.60" width="2.53" height="0.90" rx="0" fill="#8a94a4" opacity="0.4"/><rect x="195.19" y="479.60" width="4.81" height="0.90" rx="0" fill="#8a94a4" opacity="0.4"/><rect x="202.42" y="479.60" width="3.11" height="0.90" rx="0" fill="#8a94a4" opacity="0.4"/><rect x="53.74" y="479.10" width="1.00" height="1.40" rx="0" fill="#e05050" opacity="0.8"/><rect x="58.44" y="479.10" width="1.00" height="1.40" rx="0" fill="#e05050" opacity="0.8"/><rect x="67.54" y="479.10" width="1.00" height="1.40" rx="0" fill="#40a060" opacity="0.8"/><rect x="77.25" y="479.10" width="1.00" height="1.40" rx="0" fill="#e05050" opacity="0.8"/><rect x="81.50" y="479.10" width="1.00" height="1.40" rx="0" fill="#30a0c0" opacity="0.8"/><rect x="85.37" y="479.10" width="1.00" height="1.40" rx="0" fill="#e8b040" opacity="0.8"/><rect x="90.75" y="479.10" width="1.00" height="1.40" rx="0" fill="#40a060" opacity="0.8"/><rect x="97.33" y="479.10" width="1.00" height="1.40" rx="0" fill="#9060b0" opacity="0.8"/><rect x="112.98" y="479.10" width="1.00" height="1.40" rx="0" fill="#30a0c0" opacity="0.8"/><rect x="126.59" y="479.10" width="1.00" height="1.40" rx="0" fill="#40a060" opacity="0.8"/><rect x="132.79" y="479.10" width="1.00" height="1.40" rx="0" fill="#9060b0" opacity="0.8"/><rect x="138.94" y="479.10" width="1.00" height="1.40" rx="0" fill="#e8b040" opacity="0.8"/><rect x="152.13" y="479.10" width="1.00" height="1.40" rx="0" fill="#e8b040" opacity="0.8"/><rect x="161.61" y="479.10" width="1.00" height="1.40" rx="0" fill="#30a0c0" opacity="0.8"/><rect x="171.43" y="479.10" width="1.00" height="1.40" rx="0" fill="#9060b0" opacity="0.8"/><rect x="176.50" y="479.10" width="1.00" height="1.40" rx="0" fill="#40a060" opacity="0.8"/><rect x="189.22" y="479.10" width="1.00" height="1.40" rx="0" fill="#3060d0" opacity="0.8"/><rect x="204.28" y="479.10" width="1.00" height="1.40" rx="0" fill="#e05050" opacity="0.8"/><ellipse cx="43.2" cy="483.5" rx="2.7" ry="1.15" fill="#3060d0" opacity="0.85"/><path d="M46.3 484.0 L200.4 484.0" stroke="#9fd0dc" stroke-width="0.5" fill="none" /><rect x="47.00" y="482.90" width="3.54" height="0.90" rx="0" fill="#8a94a4" opacity="0.4"/><rect x="52.96" y="482.90" width="2.73" height="0.90" rx="0" fill="#8a94a4" opacity="0.4"/><rect x="58.01" y="482.90" width="3.02" height="0.90" rx="0" fill="#8a94a4" opacity="0.4"/><rect x="63.08" y="482.90" width="3.81" height="0.90" rx="0" fill="#8a94a4" opacity="0.4"/><rect x="68.55" y="482.90" width="4.58" height="0.90" rx="0" fill="#8a94a4" opacity="0.4"/><rect x="74.94" y="482.90" width="3.28" height="0.90" rx="0" fill="#8a94a4" opacity="0.4"/><rect x="79.79" y="482.90" width="3.26" height="0.90" rx="0" fill="#8a94a4" opacity="0.4"/><rect x="85.02" y="482.90" width="4.29" height="0.90" rx="0" fill="#8a94a4" opacity="0.4"/><rect x="91.17" y="482.90" width="4.22" height="0.90" rx="0" fill="#8a94a4" opacity="0.4"/><rect x="97.00" y="482.90" width="3.49" height="0.90" rx="0" fill="#8a94a4" opacity="0.4"/><rect x="102.44" y="482.90" width="4.92" height="0.90" rx="0" fill="#8a94a4" opacity="0.4"/><rect x="109.69" y="482.90" width="4.13" height="0.90" rx="0" fill="#8a94a4" opacity="0.4"/><rect x="115.34" y="482.90" width="3.44" height="0.90" rx="0" fill="#8a94a4" opacity="0.4"/><rect x="120.99" y="482.90" width="3.09" height="0.90" rx="0" fill="#8a94a4" opacity="0.4"/><rect x="126.15" y="482.90" width="3.65" height="0.90" rx="0" fill="#8a94a4" opacity="0.4"/><rect x="131.30" y="482.90" width="4.98" height="0.90" rx="0" fill="#8a94a4" opacity="0.4"/><rect x="138.58" y="482.90" width="3.02" height="0.90" rx="0" fill="#8a94a4" opacity="0.4"/><rect x="143.72" y="482.90" width="3.23" height="0.90" rx="0" fill="#8a94a4" opacity="0.4"/><rect x="148.82" y="482.90" width="3.85" height="0.90" rx="0" fill="#8a94a4" opacity="0.4"/><rect x="154.46" y="482.90" width="3.34" height="0.90" rx="0" fill="#8a94a4" opacity="0.4"/><rect x="159.70" y="482.90" width="4.17" height="0.90" rx="0" fill="#8a94a4" opacity="0.4"/><rect x="165.62" y="482.90" width="3.00" height="0.90" rx="0" fill="#8a94a4" opacity="0.4"/><rect x="170.85" y="482.90" width="3.32" height="0.90" rx="0" fill="#8a94a4" opacity="0.4"/><rect x="176.62" y="482.90" width="3.91" height="0.90" rx="0" fill="#8a94a4" opacity="0.4"/><rect x="182.75" y="482.90" width="3.33" height="0.90" rx="0" fill="#8a94a4" opacity="0.4"/><rect x="188.41" y="482.90" width="2.73" height="0.90" rx="0" fill="#8a94a4" opacity="0.4"/><rect x="192.78" y="482.90" width="2.74" height="0.90" rx="0" fill="#8a94a4" opacity="0.4"/><rect x="51.72" y="482.40" width="1.00" height="1.40" rx="0" fill="#e8b040" opacity="0.8"/><rect x="57.09" y="482.40" width="1.00" height="1.40" rx="0" fill="#e8b040" opacity="0.8"/><rect x="76.03" y="482.40" width="1.00" height="1.40" rx="0" fill="#e8b040" opacity="0.8"/><rect x="86.64" y="482.40" width="1.00" height="1.40" rx="0" fill="#e05050" opacity="0.8"/><rect x="97.59" y="482.40" width="1.00" height="1.40" rx="0" fill="#e8b040" opacity="0.8"/><rect x="106.30" y="482.40" width="1.00" height="1.40" rx="0" fill="#30a0c0" opacity="0.8"/><rect x="110.53" y="482.40" width="1.00" height="1.40" rx="0" fill="#e05050" opacity="0.8"/><rect x="114.35" y="482.40" width="1.00" height="1.40" rx="0" fill="#9060b0" opacity="0.8"/><rect x="130.89" y="482.40" width="1.00" height="1.40" rx="0" fill="#30a0c0" opacity="0.8"/><rect x="136.34" y="482.40" width="1.00" height="1.40" rx="0" fill="#e8b040" opacity="0.8"/><rect x="143.29" y="482.40" width="1.00" height="1.40" rx="0" fill="#e8b040" opacity="0.8"/><rect x="148.56" y="482.40" width="1.00" height="1.40" rx="0" fill="#e8b040" opacity="0.8"/><rect x="154.66" y="482.40" width="1.00" height="1.40" rx="0" fill="#e8b040" opacity="0.8"/><rect x="168.73" y="482.40" width="1.00" height="1.40" rx="0" fill="#3060d0" opacity="0.8"/><rect x="177.50" y="482.40" width="1.00" height="1.40" rx="0" fill="#3060d0" opacity="0.8"/><rect x="182.74" y="482.40" width="1.00" height="1.40" rx="0" fill="#30a0c0" opacity="0.8"/><rect x="188.14" y="482.40" width="1.00" height="1.40" rx="0" fill="#e05050" opacity="0.8"/><rect x="196.26" y="482.40" width="1.00" height="1.40" rx="0" fill="#40a060" opacity="0.8"/><ellipse cx="43.2" cy="487.0" rx="2.7" ry="1.15" fill="#a0d0e0" opacity="0.85"/><path d="M46.3 487.5 L220.0 487.5" stroke="#b8c0cc" stroke-width="0.5" fill="none" /><rect x="47.00" y="486.40" width="3.87" height="0.90" rx="0" fill="#8a94a4" opacity="0.4"/><rect x="52.45" y="486.40" width="2.58" height="0.90" rx="0" fill="#8a94a4" opacity="0.4"/><rect x="56.71" y="486.40" width="4.97" height="0.90" rx="0" fill="#8a94a4" opacity="0.4"/><rect x="64.11" y="486.40" width="4.15" height="0.90" rx="0" fill="#8a94a4" opacity="0.4"/><rect x="70.07" y="486.40" width="4.18" height="0.90" rx="0" fill="#8a94a4" opacity="0.4"/><rect x="76.48" y="486.40" width="3.45" height="0.90" rx="0" fill="#8a94a4" opacity="0.4"/><rect x="82.03" y="486.40" width="4.51" height="0.90" rx="0" fill="#8a94a4" opacity="0.4"/><rect x="88.05" y="486.40" width="3.00" height="0.90" rx="0" fill="#8a94a4" opacity="0.4"/><rect x="93.02" y="486.40" width="2.86" height="0.90" rx="0" fill="#8a94a4" opacity="0.4"/><rect x="97.76" y="486.40" width="3.92" height="0.90" rx="0" fill="#8a94a4" opacity="0.4"/><rect x="103.36" y="486.40" width="3.80" height="0.90" rx="0" fill="#8a94a4" opacity="0.4"/><rect x="108.93" y="486.40" width="3.92" height="0.90" rx="0" fill="#8a94a4" opacity="0.4"/><rect x="114.68" y="486.40" width="4.10" height="0.90" rx="0" fill="#8a94a4" opacity="0.4"/><rect x="120.32" y="486.40" width="4.18" height="0.90" rx="0" fill="#8a94a4" opacity="0.4"/><rect x="126.14" y="486.40" width="4.90" height="0.90" rx="0" fill="#8a94a4" opacity="0.4"/><rect x="133.14" y="486.40" width="3.67" height="0.90" rx="0" fill="#8a94a4" opacity="0.4"/><rect x="138.73" y="486.40" width="4.06" height="0.90" rx="0" fill="#8a94a4" opacity="0.4"/><rect x="144.98" y="486.40" width="4.40" height="0.90" rx="0" fill="#8a94a4" opacity="0.4"/><rect x="151.62" y="486.40" width="3.71" height="0.90" rx="0" fill="#8a94a4" opacity="0.4"/><rect x="157.83" y="486.40" width="4.60" height="0.90" rx="0" fill="#8a94a4" opacity="0.4"/><rect x="164.78" y="486.40" width="3.52" height="0.90" rx="0" fill="#8a94a4" opacity="0.4"/><rect x="170.24" y="486.40" width="3.91" height="0.90" rx="0" fill="#8a94a4" opacity="0.4"/><rect x="176.56" y="486.40" width="3.81" height="0.90" rx="0" fill="#8a94a4" opacity="0.4"/><rect x="182.40" y="486.40" width="3.58" height="0.90" rx="0" fill="#8a94a4" opacity="0.4"/><rect x="188.38" y="486.40" width="3.30" height="0.90" rx="0" fill="#8a94a4" opacity="0.4"/><rect x="193.24" y="486.40" width="4.31" height="0.90" rx="0" fill="#8a94a4" opacity="0.4"/><rect x="199.95" y="486.40" width="4.33" height="0.90" rx="0" fill="#8a94a4" opacity="0.4"/><rect x="206.38" y="486.40" width="4.38" height="0.90" rx="0" fill="#8a94a4" opacity="0.4"/><rect x="212.57" y="486.40" width="3.98" height="0.90" rx="0" fill="#8a94a4" opacity="0.4"/><rect x="48.00" y="485.90" width="1.00" height="1.40" rx="0" fill="#e8b040" opacity="0.8"/><rect x="58.86" y="485.90" width="1.00" height="1.40" rx="0" fill="#3060d0" opacity="0.8"/><rect x="63.96" y="485.90" width="1.00" height="1.40" rx="0" fill="#9060b0" opacity="0.8"/><rect x="86.51" y="485.90" width="1.00" height="1.40" rx="0" fill="#40a060" opacity="0.8"/><rect x="102.55" y="485.90" width="1.00" height="1.40" rx="0" fill="#e8b040" opacity="0.8"/><rect x="105.56" y="485.90" width="1.00" height="1.40" rx="0" fill="#9060b0" opacity="0.8"/><rect x="108.65" y="485.90" width="1.00" height="1.40" rx="0" fill="#e8b040" opacity="0.8"/><rect x="119.82" y="485.90" width="1.00" height="1.40" rx="0" fill="#e8b040" opacity="0.8"/><rect x="123.00" y="485.90" width="1.00" height="1.40" rx="0" fill="#30a0c0" opacity="0.8"/><rect x="127.24" y="485.90" width="1.00" height="1.40" rx="0" fill="#e8b040" opacity="0.8"/><rect x="133.75" y="485.90" width="1.00" height="1.40" rx="0" fill="#e05050" opacity="0.8"/><rect x="141.95" y="485.90" width="1.00" height="1.40" rx="0" fill="#40a060" opacity="0.8"/><rect x="152.73" y="485.90" width="1.00" height="1.40" rx="0" fill="#e8b040" opacity="0.8"/><rect x="159.70" y="485.90" width="1.00" height="1.40" rx="0" fill="#30a0c0" opacity="0.8"/><rect x="166.54" y="485.90" width="1.00" height="1.40" rx="0" fill="#e05050" opacity="0.8"/><rect x="172.39" y="485.90" width="1.00" height="1.40" rx="0" fill="#e8b040" opacity="0.8"/><rect x="177.05" y="485.90" width="1.00" height="1.40" rx="0" fill="#9060b0" opacity="0.8"/><rect x="189.62" y="485.90" width="1.00" height="1.40" rx="0" fill="#9060b0" opacity="0.8"/><rect x="200.65" y="485.90" width="1.00" height="1.40" rx="0" fill="#e8b040" opacity="0.8"/><rect x="211.28" y="485.90" width="1.00" height="1.40" rx="0" fill="#40a060" opacity="0.8"/><rect x="216.84" y="485.90" width="1.00" height="1.40" rx="0" fill="#3060d0" opacity="0.8"/><ellipse cx="43.2" cy="490.0" rx="2.7" ry="1.15" fill="#c8ccd0" opacity="0.85"/><path d="M46.3 490.5 L210.7 490.5" stroke="#b8c0cc" stroke-width="0.5" fill="none" /><rect x="47.00" y="489.40" width="3.82" height="0.90" rx="0" fill="#8a94a4" opacity="0.4"/><rect x="52.85" y="489.40" width="2.61" height="0.90" rx="0" fill="#8a94a4" opacity="0.4"/><rect x="57.56" y="489.40" width="3.21" height="0.90" rx="0" fill="#8a94a4" opacity="0.4"/><rect x="62.53" y="489.40" width="4.51" height="0.90" rx="0" fill="#8a94a4" opacity="0.4"/><rect x="68.62" y="489.40" width="3.21" height="0.90" rx="0" fill="#8a94a4" opacity="0.4"/><rect x="74.09" y="489.40" width="3.11" height="0.90" rx="0" fill="#8a94a4" opacity="0.4"/><rect x="78.98" y="489.40" width="3.87" height="0.90" rx="0" fill="#8a94a4" opacity="0.4"/><rect x="84.54" y="489.40" width="4.74" height="0.90" rx="0" fill="#8a94a4" opacity="0.4"/><rect x="91.77" y="489.40" width="2.58" height="0.90" rx="0" fill="#8a94a4" opacity="0.4"/><rect x="96.32" y="489.40" width="4.38" height="0.90" rx="0" fill="#8a94a4" opacity="0.4"/><rect x="102.58" y="489.40" width="4.82" height="0.90" rx="0" fill="#8a94a4" opacity="0.4"/><rect x="109.40" y="489.40" width="2.95" height="0.90" rx="0" fill="#8a94a4" opacity="0.4"/><rect x="114.41" y="489.40" width="4.11" height="0.90" rx="0" fill="#8a94a4" opacity="0.4"/><rect x="120.38" y="489.40" width="4.15" height="0.90" rx="0" fill="#8a94a4" opacity="0.4"/><rect x="126.81" y="489.40" width="3.79" height="0.90" rx="0" fill="#8a94a4" opacity="0.4"/><rect x="132.61" y="489.40" width="4.61" height="0.90" rx="0" fill="#8a94a4" opacity="0.4"/><rect x="139.40" y="489.40" width="3.80" height="0.90" rx="0" fill="#8a94a4" opacity="0.4"/><rect x="145.66" y="489.40" width="2.93" height="0.90" rx="0" fill="#8a94a4" opacity="0.4"/><rect x="150.87" y="489.40" width="2.91" height="0.90" rx="0" fill="#8a94a4" opacity="0.4"/><rect x="155.89" y="489.40" width="3.09" height="0.90" rx="0" fill="#8a94a4" opacity="0.4"/><rect x="160.92" y="489.40" width="4.43" height="0.90" rx="0" fill="#8a94a4" opacity="0.4"/><rect x="167.64" y="489.40" width="4.48" height="0.90" rx="0" fill="#8a94a4" opacity="0.4"/><rect x="173.85" y="489.40" width="3.72" height="0.90" rx="0" fill="#8a94a4" opacity="0.4"/><rect x="179.30" y="489.40" width="3.95" height="0.90" rx="0" fill="#8a94a4" opacity="0.4"/><rect x="185.25" y="489.40" width="2.59" height="0.90" rx="0" fill="#8a94a4" opacity="0.4"/><rect x="189.93" y="489.40" width="4.29" height="0.90" rx="0" fill="#8a94a4" opacity="0.4"/><rect x="196.29" y="489.40" width="4.68" height="0.90" rx="0" fill="#8a94a4" opacity="0.4"/><rect x="202.65" y="489.40" width="2.88" height="0.90" rx="0" fill="#8a94a4" opacity="0.4"/><rect x="48.00" y="488.90" width="1.00" height="1.40" rx="0" fill="#e05050" opacity="0.8"/><rect x="59.44" y="488.90" width="1.00" height="1.40" rx="0" fill="#3060d0" opacity="0.8"/><rect x="66.07" y="488.90" width="1.00" height="1.40" rx="0" fill="#e8b040" opacity="0.8"/><rect x="71.56" y="488.90" width="1.00" height="1.40" rx="0" fill="#e05050" opacity="0.8"/><rect x="74.73" y="488.90" width="1.00" height="1.40" rx="0" fill="#9060b0" opacity="0.8"/><rect x="80.79" y="488.90" width="1.00" height="1.40" rx="0" fill="#40a060" opacity="0.8"/><rect x="85.31" y="488.90" width="1.00" height="1.40" rx="0" fill="#e8b040" opacity="0.8"/><rect x="97.22" y="488.90" width="1.00" height="1.40" rx="0" fill="#e05050" opacity="0.8"/><rect x="116.82" y="488.90" width="1.00" height="1.40" rx="0" fill="#e8b040" opacity="0.8"/><rect x="124.92" y="488.90" width="1.00" height="1.40" rx="0" fill="#40a060" opacity="0.8"/><rect x="128.28" y="488.90" width="1.00" height="1.40" rx="0" fill="#e8b040" opacity="0.8"/><rect x="132.98" y="488.90" width="1.00" height="1.40" rx="0" fill="#e05050" opacity="0.8"/><rect x="149.79" y="488.90" width="1.00" height="1.40" rx="0" fill="#e8b040" opacity="0.8"/><rect x="154.46" y="488.90" width="1.00" height="1.40" rx="0" fill="#e8b040" opacity="0.8"/><rect x="158.92" y="488.90" width="1.00" height="1.40" rx="0" fill="#e8b040" opacity="0.8"/><rect x="162.08" y="488.90" width="1.00" height="1.40" rx="0" fill="#e05050" opacity="0.8"/><rect x="168.03" y="488.90" width="1.00" height="1.40" rx="0" fill="#40a060" opacity="0.8"/><rect x="172.88" y="488.90" width="1.00" height="1.40" rx="0" fill="#e8b040" opacity="0.8"/><rect x="181.26" y="488.90" width="1.00" height="1.40" rx="0" fill="#40a060" opacity="0.8"/><rect x="192.36" y="488.90" width="1.00" height="1.40" rx="0" fill="#e8b040" opacity="0.8"/><rect x="198.39" y="488.90" width="1.00" height="1.40" rx="0" fill="#e8b040" opacity="0.8"/><ellipse cx="43.2" cy="493.3" rx="2.7" ry="1.15" fill="#e05050" opacity="0.85"/><path d="M46.3 493.8 L235.2 493.8" stroke="#eba080" stroke-width="0.5" fill="none" /><rect x="47.00" y="492.70" width="3.01" height="0.90" rx="0" fill="#8a94a4" opacity="0.4"/><rect x="51.89" y="492.70" width="2.68" height="0.90" rx="0" fill="#8a94a4" opacity="0.4"/><rect x="56.77" y="492.70" width="3.41" height="0.90" rx="0" fill="#8a94a4" opacity="0.4"/><rect x="61.95" y="492.70" width="2.55" height="0.90" rx="0" fill="#8a94a4" opacity="0.4"/><rect x="66.18" y="492.70" width="3.16" height="0.90" rx="0" fill="#8a94a4" opacity="0.4"/><rect x="71.23" y="492.70" width="4.81" height="0.90" rx="0" fill="#8a94a4" opacity="0.4"/><rect x="78.25" y="492.70" width="3.17" height="0.90" rx="0" fill="#8a94a4" opacity="0.4"/><rect x="83.28" y="492.70" width="2.88" height="0.90" rx="0" fill="#8a94a4" opacity="0.4"/><rect x="88.60" y="492.70" width="3.40" height="0.90" rx="0" fill="#8a94a4" opacity="0.4"/><rect x="94.27" y="492.70" width="4.31" height="0.90" rx="0" fill="#8a94a4" opacity="0.4"/><rect x="100.98" y="492.70" width="2.55" height="0.90" rx="0" fill="#8a94a4" opacity="0.4"/><rect x="105.36" y="492.70" width="3.46" height="0.90" rx="0" fill="#8a94a4" opacity="0.4"/><rect x="110.40" y="492.70" width="4.71" height="0.90" rx="0" fill="#8a94a4" opacity="0.4"/><rect x="116.93" y="492.70" width="4.43" height="0.90" rx="0" fill="#8a94a4" opacity="0.4"/><rect x="123.38" y="492.70" width="2.64" height="0.90" rx="0" fill="#8a94a4" opacity="0.4"/><rect x="127.91" y="492.70" width="3.10" height="0.90" rx="0" fill="#8a94a4" opacity="0.4"/><rect x="132.55" y="492.70" width="2.88" height="0.90" rx="0" fill="#8a94a4" opacity="0.4"/><rect x="137.52" y="492.70" width="2.58" height="0.90" rx="0" fill="#8a94a4" opacity="0.4"/><rect x="141.91" y="492.70" width="3.56" height="0.90" rx="0" fill="#8a94a4" opacity="0.4"/><rect x="147.52" y="492.70" width="2.84" height="0.90" rx="0" fill="#8a94a4" opacity="0.4"/><rect x="152.56" y="492.70" width="3.15" height="0.90" rx="0" fill="#8a94a4" opacity="0.4"/><rect x="157.94" y="492.70" width="4.17" height="0.90" rx="0" fill="#8a94a4" opacity="0.4"/><rect x="163.75" y="492.70" width="3.01" height="0.90" rx="0" fill="#8a94a4" opacity="0.4"/><rect x="168.54" y="492.70" width="4.28" height="0.90" rx="0" fill="#8a94a4" opacity="0.4"/><rect x="174.73" y="492.70" width="3.47" height="0.90" rx="0" fill="#8a94a4" opacity="0.4"/><rect x="180.56" y="492.70" width="3.07" height="0.90" rx="0" fill="#8a94a4" opacity="0.4"/><rect x="185.42" y="492.70" width="3.36" height="0.90" rx="0" fill="#8a94a4" opacity="0.4"/><rect x="190.50" y="492.70" width="2.60" height="0.90" rx="0" fill="#8a94a4" opacity="0.4"/><rect x="194.62" y="492.70" width="4.08" height="0.90" rx="0" fill="#8a94a4" opacity="0.4"/><rect x="200.77" y="492.70" width="4.52" height="0.90" rx="0" fill="#8a94a4" opacity="0.4"/><rect x="207.76" y="492.70" width="3.25" height="0.90" rx="0" fill="#8a94a4" opacity="0.4"/><rect x="213.18" y="492.70" width="4.80" height="0.90" rx="0" fill="#8a94a4" opacity="0.4"/><rect x="219.69" y="492.70" width="4.22" height="0.90" rx="0" fill="#8a94a4" opacity="0.4"/><rect x="226.08" y="492.70" width="4.89" height="0.90" rx="0" fill="#8a94a4" opacity="0.4"/><rect x="48.00" y="492.20" width="1.00" height="1.40" rx="0" fill="#9060b0" opacity="0.8"/><rect x="51.36" y="492.20" width="1.00" height="1.40" rx="0" fill="#e05050" opacity="0.8"/><rect x="56.33" y="492.20" width="1.00" height="1.40" rx="0" fill="#30a0c0" opacity="0.8"/><rect x="89.19" y="492.20" width="1.00" height="1.40" rx="0" fill="#9060b0" opacity="0.8"/><rect x="94.99" y="492.20" width="1.00" height="1.40" rx="0" fill="#e05050" opacity="0.8"/><rect x="105.12" y="492.20" width="1.00" height="1.40" rx="0" fill="#e05050" opacity="0.8"/><rect x="110.11" y="492.20" width="1.00" height="1.40" rx="0" fill="#e8b040" opacity="0.8"/><rect x="119.27" y="492.20" width="1.00" height="1.40" rx="0" fill="#30a0c0" opacity="0.8"/><rect x="125.84" y="492.20" width="1.00" height="1.40" rx="0" fill="#9060b0" opacity="0.8"/><rect x="137.67" y="492.20" width="1.00" height="1.40" rx="0" fill="#30a0c0" opacity="0.8"/><rect x="144.49" y="492.20" width="1.00" height="1.40" rx="0" fill="#e8b040" opacity="0.8"/><rect x="156.06" y="492.20" width="1.00" height="1.40" rx="0" fill="#e05050" opacity="0.8"/><rect x="159.31" y="492.20" width="1.00" height="1.40" rx="0" fill="#e8b040" opacity="0.8"/><rect x="165.83" y="492.20" width="1.00" height="1.40" rx="0" fill="#e05050" opacity="0.8"/><rect x="168.98" y="492.20" width="1.00" height="1.40" rx="0" fill="#9060b0" opacity="0.8"/><rect x="173.22" y="492.20" width="1.00" height="1.40" rx="0" fill="#e05050" opacity="0.8"/><rect x="176.82" y="492.20" width="1.00" height="1.40" rx="0" fill="#e8b040" opacity="0.8"/><rect x="180.85" y="492.20" width="1.00" height="1.40" rx="0" fill="#e05050" opacity="0.8"/><rect x="190.57" y="492.20" width="1.00" height="1.40" rx="0" fill="#3060d0" opacity="0.8"/><rect x="196.07" y="492.20" width="1.00" height="1.40" rx="0" fill="#30a0c0" opacity="0.8"/><rect x="200.12" y="492.20" width="1.00" height="1.40" rx="0" fill="#e05050" opacity="0.8"/><rect x="225.61" y="492.20" width="1.00" height="1.40" rx="0" fill="#30a0c0" opacity="0.8"/><rect x="230.27" y="492.20" width="1.00" height="1.40" rx="0" fill="#e8b040" opacity="0.8"/><ellipse cx="43.2" cy="496.5" rx="2.7" ry="1.15" fill="#40a070" opacity="0.85"/><path d="M46.3 497.0 L206.9 497.0" stroke="#88c8d8" stroke-width="0.5" fill="none" /><rect x="47.00" y="495.90" width="3.12" height="0.90" rx="0" fill="#8a94a4" opacity="0.4"/><rect x="51.95" y="495.90" width="2.94" height="0.90" rx="0" fill="#8a94a4" opacity="0.4"/><rect x="56.91" y="495.90" width="2.81" height="0.90" rx="0" fill="#8a94a4" opacity="0.4"/><rect x="61.28" y="495.90" width="2.67" height="0.90" rx="0" fill="#8a94a4" opacity="0.4"/><rect x="65.56" y="495.90" width="4.26" height="0.90" rx="0" fill="#8a94a4" opacity="0.4"/><rect x="71.43" y="495.90" width="3.63" height="0.90" rx="0" fill="#8a94a4" opacity="0.4"/><rect x="77.33" y="495.90" width="3.70" height="0.90" rx="0" fill="#8a94a4" opacity="0.4"/><rect x="82.70" y="495.90" width="4.67" height="0.90" rx="0" fill="#8a94a4" opacity="0.4"/><rect x="89.73" y="495.90" width="2.63" height="0.90" rx="0" fill="#8a94a4" opacity="0.4"/><rect x="94.12" y="495.90" width="3.77" height="0.90" rx="0" fill="#8a94a4" opacity="0.4"/><rect x="100.19" y="495.90" width="3.48" height="0.90" rx="0" fill="#8a94a4" opacity="0.4"/><rect x="105.88" y="495.90" width="3.13" height="0.90" rx="0" fill="#8a94a4" opacity="0.4"/><rect x="111.23" y="495.90" width="3.32" height="0.90" rx="0" fill="#8a94a4" opacity="0.4"/><rect x="116.38" y="495.90" width="4.40" height="0.90" rx="0" fill="#8a94a4" opacity="0.4"/><rect x="123.12" y="495.90" width="4.57" height="0.90" rx="0" fill="#8a94a4" opacity="0.4"/><rect x="129.76" y="495.90" width="3.55" height="0.90" rx="0" fill="#8a94a4" opacity="0.4"/><rect x="135.52" y="495.90" width="4.06" height="0.90" rx="0" fill="#8a94a4" opacity="0.4"/><rect x="141.91" y="495.90" width="4.50" height="0.90" rx="0" fill="#8a94a4" opacity="0.4"/><rect x="148.03" y="495.90" width="3.44" height="0.90" rx="0" fill="#8a94a4" opacity="0.4"/><rect x="153.65" y="495.90" width="3.08" height="0.90" rx="0" fill="#8a94a4" opacity="0.4"/><rect x="158.41" y="495.90" width="2.53" height="0.90" rx="0" fill="#8a94a4" opacity="0.4"/><rect x="163.03" y="495.90" width="4.85" height="0.90" rx="0" fill="#8a94a4" opacity="0.4"/><rect x="170.35" y="495.90" width="2.83" height="0.90" rx="0" fill="#8a94a4" opacity="0.4"/><rect x="175.37" y="495.90" width="3.55" height="0.90" rx="0" fill="#8a94a4" opacity="0.4"/><rect x="181.05" y="495.90" width="3.49" height="0.90" rx="0" fill="#8a94a4" opacity="0.4"/><rect x="186.98" y="495.90" width="4.97" height="0.90" rx="0" fill="#8a94a4" opacity="0.4"/><rect x="193.50" y="495.90" width="4.28" height="0.90" rx="0" fill="#8a94a4" opacity="0.4"/><rect x="199.40" y="495.90" width="2.61" height="0.90" rx="0" fill="#8a94a4" opacity="0.4"/><rect x="54.97" y="495.40" width="1.00" height="1.40" rx="0" fill="#30a0c0" opacity="0.8"/><rect x="68.02" y="495.40" width="1.00" height="1.40" rx="0" fill="#3060d0" opacity="0.8"/><rect x="78.61" y="495.40" width="1.00" height="1.40" rx="0" fill="#e05050" opacity="0.8"/><rect x="84.49" y="495.40" width="1.00" height="1.40" rx="0" fill="#40a060" opacity="0.8"/><rect x="91.42" y="495.40" width="1.00" height="1.40" rx="0" fill="#e8b040" opacity="0.8"/><rect x="100.19" y="495.40" width="1.00" height="1.40" rx="0" fill="#3060d0" opacity="0.8"/><rect x="111.94" y="495.40" width="1.00" height="1.40" rx="0" fill="#40a060" opacity="0.8"/><rect x="116.23" y="495.40" width="1.00" height="1.40" rx="0" fill="#40a060" opacity="0.8"/><rect x="120.33" y="495.40" width="1.00" height="1.40" rx="0" fill="#30a0c0" opacity="0.8"/><rect x="124.24" y="495.40" width="1.00" height="1.40" rx="0" fill="#30a0c0" opacity="0.8"/><rect x="129.44" y="495.40" width="1.00" height="1.40" rx="0" fill="#40a060" opacity="0.8"/><rect x="136.94" y="495.40" width="1.00" height="1.40" rx="0" fill="#40a060" opacity="0.8"/><rect x="141.28" y="495.40" width="1.00" height="1.40" rx="0" fill="#e8b040" opacity="0.8"/><rect x="148.25" y="495.40" width="1.00" height="1.40" rx="0" fill="#e05050" opacity="0.8"/><rect x="157.49" y="495.40" width="1.00" height="1.40" rx="0" fill="#9060b0" opacity="0.8"/><rect x="178.73" y="495.40" width="1.00" height="1.40" rx="0" fill="#e05050" opacity="0.8"/><rect x="185.51" y="495.40" width="1.00" height="1.40" rx="0" fill="#3060d0" opacity="0.8"/><rect x="189.59" y="495.40" width="1.00" height="1.40" rx="0" fill="#9060b0" opacity="0.8"/><rect x="192.85" y="495.40" width="1.00" height="1.40" rx="0" fill="#e8b040" opacity="0.8"/><rect x="196.10" y="495.40" width="1.00" height="1.40" rx="0" fill="#9060b0" opacity="0.8"/><ellipse cx="43.2" cy="499.8" rx="2.7" ry="1.15" fill="#c0c8d0" opacity="0.85"/><path d="M46.3 500.3 L146.0 500.3" stroke="#b8c0cc" stroke-width="0.5" fill="none" /><rect x="47.00" y="499.20" width="3.50" height="0.90" rx="0" fill="#8a94a4" opacity="0.4"/><rect x="52.80" y="499.20" width="4.57" height="0.90" rx="0" fill="#8a94a4" opacity="0.4"/><rect x="59.64" y="499.20" width="4.96" height="0.90" rx="0" fill="#8a94a4" opacity="0.4"/><rect x="66.20" y="499.20" width="4.88" height="0.90" rx="0" fill="#8a94a4" opacity="0.4"/><rect x="72.98" y="499.20" width="4.26" height="0.90" rx="0" fill="#8a94a4" opacity="0.4"/><rect x="79.00" y="499.20" width="4.77" height="0.90" rx="0" fill="#8a94a4" opacity="0.4"/><rect x="85.29" y="499.20" width="3.94" height="0.90" rx="0" fill="#8a94a4" opacity="0.4"/><rect x="90.96" y="499.20" width="3.47" height="0.90" rx="0" fill="#8a94a4" opacity="0.4"/><rect x="96.30" y="499.20" width="4.14" height="0.90" rx="0" fill="#8a94a4" opacity="0.4"/><rect x="102.76" y="499.20" width="3.41" height="0.90" rx="0" fill="#8a94a4" opacity="0.4"/><rect x="108.31" y="499.20" width="3.39" height="0.90" rx="0" fill="#8a94a4" opacity="0.4"/><rect x="113.47" y="499.20" width="4.76" height="0.90" rx="0" fill="#8a94a4" opacity="0.4"/><rect x="120.05" y="499.20" width="2.74" height="0.90" rx="0" fill="#8a94a4" opacity="0.4"/><rect x="124.62" y="499.20" width="4.35" height="0.90" rx="0" fill="#8a94a4" opacity="0.4"/><rect x="130.69" y="499.20" width="4.36" height="0.90" rx="0" fill="#8a94a4" opacity="0.4"/><rect x="137.09" y="499.20" width="4.20" height="0.90" rx="0" fill="#8a94a4" opacity="0.4"/><rect x="48.00" y="498.70" width="1.00" height="1.40" rx="0" fill="#40a060" opacity="0.8"/><rect x="52.49" y="498.70" width="1.00" height="1.40" rx="0" fill="#e05050" opacity="0.8"/><rect x="55.53" y="498.70" width="1.00" height="1.40" rx="0" fill="#e05050" opacity="0.8"/><rect x="68.35" y="498.70" width="1.00" height="1.40" rx="0" fill="#3060d0" opacity="0.8"/><rect x="74.37" y="498.70" width="1.00" height="1.40" rx="0" fill="#30a0c0" opacity="0.8"/><rect x="82.97" y="498.70" width="1.00" height="1.40" rx="0" fill="#40a060" opacity="0.8"/><rect x="89.22" y="498.70" width="1.00" height="1.40" rx="0" fill="#e05050" opacity="0.8"/><rect x="96.01" y="498.70" width="1.00" height="1.40" rx="0" fill="#40a060" opacity="0.8"/><rect x="102.12" y="498.70" width="1.00" height="1.40" rx="0" fill="#e05050" opacity="0.8"/><rect x="126.14" y="498.70" width="1.00" height="1.40" rx="0" fill="#3060d0" opacity="0.8"/><rect x="135.60" y="498.70" width="1.00" height="1.40" rx="0" fill="#e8b040" opacity="0.8"/><rect x="140.28" y="498.70" width="1.00" height="1.40" rx="0" fill="#e8b040" opacity="0.8"/><ellipse cx="43.2" cy="503.0" rx="2.7" ry="1.15" fill="#80c8e0" opacity="0.85"/><path d="M46.3 503.5 L111.0 503.5" stroke="#9fd0dc" stroke-width="0.5" fill="none" /><rect x="47.00" y="502.40" width="3.85" height="0.90" rx="0" fill="#8a94a4" opacity="0.4"/><rect x="52.40" y="502.40" width="4.80" height="0.90" rx="0" fill="#8a94a4" opacity="0.4"/><rect x="59.22" y="502.40" width="3.63" height="0.90" rx="0" fill="#8a94a4" opacity="0.4"/><rect x="64.64" y="502.40" width="2.62" height="0.90" rx="0" fill="#8a94a4" opacity="0.4"/><rect x="68.81" y="502.40" width="3.31" height="0.90" rx="0" fill="#8a94a4" opacity="0.4"/><rect x="74.16" y="502.40" width="3.32" height="0.90" rx="0" fill="#8a94a4" opacity="0.4"/><rect x="79.23" y="502.40" width="4.06" height="0.90" rx="0" fill="#8a94a4" opacity="0.4"/><rect x="84.98" y="502.40" width="3.67" height="0.90" rx="0" fill="#8a94a4" opacity="0.4"/><rect x="90.70" y="502.40" width="2.63" height="0.90" rx="0" fill="#8a94a4" opacity="0.4"/><rect x="95.80" y="502.40" width="4.38" height="0.90" rx="0" fill="#8a94a4" opacity="0.4"/><rect x="102.58" y="502.40" width="2.78" height="0.90" rx="0" fill="#8a94a4" opacity="0.4"/><rect x="54.16" y="501.90" width="1.00" height="1.40" rx="0" fill="#3060d0" opacity="0.8"/><rect x="60.35" y="501.90" width="1.00" height="1.40" rx="0" fill="#9060b0" opacity="0.8"/><rect x="69.46" y="501.90" width="1.00" height="1.40" rx="0" fill="#30a0c0" opacity="0.8"/><rect x="74.27" y="501.90" width="1.00" height="1.40" rx="0" fill="#e05050" opacity="0.8"/><rect x="78.06" y="501.90" width="1.00" height="1.40" rx="0" fill="#e8b040" opacity="0.8"/><rect x="81.35" y="501.90" width="1.00" height="1.40" rx="0" fill="#e8b040" opacity="0.8"/><rect x="87.86" y="501.90" width="1.00" height="1.40" rx="0" fill="#e8b040" opacity="0.8"/><rect x="105.66" y="501.90" width="1.00" height="1.40" rx="0" fill="#30a0c0" opacity="0.8"/><ellipse cx="43.2" cy="506.0" rx="2.7" ry="1.15" fill="#e8a060" opacity="0.85"/><path d="M46.3 506.5 L113.7 506.5" stroke="#c0c4cc" stroke-width="0.5" fill="none" /><rect x="47.00" y="505.40" width="3.33" height="0.90" rx="0" fill="#8a94a4" opacity="0.4"/><rect x="52.76" y="505.40" width="4.89" height="0.90" rx="0" fill="#8a94a4" opacity="0.4"/><rect x="59.37" y="505.40" width="3.22" height="0.90" rx="0" fill="#8a94a4" opacity="0.4"/><rect x="64.51" y="505.40" width="4.04" height="0.90" rx="0" fill="#8a94a4" opacity="0.4"/><rect x="70.08" y="505.40" width="4.20" height="0.90" rx="0" fill="#8a94a4" opacity="0.4"/><rect x="76.25" y="505.40" width="3.72" height="0.90" rx="0" fill="#8a94a4" opacity="0.4"/><rect x="81.56" y="505.40" width="4.12" height="0.90" rx="0" fill="#8a94a4" opacity="0.4"/><rect x="87.71" y="505.40" width="3.29" height="0.90" rx="0" fill="#8a94a4" opacity="0.4"/><rect x="93.46" y="505.40" width="4.93" height="0.90" rx="0" fill="#8a94a4" opacity="0.4"/><rect x="100.45" y="505.40" width="4.99" height="0.90" rx="0" fill="#8a94a4" opacity="0.4"/><rect x="107.31" y="505.40" width="4.54" height="0.90" rx="0" fill="#8a94a4" opacity="0.4"/><rect x="58.62" y="504.90" width="1.00" height="1.40" rx="0" fill="#40a060" opacity="0.8"/><rect x="62.30" y="504.90" width="1.00" height="1.40" rx="0" fill="#e05050" opacity="0.8"/><rect x="65.82" y="504.90" width="1.00" height="1.40" rx="0" fill="#30a0c0" opacity="0.8"/><rect x="71.26" y="504.90" width="1.00" height="1.40" rx="0" fill="#e8b040" opacity="0.8"/><rect x="74.29" y="504.90" width="1.00" height="1.40" rx="0" fill="#e8b040" opacity="0.8"/><rect x="80.24" y="504.90" width="1.00" height="1.40" rx="0" fill="#9060b0" opacity="0.8"/><rect x="86.32" y="504.90" width="1.00" height="1.40" rx="0" fill="#3060d0" opacity="0.8"/><rect x="91.84" y="504.90" width="1.00" height="1.40" rx="0" fill="#e05050" opacity="0.8"/><rect x="95.96" y="504.90" width="1.00" height="1.40" rx="0" fill="#3060d0" opacity="0.8"/><rect x="102.73" y="504.90" width="1.00" height="1.40" rx="0" fill="#e05050" opacity="0.8"/><rect x="106.67" y="504.90" width="1.00" height="1.40" rx="0" fill="#9060b0" opacity="0.8"/></svg></div></div>
<div class="th" style="left:255px;top:419px"><div class="l"></div><div class="r"></div><div class="b"></div><div class="c" id="t10"><svg width="206" height="127" viewBox="256 419 206 127"><path d="M290.8 477.7 L292.5 477.7" stroke="#b0c4cc" stroke-width="0.5" fill="none" /><path d="M292.5 454.9 L292.5 500.9" stroke="#b0c4cc" stroke-width="0.5" fill="none" /><path d="M292.5 454.9 L297.7 454.9" stroke="#b0c4cc" stroke-width="0.5" fill="none" /><path d="M292.5 483.8 L297.7 483.8" stroke="#b0c4cc" stroke-width="0.5" fill="none" /><path d="M292.5 500.9 L297.7 500.9" stroke="#b0c4cc" stroke-width="0.5" fill="none" /><rect x="263.61" y="473.32" width="27.16" height="8.69" rx="4.5" fill="#4db040" /><line x1="267.95" y1="477.67" x2="286.42" y2="477.67" stroke="#fff" stroke-width="1.2" stroke-dasharray="1.6 0.5 1 0.6 2 0.5" opacity="0.85"/><rect x="297.72" y="451.59" width="10.43" height="5.43" rx="2.6" fill="#8d979f" /><line x1="299.89" y1="454.31" x2="305.98" y2="454.31" stroke="#fff" stroke-width="1.0" stroke-dasharray="1.6 0.5 1 0.6 2 0.5" opacity="0.8"/><rect x="297.72" y="480.93" width="10.43" height="5.87" rx="2.6" fill="#8d979f" /><line x1="299.89" y1="483.86" x2="305.98" y2="483.86" stroke="#fff" stroke-width="1.0" stroke-dasharray="1.6 0.5 1 0.6 2 0.5" opacity="0.8"/><rect x="297.72" y="497.66" width="15.86" height="6.08" rx="2.6" fill="#8d979f" /><line x1="299.89" y1="500.70" x2="311.41" y2="500.70" stroke="#fff" stroke-width="1.0" stroke-dasharray="1.6 0.5 1 0.6 2 0.5" opacity="0.8"/><path d="M308.2 454.9 L309.2 454.9" stroke="#b0c4cc" stroke-width="0.5" fill="none" /><path d="M309.2 447.2 L309.2 463.5" stroke="#b0c4cc" stroke-width="0.5" fill="none" /><path d="M309.2 447.2 L314.7 447.2" stroke="#b0c4cc" stroke-width="0.5" fill="none" /><path d="M309.2 462.5 L314.7 462.5" stroke="#b0c4cc" stroke-width="0.5" fill="none" /><path d="M308.2 483.8 L309.2 483.8" stroke="#b0c4cc" stroke-width="0.5" fill="none" /><path d="M309.2 478.8 L309.2 488.5" stroke="#b0c4cc" stroke-width="0.5" fill="none" /><path d="M309.2 478.8 L314.7 478.8" stroke="#b0c4cc" stroke-width="0.5" fill="none" /><path d="M309.2 488.5 L314.7 488.5" stroke="#b0c4cc" stroke-width="0.5" fill="none" /><path d="M313.6 500.9 L315.8 500.9" stroke="#b0c4cc" stroke-width="0.5" fill="none" /><line x1="315.76" y1="446.81" x2="323.36" y2="446.81" stroke="#5a6474" stroke-width="1.0" stroke-dasharray="1.6 0.5 1 0.6 2 0.5" opacity="0.6"/><line x1="315.76" y1="462.02" x2="324.45" y2="462.02" stroke="#5a6474" stroke-width="1.0" stroke-dasharray="1.6 0.5 1 0.6 2 0.5" opacity="0.6"/><line x1="315.76" y1="478.76" x2="322.28" y2="478.76" stroke="#5a6474" stroke-width="1.0" stroke-dasharray="1.6 0.5 1 0.6 2 0.5" opacity="0.6"/><line x1="315.76" y1="488.53" x2="324.45" y2="488.53" stroke="#5a6474" stroke-width="1.0" stroke-dasharray="1.6 0.5 1 0.6 2 0.5" opacity="0.6"/><line x1="321.19" y1="498.31" x2="329.88" y2="498.31" stroke="#5a6474" stroke-width="1.0" stroke-dasharray="1.6 0.5 1 0.6 2 0.5" opacity="0.6"/><line x1="321.19" y1="503.31" x2="327.71" y2="503.31" stroke="#5a6474" stroke-width="1.0" stroke-dasharray="1.6 0.5 1 0.6 2 0.5" opacity="0.6"/><path d="M327.7 439.0 L327.7 454.9" stroke="#b0c4cc" stroke-width="0.5" fill="none" /><path d="M327.7 459.2 L327.7 465.1" stroke="#b0c4cc" stroke-width="0.5" fill="none" /><path d="M326.6 473.3 L326.6 484.2" stroke="#b0c4cc" stroke-width="0.5" fill="none" /><path d="M349.9 496.1 L349.9 504.8" stroke="#b0c4cc" stroke-width="0.5" fill="none" /><path d="M327.7 439.0 L331.0 439.0" stroke="#b0c4cc" stroke-width="0.5" fill="none" /><line x1="332.05" y1="438.99" x2="338.57" y2="438.99" stroke="#5a6474" stroke-width="1.0" stroke-dasharray="1.6 0.5 1 0.6 2 0.5" opacity="0.6"/><path d="M339.7 439.6 L344.0 439.6" stroke="#c8d4da" stroke-width="0.5" fill="none" /><line x1="346.18" y1="438.99" x2="351.61" y2="438.99" stroke="#5a6474" stroke-width="1.0" stroke-dasharray="1.6 0.5 1 0.6 2 0.5" opacity="0.6"/><path d="M327.7 444.4 L331.0 444.4" stroke="#b0c4cc" stroke-width="0.5" fill="none" /><line x1="332.05" y1="444.42" x2="338.57" y2="444.42" stroke="#5a6474" stroke-width="1.0" stroke-dasharray="1.6 0.5 1 0.6 2 0.5" opacity="0.6"/><path d="M339.7 445.1 L344.0 445.1" stroke="#c8d4da" stroke-width="0.5" fill="none" /><line x1="346.18" y1="444.42" x2="351.61" y2="444.42" stroke="#5a6474" stroke-width="1.0" stroke-dasharray="1.6 0.5 1 0.6 2 0.5" opacity="0.6"/><path d="M327.7 449.4 L331.0 449.4" stroke="#b0c4cc" stroke-width="0.5" fill="none" /><line x1="332.05" y1="449.42" x2="338.57" y2="449.42" stroke="#5a6474" stroke-width="1.0" stroke-dasharray="1.6 0.5 1 0.6 2 0.5" opacity="0.6"/><path d="M339.7 450.1 L344.0 450.1" stroke="#c8d4da" stroke-width="0.5" fill="none" /><line x1="346.18" y1="449.42" x2="351.61" y2="449.42" stroke="#5a6474" stroke-width="1.0" stroke-dasharray="1.6 0.5 1 0.6 2 0.5" opacity="0.6"/><path d="M327.7 454.4 L331.0 454.4" stroke="#b0c4cc" stroke-width="0.5" fill="none" /><line x1="332.05" y1="454.42" x2="338.57" y2="454.42" stroke="#5a6474" stroke-width="1.0" stroke-dasharray="1.6 0.5 1 0.6 2 0.5" opacity="0.6"/><path d="M339.7 455.1 L344.0 455.1" stroke="#c8d4da" stroke-width="0.5" fill="none" /><line x1="346.18" y1="454.42" x2="351.61" y2="454.42" stroke="#5a6474" stroke-width="1.0" stroke-dasharray="1.6 0.5 1 0.6 2 0.5" opacity="0.6"/><path d="M327.7 459.2 L332.1 459.2" stroke="#b0c4cc" stroke-width="0.5" fill="none" /><line x1="333.79" y1="459.20" x2="344.01" y2="459.20" stroke="#5a6474" stroke-width="1.0" stroke-dasharray="1.6 0.5 1 0.6 2 0.5" opacity="0.6"/><path d="M347.3 459.6 L352.7 459.6" stroke="#c8d4da" stroke-width="0.5" fill="none" /><line x1="354.87" y1="459.20" x2="362.04" y2="459.20" stroke="#5a6474" stroke-width="1.0" stroke-dasharray="1.6 0.5 1 0.6 2 0.5" opacity="0.6"/><path d="M327.7 465.1 L332.1 465.1" stroke="#b0c4cc" stroke-width="0.5" fill="none" /><line x1="333.79" y1="465.07" x2="340.75" y2="465.07" stroke="#5a6474" stroke-width="1.0" stroke-dasharray="1.6 0.5 1 0.6 2 0.5" opacity="0.6"/><path d="M347.3 465.5 L352.7 465.5" stroke="#c8d4da" stroke-width="0.5" fill="none" /><line x1="349.44" y1="465.07" x2="357.04" y2="465.07" stroke="#5a6474" stroke-width="1.0" stroke-dasharray="1.6 0.5 1 0.6 2 0.5" opacity="0.6"/><path d="M326.6 473.8 L331.0 473.8" stroke="#b0c4cc" stroke-width="0.5" fill="none" /><line x1="332.05" y1="473.76" x2="339.66" y2="473.76" stroke="#5a6474" stroke-width="1.0" stroke-dasharray="1.6 0.5 1 0.6 2 0.5" opacity="0.6"/><path d="M341.8 474.2 L347.3 474.2" stroke="#c8d4da" stroke-width="0.5" fill="none" /><line x1="349.00" y1="473.76" x2="355.96" y2="473.76" stroke="#5a6474" stroke-width="1.0" stroke-dasharray="1.6 0.5 1 0.6 2 0.5" opacity="0.6"/><path d="M326.6 478.8 L331.0 478.8" stroke="#b0c4cc" stroke-width="0.5" fill="none" /><line x1="332.05" y1="478.76" x2="339.66" y2="478.76" stroke="#5a6474" stroke-width="1.0" stroke-dasharray="1.6 0.5 1 0.6 2 0.5" opacity="0.6"/><path d="M341.8 479.2 L347.3 479.2" stroke="#c8d4da" stroke-width="0.5" fill="none" /><line x1="349.00" y1="478.76" x2="355.96" y2="478.76" stroke="#5a6474" stroke-width="1.0" stroke-dasharray="1.6 0.5 1 0.6 2 0.5" opacity="0.6"/><path d="M326.6 484.2 L331.0 484.2" stroke="#b0c4cc" stroke-width="0.5" fill="none" /><line x1="332.05" y1="484.19" x2="339.66" y2="484.19" stroke="#5a6474" stroke-width="1.0" stroke-dasharray="1.6 0.5 1 0.6 2 0.5" opacity="0.6"/><path d="M341.8 484.6 L347.3 484.6" stroke="#8a96a8" stroke-width="0.5" fill="none" /><line x1="349.00" y1="484.19" x2="355.96" y2="484.19" stroke="#5a6474" stroke-width="1.0" stroke-dasharray="1.6 0.5 1 0.6 2 0.5" opacity="0.6"/><rect x="353.35" y="498.31" width="17.38" height="5.43" rx="0.5" fill="#fff" stroke="#9ab48a" stroke-width="0.45"/><line x1="354.44" y1="501.03" x2="369.65" y2="501.03" stroke="#505a68" stroke-width="1.0" stroke-dasharray="1.6 0.5 1 0.6 2 0.5" opacity="0.7"/><path d="M370.7 501.0 L375.6 501.0" stroke="#c0d0d8" stroke-width="0.5" fill="none" /><line x1="378.77" y1="501.03" x2="385.29" y2="501.03" stroke="#5a6474" stroke-width="1.0" stroke-dasharray="1.6 0.5 1 0.6 2 0.5" opacity="0.7"/><rect x="364.00" y="443.99" width="13.69" height="5.43" rx="0.5" fill="#fff" stroke="#9ab48a" stroke-width="0.45"/><line x1="365.08" y1="446.71" x2="376.60" y2="446.71" stroke="#505a68" stroke-width="1.0" stroke-dasharray="1.6 0.5 1 0.6 2 0.5" opacity="0.7"/><path d="M377.7 446.7 L382.2 446.7" stroke="#c0d0d8" stroke-width="0.5" fill="none" /><line x1="385.29" y1="446.71" x2="391.81" y2="446.71" stroke="#5a6474" stroke-width="1.0" stroke-dasharray="1.6 0.5 1 0.6 2 0.5" opacity="0.7"/><rect x="368.99" y="459.85" width="16.95" height="5.22" rx="0.5" fill="#fff" stroke="#9ab48a" stroke-width="0.45"/><line x1="370.08" y1="462.46" x2="384.86" y2="462.46" stroke="#505a68" stroke-width="1.0" stroke-dasharray="1.6 0.5 1 0.6 2 0.5" opacity="0.7"/><path d="M385.9 462.5 L390.1 462.5" stroke="#c0d0d8" stroke-width="0.5" fill="none" /><line x1="392.90" y1="462.46" x2="399.42" y2="462.46" stroke="#5a6474" stroke-width="1.0" stroke-dasharray="1.6 0.5 1 0.6 2 0.5" opacity="0.7"/><rect x="362.91" y="475.93" width="8.69" height="6.08" rx="0.5" fill="#fff" stroke="#9ab48a" stroke-width="0.45"/><line x1="364.00" y1="478.97" x2="370.52" y2="478.97" stroke="#505a68" stroke-width="1.0" stroke-dasharray="1.6 0.5 1 0.6 2 0.5" opacity="0.7"/><path d="M371.6 479.0 L375.3 479.0" stroke="#c0d0d8" stroke-width="0.5" fill="none" /><line x1="377.69" y1="478.97" x2="385.29" y2="478.97" stroke="#5a6474" stroke-width="1.0" stroke-dasharray="1.6 0.5 1 0.6 2 0.5" opacity="0.7"/><rect x="391.81" y="479.19" width="9.34" height="5.00" rx="0.5" fill="#fff" stroke="#9ab48a" stroke-width="0.45"/><line x1="392.90" y1="481.69" x2="400.07" y2="481.69" stroke="#505a68" stroke-width="1.0" stroke-dasharray="1.6 0.5 1 0.6 2 0.5" opacity="0.7"/><path d="M401.2 481.7 L405.1 481.7" stroke="#c0d0d8" stroke-width="0.5" fill="none" /><line x1="407.67" y1="481.69" x2="415.71" y2="481.69" stroke="#e06040" stroke-width="1.0" stroke-dasharray="1.6 0.5 1 0.6 2 0.5" opacity="0.7"/><rect x="408.11" y="449.42" width="7.61" height="4.78" rx="0.5" fill="#fff" stroke="#9ab48a" stroke-width="0.45"/><line x1="409.19" y1="451.81" x2="414.63" y2="451.81" stroke="#505a68" stroke-width="1.0" stroke-dasharray="1.6 0.5 1 0.6 2 0.5" opacity="0.7"/><path d="M415.7 451.8 L419.6 451.8" stroke="#c0d0d8" stroke-width="0.5" fill="none" /><line x1="422.23" y1="451.81" x2="433.10" y2="451.81" stroke="#5a6474" stroke-width="1.0" stroke-dasharray="1.6 0.5 1 0.6 2 0.5" opacity="0.7"/><rect x="422.23" y="486.36" width="22.82" height="5.00" rx="0.5" fill="#fff" stroke="#9ab48a" stroke-width="0.45"/><line x1="423.32" y1="488.86" x2="443.96" y2="488.86" stroke="#505a68" stroke-width="1.0" stroke-dasharray="1.6 0.5 1 0.6 2 0.5" opacity="0.7"/><path d="M445.0 488.9 L449.0 488.9" stroke="#c0d0d8" stroke-width="0.5" fill="none" /><line x1="451.57" y1="488.86" x2="459.17" y2="488.86" stroke="#e06040" stroke-width="1.0" stroke-dasharray="1.6 0.5 1 0.6 2 0.5" opacity="0.7"/><path d="M360.3 437.5 L360.3 455.9" stroke="#b0c4cc" stroke-width="0.5" fill="none" /><path d="M366.4 458.1 L366.4 465.7" stroke="#b0c4cc" stroke-width="0.5" fill="none" /><path d="M360.3 472.2 L360.3 486.4" stroke="#b0c4cc" stroke-width="0.5" fill="none" /><path d="M389.2 472.2 L389.2 490.7" stroke="#b0c4cc" stroke-width="0.5" fill="none" /><path d="M404.4 437.5 L404.4 465.7" stroke="#b0c4cc" stroke-width="0.5" fill="none" /><path d="M419.0 472.2 L419.0 505.9" stroke="#b0c4cc" stroke-width="0.5" fill="none" /><path d="M436.4 451.6 L455.9 451.6" stroke="#9aa4b0" stroke-width="0.6" fill="none" stroke-dasharray="0.6 2.2"/><path d="M455.5 453.8 L455.5 486.4" stroke="#a8bcc4" stroke-width="0.6" fill="none" /><line x1="454.17" y1="457.68" x2="456.78" y2="457.68" stroke="#505a68" stroke-width="1.2" stroke-dasharray="1.6 0.5 1 0.6 2 0.5" opacity="0.7"/><rect x="257.74" y="521.13" width="17.82" height="5.43" rx="2.5" fill="#fff" stroke="#a8c0a0" stroke-width="0.45"/><rect x="261.28" y="522.94" width="1.60" height="1.60" rx="0" fill="#e06060" /><line x1="264.69" y1="523.74" x2="272.30" y2="523.74" stroke="#404856" stroke-width="1.1" stroke-dasharray="1.6 0.5 1 0.6 2 0.5" opacity="0.75"/><path d="M278.4 520.7 L278.4 526.6" stroke="#b0c4cc" stroke-width="0.5" fill="none" /><path d="M275.6 523.7 L278.4 523.7" stroke="#b0c4cc" stroke-width="0.5" fill="none" /><line x1="283.16" y1="520.69" x2="290.77" y2="520.69" stroke="#5a6474" stroke-width="1.0" stroke-dasharray="1.6 0.5 1 0.6 2 0.5" opacity="0.6"/><path d="M292.5 520.9 L296.9 520.9" stroke="#c8d4da" stroke-width="0.5" fill="none" /><line x1="298.37" y1="520.69" x2="305.54" y2="520.69" stroke="#5a6474" stroke-width="1.0" stroke-dasharray="1.6 0.5 1 0.6 2 0.5" opacity="0.6"/><line x1="283.16" y1="526.56" x2="287.51" y2="526.56" stroke="#5a6474" stroke-width="1.0" stroke-dasharray="1.6 0.5 1 0.6 2 0.5" opacity="0.6"/><path d="M292.5 526.8 L296.9 526.8" stroke="#c8d4da" stroke-width="0.5" fill="none" /><line x1="295.11" y1="526.56" x2="302.72" y2="526.56" stroke="#5a6474" stroke-width="1.0" stroke-dasharray="1.6 0.5 1 0.6 2 0.5" opacity="0.6"/></svg></div></div>
<div class="th" style="left:481px;top:419px"><div class="l"></div><div class="r"></div><div class="b"></div><div class="c" id="t11"><svg width="206" height="127" viewBox="482 419 206 127"><circle cx="559.14" cy="427.28" r="2.5" fill="#e8eaec" stroke="#b8bcc0" stroke-width="0.3"/><rect x="557.64" y="429.78" width="3.00" height="3.00" rx="0" fill="#d8dcdf" /><line x1="566.75" y1="425.95" x2="585.22" y2="425.95" stroke="#3a4250" stroke-width="1.5" stroke-dasharray="1.6 0.5 1 0.6 2 0.5" opacity="0.85"/><line x1="570.01" y1="430.95" x2="580.87" y2="430.95" stroke="#3a4250" stroke-width="1.5" stroke-dasharray="1.6 0.5 1 0.6 2 0.5" opacity="0.8"/><path d="M495.0 449.4 L495.0 440.7 Q495.0 438.6 498.3 438.6 L640.6 438.6 Q644.5 438.6 644.5 441.8 L644.5 446.2" stroke="#b8cdd3" stroke-width="0.7" fill="none" /><path d="M543.3 438.6 L543.3 446.2" stroke="#b8cdd3" stroke-width="0.7" fill="none" /><path d="M591.1 438.6 L591.1 446.2" stroke="#b8cdd3" stroke-width="0.7" fill="none" /><path d="M574.4 434.2 L574.4 438.6" stroke="#b8cdd3" stroke-width="0.6" fill="none" /><line x1="491.78" y1="448.34" x2="498.30" y2="448.34" stroke="#404856" stroke-width="1.1" stroke-dasharray="1.6 0.5 1 0.6 2 0.5" opacity="0.75"/><line x1="540.67" y1="448.34" x2="547.19" y2="448.34" stroke="#404856" stroke-width="1.1" stroke-dasharray="1.6 0.5 1 0.6 2 0.5" opacity="0.75"/><line x1="588.04" y1="448.34" x2="594.99" y2="448.34" stroke="#404856" stroke-width="1.1" stroke-dasharray="1.6 0.5 1 0.6 2 0.5" opacity="0.75"/><line x1="638.89" y1="448.34" x2="649.32" y2="448.34" stroke="#404856" stroke-width="1.1" stroke-dasharray="1.6 0.5 1 0.6 2 0.5" opacity="0.75"/><path d="M495.5 451.6 L495.5 534.2" stroke="#b8cdd3" stroke-width="0.6" fill="none" /><path d="M495.5 467.9 L499.8 467.9" stroke="#b8cdd3" stroke-width="0.5" fill="none" /><circle cx="503.73" cy="464.72" r="2.6" fill="#fff" stroke="#555" stroke-width="0.35"/><path d="M500.8 465.2 Q500.7 461.4 503.7 461.5 Q506.7 461.4 506.6 465.2 Q505.7 462.9 503.7 462.9 Q501.7 462.9 500.8 465.2Z" fill="#2e2e2e"/><path d="M499.9 470.3 Q503.7 466.5 507.5 470.3Z" fill="#fff" stroke="#8a9aa0" stroke-width="0.35"/><line x1="500.47" y1="475.50" x2="506.99" y2="475.50" stroke="#5a6474" stroke-width="1.0" stroke-dasharray="1.6 0.5 1 0.6 2 0.5" opacity="0.6"/><path d="M510.2 468.3 L513.5 468.3" stroke="#b8cdd3" stroke-width="0.5" fill="none" /><path d="M513.5 461.8 L513.5 475.5" stroke="#b8cdd3" stroke-width="0.5" fill="none" /><path d="M513.5 461.4 L516.1 461.4" stroke="#b8cdd3" stroke-width="0.5" fill="none" /><line x1="516.77" y1="461.37" x2="526.55" y2="461.37" stroke="#4a5464" stroke-width="1.0" stroke-dasharray="1.6 0.5 1 0.6 2 0.5" opacity="0.65"/><path d="M513.5 468.3 L516.1 468.3" stroke="#b8cdd3" stroke-width="0.5" fill="none" /><rect x="517.05" y="467.43" width="1.70" height="1.80" rx="0" fill="#eaa030" /><line x1="520.46" y1="468.33" x2="529.81" y2="468.33" stroke="#5a6474" stroke-width="1.0" stroke-dasharray="1.6 0.5 1 0.6 2 0.5" opacity="0.6"/><path d="M513.5 475.5 L516.1 475.5" stroke="#b8cdd3" stroke-width="0.5" fill="none" /><line x1="516.77" y1="475.50" x2="522.20" y2="475.50" stroke="#4a5464" stroke-width="1.0" stroke-dasharray="1.6 0.5 1 0.6 2 0.5" opacity="0.65"/><path d="M495.5 490.7 L499.8 490.7" stroke="#b8cdd3" stroke-width="0.5" fill="none" /><circle cx="503.73" cy="487.53" r="2.6" fill="#fff" stroke="#555" stroke-width="0.35"/><path d="M500.8 488.0 Q500.7 484.2 503.7 484.3 Q506.7 484.2 506.6 488.0 Q505.7 485.7 503.7 485.7 Q501.7 485.7 500.8 488.0Z" fill="#2e2e2e"/><path d="M499.9 493.1 Q503.7 489.3 507.5 493.1Z" fill="#fff" stroke="#8a9aa0" stroke-width="0.35"/><line x1="500.47" y1="498.31" x2="506.99" y2="498.31" stroke="#5a6474" stroke-width="1.0" stroke-dasharray="1.6 0.5 1 0.6 2 0.5" opacity="0.6"/><path d="M510.2 491.1 L513.5 491.1" stroke="#b8cdd3" stroke-width="0.5" fill="none" /><path d="M513.5 484.6 L513.5 498.3" stroke="#b8cdd3" stroke-width="0.5" fill="none" /><path d="M513.5 484.2 L516.1 484.2" stroke="#b8cdd3" stroke-width="0.5" fill="none" /><line x1="516.77" y1="484.19" x2="526.55" y2="484.19" stroke="#4a5464" stroke-width="1.0" stroke-dasharray="1.6 0.5 1 0.6 2 0.5" opacity="0.65"/><path d="M513.5 491.1 L516.1 491.1" stroke="#b8cdd3" stroke-width="0.5" fill="none" /><rect x="517.05" y="490.24" width="1.70" height="1.80" rx="0" fill="#eaa030" /><line x1="520.46" y1="491.14" x2="529.81" y2="491.14" stroke="#5a6474" stroke-width="1.0" stroke-dasharray="1.6 0.5 1 0.6 2 0.5" opacity="0.6"/><path d="M513.5 498.3 L516.1 498.3" stroke="#b8cdd3" stroke-width="0.5" fill="none" /><line x1="516.77" y1="498.31" x2="522.20" y2="498.31" stroke="#4a5464" stroke-width="1.0" stroke-dasharray="1.6 0.5 1 0.6 2 0.5" opacity="0.65"/><path d="M495.5 512.4 L499.8 512.4" stroke="#b8cdd3" stroke-width="0.5" fill="none" /><circle cx="503.73" cy="509.26" r="2.6" fill="#fff" stroke="#555" stroke-width="0.35"/><path d="M500.8 509.8 Q500.7 506.0 503.7 506.1 Q506.7 506.0 506.6 509.8 Q505.7 507.5 503.7 507.5 Q501.7 507.5 500.8 509.8Z" fill="#2e2e2e"/><path d="M499.9 514.9 Q503.7 511.1 507.5 514.9Z" fill="#fff" stroke="#8a9aa0" stroke-width="0.35"/><line x1="500.47" y1="520.04" x2="506.99" y2="520.04" stroke="#5a6474" stroke-width="1.0" stroke-dasharray="1.6 0.5 1 0.6 2 0.5" opacity="0.6"/><path d="M510.2 512.9 L513.5 512.9" stroke="#b8cdd3" stroke-width="0.5" fill="none" /><path d="M513.5 506.4 L513.5 520.0" stroke="#b8cdd3" stroke-width="0.5" fill="none" /><path d="M513.5 505.9 L516.1 505.9" stroke="#b8cdd3" stroke-width="0.5" fill="none" /><line x1="516.77" y1="505.92" x2="526.55" y2="505.92" stroke="#4a5464" stroke-width="1.0" stroke-dasharray="1.6 0.5 1 0.6 2 0.5" opacity="0.65"/><path d="M513.5 512.9 L516.1 512.9" stroke="#b8cdd3" stroke-width="0.5" fill="none" /><rect x="517.05" y="511.97" width="1.70" height="1.80" rx="0" fill="#eaa030" /><line x1="520.46" y1="512.87" x2="529.81" y2="512.87" stroke="#5a6474" stroke-width="1.0" stroke-dasharray="1.6 0.5 1 0.6 2 0.5" opacity="0.6"/><path d="M513.5 520.0 L516.1 520.0" stroke="#b8cdd3" stroke-width="0.5" fill="none" /><line x1="516.77" y1="520.04" x2="522.20" y2="520.04" stroke="#4a5464" stroke-width="1.0" stroke-dasharray="1.6 0.5 1 0.6 2 0.5" opacity="0.65"/><path d="M495.5 534.2 L499.8 534.2" stroke="#b8cdd3" stroke-width="0.5" fill="none" /><circle cx="503.73" cy="530.99" r="2.6" fill="#fff" stroke="#555" stroke-width="0.35"/><path d="M500.8 531.5 Q500.7 527.7 503.7 527.8 Q506.7 527.7 506.6 531.5 Q505.7 529.2 503.7 529.2 Q501.7 529.2 500.8 531.5Z" fill="#2e2e2e"/><path d="M499.9 536.6 Q503.7 532.8 507.5 536.6Z" fill="#fff" stroke="#8a9aa0" stroke-width="0.35"/><line x1="500.47" y1="541.77" x2="506.99" y2="541.77" stroke="#5a6474" stroke-width="1.0" stroke-dasharray="1.6 0.5 1 0.6 2 0.5" opacity="0.6"/><path d="M510.2 534.6 L513.5 534.6" stroke="#b8cdd3" stroke-width="0.5" fill="none" /><path d="M513.5 528.1 L513.5 541.8" stroke="#b8cdd3" stroke-width="0.5" fill="none" /><path d="M513.5 527.6 L516.1 527.6" stroke="#b8cdd3" stroke-width="0.5" fill="none" /><line x1="516.77" y1="527.65" x2="526.55" y2="527.65" stroke="#4a5464" stroke-width="1.0" stroke-dasharray="1.6 0.5 1 0.6 2 0.5" opacity="0.65"/><path d="M513.5 534.6 L516.1 534.6" stroke="#b8cdd3" stroke-width="0.5" fill="none" /><rect x="517.05" y="533.70" width="1.70" height="1.80" rx="0" fill="#eaa030" /><line x1="520.46" y1="534.60" x2="529.81" y2="534.60" stroke="#5a6474" stroke-width="1.0" stroke-dasharray="1.6 0.5 1 0.6 2 0.5" opacity="0.6"/><path d="M513.5 541.8 L516.1 541.8" stroke="#b8cdd3" stroke-width="0.5" fill="none" /><line x1="516.77" y1="541.77" x2="522.20" y2="541.77" stroke="#4a5464" stroke-width="1.0" stroke-dasharray="1.6 0.5 1 0.6 2 0.5" opacity="0.65"/><path d="M543.3 451.6 L543.3 512.4" stroke="#b8cdd3" stroke-width="0.6" fill="none" /><path d="M543.3 467.9 L547.6 467.9" stroke="#b8cdd3" stroke-width="0.5" fill="none" /><circle cx="551.53" cy="464.72" r="2.6" fill="#fff" stroke="#555" stroke-width="0.35"/><path d="M548.6 465.2 Q548.5 461.4 551.5 461.5 Q554.5 461.4 554.4 465.2 Q553.5 462.9 551.5 462.9 Q549.5 462.9 548.6 465.2Z" fill="#2e2e2e"/><path d="M547.7 470.3 Q551.5 466.5 555.3 470.3Z" fill="#fff" stroke="#8a9aa0" stroke-width="0.35"/><line x1="548.28" y1="475.50" x2="554.79" y2="475.50" stroke="#5a6474" stroke-width="1.0" stroke-dasharray="1.6 0.5 1 0.6 2 0.5" opacity="0.6"/><path d="M558.1 468.3 L561.3 468.3" stroke="#b8cdd3" stroke-width="0.5" fill="none" /><path d="M561.3 461.8 L561.3 475.5" stroke="#b8cdd3" stroke-width="0.5" fill="none" /><path d="M561.3 461.4 L563.9 461.4" stroke="#b8cdd3" stroke-width="0.5" fill="none" /><line x1="564.57" y1="461.37" x2="574.35" y2="461.37" stroke="#4a5464" stroke-width="1.0" stroke-dasharray="1.6 0.5 1 0.6 2 0.5" opacity="0.65"/><path d="M561.3 468.3 L563.9 468.3" stroke="#b8cdd3" stroke-width="0.5" fill="none" /><rect x="564.86" y="467.43" width="1.70" height="1.80" rx="0" fill="#eaa030" /><line x1="568.27" y1="468.33" x2="577.61" y2="468.33" stroke="#5a6474" stroke-width="1.0" stroke-dasharray="1.6 0.5 1 0.6 2 0.5" opacity="0.6"/><path d="M561.3 475.5 L563.9 475.5" stroke="#b8cdd3" stroke-width="0.5" fill="none" /><line x1="564.57" y1="475.50" x2="570.01" y2="475.50" stroke="#4a5464" stroke-width="1.0" stroke-dasharray="1.6 0.5 1 0.6 2 0.5" opacity="0.65"/><path d="M543.3 490.7 L547.6 490.7" stroke="#b8cdd3" stroke-width="0.5" fill="none" /><circle cx="551.53" cy="487.53" r="2.6" fill="#fff" stroke="#555" stroke-width="0.35"/><path d="M548.6 488.0 Q548.5 484.2 551.5 484.3 Q554.5 484.2 554.4 488.0 Q553.5 485.7 551.5 485.7 Q549.5 485.7 548.6 488.0Z" fill="#2e2e2e"/><path d="M547.7 493.1 Q551.5 489.3 555.3 493.1Z" fill="#fff" stroke="#8a9aa0" stroke-width="0.35"/><line x1="548.28" y1="498.31" x2="554.79" y2="498.31" stroke="#5a6474" stroke-width="1.0" stroke-dasharray="1.6 0.5 1 0.6 2 0.5" opacity="0.6"/><path d="M558.1 491.1 L561.3 491.1" stroke="#b8cdd3" stroke-width="0.5" fill="none" /><path d="M561.3 484.6 L561.3 498.3" stroke="#b8cdd3" stroke-width="0.5" fill="none" /><path d="M561.3 484.2 L563.9 484.2" stroke="#b8cdd3" stroke-width="0.5" fill="none" /><line x1="564.57" y1="484.19" x2="574.35" y2="484.19" stroke="#4a5464" stroke-width="1.0" stroke-dasharray="1.6 0.5 1 0.6 2 0.5" opacity="0.65"/><path d="M561.3 491.1 L563.9 491.1" stroke="#b8cdd3" stroke-width="0.5" fill="none" /><rect x="564.86" y="490.24" width="1.70" height="1.80" rx="0" fill="#eaa030" /><line x1="568.27" y1="491.14" x2="577.61" y2="491.14" stroke="#5a6474" stroke-width="1.0" stroke-dasharray="1.6 0.5 1 0.6 2 0.5" opacity="0.6"/><path d="M561.3 498.3 L563.9 498.3" stroke="#b8cdd3" stroke-width="0.5" fill="none" /><line x1="564.57" y1="498.31" x2="570.01" y2="498.31" stroke="#4a5464" stroke-width="1.0" stroke-dasharray="1.6 0.5 1 0.6 2 0.5" opacity="0.65"/><path d="M543.3 512.4 L547.6 512.4" stroke="#b8cdd3" stroke-width="0.5" fill="none" /><circle cx="551.53" cy="509.26" r="2.6" fill="#fff" stroke="#555" stroke-width="0.35"/><path d="M548.6 509.8 Q548.5 506.0 551.5 506.1 Q554.5 506.0 554.4 509.8 Q553.5 507.5 551.5 507.5 Q549.5 507.5 548.6 509.8Z" fill="#2e2e2e"/><path d="M547.7 514.9 Q551.5 511.1 555.3 514.9Z" fill="#fff" stroke="#8a9aa0" stroke-width="0.35"/><line x1="548.28" y1="520.04" x2="554.79" y2="520.04" stroke="#5a6474" stroke-width="1.0" stroke-dasharray="1.6 0.5 1 0.6 2 0.5" opacity="0.6"/><path d="M558.1 512.9 L561.3 512.9" stroke="#b8cdd3" stroke-width="0.5" fill="none" /><path d="M561.3 506.4 L561.3 520.0" stroke="#b8cdd3" stroke-width="0.5" fill="none" /><path d="M561.3 505.9 L563.9 505.9" stroke="#b8cdd3" stroke-width="0.5" fill="none" /><line x1="564.57" y1="505.92" x2="574.35" y2="505.92" stroke="#4a5464" stroke-width="1.0" stroke-dasharray="1.6 0.5 1 0.6 2 0.5" opacity="0.65"/><path d="M561.3 512.9 L563.9 512.9" stroke="#b8cdd3" stroke-width="0.5" fill="none" /><rect x="564.86" y="511.97" width="1.70" height="1.80" rx="0" fill="#eaa030" /><line x1="568.27" y1="512.87" x2="577.61" y2="512.87" stroke="#5a6474" stroke-width="1.0" stroke-dasharray="1.6 0.5 1 0.6 2 0.5" opacity="0.6"/><path d="M561.3 520.0 L563.9 520.0" stroke="#b8cdd3" stroke-width="0.5" fill="none" /><line x1="564.57" y1="520.04" x2="570.01" y2="520.04" stroke="#4a5464" stroke-width="1.0" stroke-dasharray="1.6 0.5 1 0.6 2 0.5" opacity="0.65"/><path d="M591.1 451.6 L591.1 534.2" stroke="#b8cdd3" stroke-width="0.6" fill="none" /><path d="M591.1 467.9 L595.4 467.9" stroke="#b8cdd3" stroke-width="0.5" fill="none" /><circle cx="599.34" cy="464.72" r="2.6" fill="#fff" stroke="#555" stroke-width="0.35"/><path d="M596.4 465.2 Q596.3 461.4 599.3 461.5 Q602.3 461.4 602.2 465.2 Q601.3 462.9 599.3 462.9 Q597.3 462.9 596.4 465.2Z" fill="#2e2e2e"/><path d="M595.5 470.3 Q599.3 466.5 603.1 470.3Z" fill="#fff" stroke="#8a9aa0" stroke-width="0.35"/><line x1="596.08" y1="475.50" x2="602.60" y2="475.50" stroke="#5a6474" stroke-width="1.0" stroke-dasharray="1.6 0.5 1 0.6 2 0.5" opacity="0.6"/><path d="M605.9 468.3 L609.1 468.3" stroke="#b8cdd3" stroke-width="0.5" fill="none" /><path d="M609.1 461.8 L609.1 475.5" stroke="#b8cdd3" stroke-width="0.5" fill="none" /><path d="M609.1 461.4 L611.7 461.4" stroke="#b8cdd3" stroke-width="0.5" fill="none" /><line x1="612.38" y1="461.37" x2="622.16" y2="461.37" stroke="#4a5464" stroke-width="1.0" stroke-dasharray="1.6 0.5 1 0.6 2 0.5" opacity="0.65"/><path d="M609.1 468.3 L611.7 468.3" stroke="#b8cdd3" stroke-width="0.5" fill="none" /><rect x="612.66" y="467.43" width="1.70" height="1.80" rx="0" fill="#eaa030" /><line x1="616.07" y1="468.33" x2="625.42" y2="468.33" stroke="#5a6474" stroke-width="1.0" stroke-dasharray="1.6 0.5 1 0.6 2 0.5" opacity="0.6"/><path d="M609.1 475.5 L611.7 475.5" stroke="#b8cdd3" stroke-width="0.5" fill="none" /><line x1="612.38" y1="475.50" x2="617.81" y2="475.50" stroke="#4a5464" stroke-width="1.0" stroke-dasharray="1.6 0.5 1 0.6 2 0.5" opacity="0.65"/><path d="M591.1 490.7 L595.4 490.7" stroke="#b8cdd3" stroke-width="0.5" fill="none" /><circle cx="599.34" cy="487.53" r="2.6" fill="#fff" stroke="#555" stroke-width="0.35"/><path d="M596.4 488.0 Q596.3 484.2 599.3 484.3 Q602.3 484.2 602.2 488.0 Q601.3 485.7 599.3 485.7 Q597.3 485.7 596.4 488.0Z" fill="#2e2e2e"/><path d="M595.5 493.1 Q599.3 489.3 603.1 493.1Z" fill="#fff" stroke="#8a9aa0" stroke-width="0.35"/><line x1="596.08" y1="498.31" x2="602.60" y2="498.31" stroke="#5a6474" stroke-width="1.0" stroke-dasharray="1.6 0.5 1 0.6 2 0.5" opacity="0.6"/><path d="M605.9 491.1 L609.1 491.1" stroke="#b8cdd3" stroke-width="0.5" fill="none" /><path d="M609.1 484.6 L609.1 498.3" stroke="#b8cdd3" stroke-width="0.5" fill="none" /><path d="M609.1 484.2 L611.7 484.2" stroke="#b8cdd3" stroke-width="0.5" fill="none" /><line x1="612.38" y1="484.19" x2="622.16" y2="484.19" stroke="#4a5464" stroke-width="1.0" stroke-dasharray="1.6 0.5 1 0.6 2 0.5" opacity="0.65"/><path d="M609.1 491.1 L611.7 491.1" stroke="#b8cdd3" stroke-width="0.5" fill="none" /><rect x="612.66" y="490.24" width="1.70" height="1.80" rx="0" fill="#eaa030" /><line x1="616.07" y1="491.14" x2="625.42" y2="491.14" stroke="#5a6474" stroke-width="1.0" stroke-dasharray="1.6 0.5 1 0.6 2 0.5" opacity="0.6"/><path d="M609.1 498.3 L611.7 498.3" stroke="#b8cdd3" stroke-width="0.5" fill="none" /><line x1="612.38" y1="498.31" x2="617.81" y2="498.31" stroke="#4a5464" stroke-width="1.0" stroke-dasharray="1.6 0.5 1 0.6 2 0.5" opacity="0.65"/><path d="M591.1 513.5 L595.4 513.5" stroke="#b8cdd3" stroke-width="0.5" fill="none" /><circle cx="599.34" cy="510.35" r="2.6" fill="#fff" stroke="#555" stroke-width="0.35"/><path d="M596.4 510.9 Q596.3 507.1 599.3 507.2 Q602.3 507.1 602.2 510.9 Q601.3 508.6 599.3 508.6 Q597.3 508.6 596.4 510.9Z" fill="#2e2e2e"/><path d="M595.5 516.0 Q599.3 512.2 603.1 516.0Z" fill="#fff" stroke="#8a9aa0" stroke-width="0.35"/><line x1="596.08" y1="521.13" x2="602.60" y2="521.13" stroke="#5a6474" stroke-width="1.0" stroke-dasharray="1.6 0.5 1 0.6 2 0.5" opacity="0.6"/><path d="M605.9 514.0 L609.1 514.0" stroke="#b8cdd3" stroke-width="0.5" fill="none" /><path d="M609.1 507.4 L609.1 521.1" stroke="#b8cdd3" stroke-width="0.5" fill="none" /><path d="M609.1 507.0 L611.7 507.0" stroke="#b8cdd3" stroke-width="0.5" fill="none" /><line x1="612.38" y1="507.01" x2="622.16" y2="507.01" stroke="#4a5464" stroke-width="1.0" stroke-dasharray="1.6 0.5 1 0.6 2 0.5" opacity="0.65"/><path d="M609.1 514.0 L611.7 514.0" stroke="#b8cdd3" stroke-width="0.5" fill="none" /><rect x="612.66" y="513.06" width="1.70" height="1.80" rx="0" fill="#eaa030" /><line x1="616.07" y1="513.96" x2="625.42" y2="513.96" stroke="#5a6474" stroke-width="1.0" stroke-dasharray="1.6 0.5 1 0.6 2 0.5" opacity="0.6"/><path d="M609.1 521.1 L611.7 521.1" stroke="#b8cdd3" stroke-width="0.5" fill="none" /><line x1="612.38" y1="521.13" x2="617.81" y2="521.13" stroke="#4a5464" stroke-width="1.0" stroke-dasharray="1.6 0.5 1 0.6 2 0.5" opacity="0.65"/><path d="M591.1 534.2 L595.4 534.2" stroke="#b8cdd3" stroke-width="0.5" fill="none" /><circle cx="599.34" cy="530.99" r="2.6" fill="#fff" stroke="#555" stroke-width="0.35"/><path d="M596.4 531.5 Q596.3 527.7 599.3 527.8 Q602.3 527.7 602.2 531.5 Q601.3 529.2 599.3 529.2 Q597.3 529.2 596.4 531.5Z" fill="#2e2e2e"/><path d="M595.5 536.6 Q599.3 532.8 603.1 536.6Z" fill="#fff" stroke="#8a9aa0" stroke-width="0.35"/><line x1="596.08" y1="541.77" x2="602.60" y2="541.77" stroke="#5a6474" stroke-width="1.0" stroke-dasharray="1.6 0.5 1 0.6 2 0.5" opacity="0.6"/><path d="M605.9 534.6 L609.1 534.6" stroke="#b8cdd3" stroke-width="0.5" fill="none" /><path d="M609.1 528.1 L609.1 541.8" stroke="#b8cdd3" stroke-width="0.5" fill="none" /><path d="M609.1 527.6 L611.7 527.6" stroke="#b8cdd3" stroke-width="0.5" fill="none" /><line x1="612.38" y1="527.65" x2="622.16" y2="527.65" stroke="#4a5464" stroke-width="1.0" stroke-dasharray="1.6 0.5 1 0.6 2 0.5" opacity="0.65"/><path d="M609.1 534.6 L611.7 534.6" stroke="#b8cdd3" stroke-width="0.5" fill="none" /><rect x="612.66" y="533.70" width="1.70" height="1.80" rx="0" fill="#eaa030" /><line x1="616.07" y1="534.60" x2="625.42" y2="534.60" stroke="#5a6474" stroke-width="1.0" stroke-dasharray="1.6 0.5 1 0.6 2 0.5" opacity="0.6"/><path d="M609.1 541.8 L611.7 541.8" stroke="#b8cdd3" stroke-width="0.5" fill="none" /><line x1="612.38" y1="541.77" x2="617.81" y2="541.77" stroke="#4a5464" stroke-width="1.0" stroke-dasharray="1.6 0.5 1 0.6 2 0.5" opacity="0.65"/><path d="M644.5 451.6 L644.5 490.7" stroke="#b8cdd3" stroke-width="0.6" fill="none" /><path d="M644.5 467.9 L648.7 467.9" stroke="#b8cdd3" stroke-width="0.5" fill="none" /><circle cx="652.58" cy="464.72" r="2.6" fill="#fff" stroke="#555" stroke-width="0.35"/><path d="M649.7 465.2 Q649.6 461.4 652.6 461.5 Q655.6 461.4 655.5 465.2 Q654.6 462.9 652.6 462.9 Q650.6 462.9 649.7 465.2Z" fill="#2e2e2e"/><path d="M648.8 470.3 Q652.6 466.5 656.4 470.3Z" fill="#fff" stroke="#8a9aa0" stroke-width="0.35"/><line x1="649.32" y1="475.50" x2="655.84" y2="475.50" stroke="#5a6474" stroke-width="1.0" stroke-dasharray="1.6 0.5 1 0.6 2 0.5" opacity="0.6"/><path d="M659.1 468.3 L662.4 468.3" stroke="#b8cdd3" stroke-width="0.5" fill="none" /><path d="M662.4 461.8 L662.4 475.5" stroke="#b8cdd3" stroke-width="0.5" fill="none" /><path d="M662.4 461.4 L665.0 461.4" stroke="#b8cdd3" stroke-width="0.5" fill="none" /><line x1="665.62" y1="461.37" x2="675.39" y2="461.37" stroke="#4a5464" stroke-width="1.0" stroke-dasharray="1.6 0.5 1 0.6 2 0.5" opacity="0.65"/><path d="M662.4 468.3 L665.0 468.3" stroke="#b8cdd3" stroke-width="0.5" fill="none" /><rect x="665.90" y="467.43" width="1.70" height="1.80" rx="0" fill="#eaa030" /><line x1="669.31" y1="468.33" x2="678.65" y2="468.33" stroke="#5a6474" stroke-width="1.0" stroke-dasharray="1.6 0.5 1 0.6 2 0.5" opacity="0.6"/><path d="M662.4 475.5 L665.0 475.5" stroke="#b8cdd3" stroke-width="0.5" fill="none" /><line x1="665.62" y1="475.50" x2="671.05" y2="475.50" stroke="#4a5464" stroke-width="1.0" stroke-dasharray="1.6 0.5 1 0.6 2 0.5" opacity="0.65"/><path d="M644.5 490.7 L648.7 490.7" stroke="#b8cdd3" stroke-width="0.5" fill="none" /><circle cx="652.58" cy="487.53" r="2.6" fill="#fff" stroke="#555" stroke-width="0.35"/><path d="M649.7 488.0 Q649.6 484.2 652.6 484.3 Q655.6 484.2 655.5 488.0 Q654.6 485.7 652.6 485.7 Q650.6 485.7 649.7 488.0Z" fill="#2e2e2e"/><path d="M648.8 493.1 Q652.6 489.3 656.4 493.1Z" fill="#fff" stroke="#8a9aa0" stroke-width="0.35"/><line x1="649.32" y1="498.31" x2="655.84" y2="498.31" stroke="#5a6474" stroke-width="1.0" stroke-dasharray="1.6 0.5 1 0.6 2 0.5" opacity="0.6"/><path d="M659.1 491.1 L662.4 491.1" stroke="#b8cdd3" stroke-width="0.5" fill="none" /><path d="M662.4 484.6 L662.4 498.3" stroke="#b8cdd3" stroke-width="0.5" fill="none" /><path d="M662.4 484.2 L665.0 484.2" stroke="#b8cdd3" stroke-width="0.5" fill="none" /><line x1="665.62" y1="484.19" x2="675.39" y2="484.19" stroke="#4a5464" stroke-width="1.0" stroke-dasharray="1.6 0.5 1 0.6 2 0.5" opacity="0.65"/><path d="M662.4 491.1 L665.0 491.1" stroke="#b8cdd3" stroke-width="0.5" fill="none" /><rect x="665.90" y="490.24" width="1.70" height="1.80" rx="0" fill="#eaa030" /><line x1="669.31" y1="491.14" x2="678.65" y2="491.14" stroke="#5a6474" stroke-width="1.0" stroke-dasharray="1.6 0.5 1 0.6 2 0.5" opacity="0.6"/><path d="M662.4 498.3 L665.0 498.3" stroke="#b8cdd3" stroke-width="0.5" fill="none" /><line x1="665.62" y1="498.31" x2="671.05" y2="498.31" stroke="#4a5464" stroke-width="1.0" stroke-dasharray="1.6 0.5 1 0.6 2 0.5" opacity="0.65"/></svg></div></div>
<div class="th" style="left:707px;top:419px"><div class="l"></div><div class="r"></div><div class="b"></div><div class="c" id="t12"><svg width="206" height="127" viewBox="708 419 206 127"><defs><pattern id="spk" patternUnits="userSpaceOnUse" x="0" y="0" width="40" height="40"><g fill="#e8dac4"><rect x="29" y="39" width="1" height="1"/><rect x="8" y="11" width="1" height="1"/><rect x="32" y="29" width="1" height="1"/><rect x="35" y="39" width="1" height="2"/><rect x="24" y="10" width="2" height="2"/><rect x="27" y="10" width="1" height="1"/><rect x="3" y="7" width="1" height="2"/><rect x="37" y="4" width="2" height="2"/><rect x="6" y="18" width="1" height="2"/><rect x="14" y="26" width="1" height="1"/><rect x="13" y="25" width="1" height="1"/><rect x="2" y="12" width="1" height="1"/><rect x="3" y="24" width="2" height="1"/><rect x="1" y="15" width="2" height="2"/><rect x="7" y="38" width="1" height="1"/><rect x="37" y="12" width="1" height="1"/><rect x="0" y="5" width="1" height="2"/><rect x="1" y="32" width="1" height="2"/><rect x="31" y="34" width="1" height="1"/><rect x="4" y="25" width="1" height="2"/><rect x="5" y="37" width="1" height="1"/><rect x="38" y="2" width="1" height="1"/><rect x="35" y="38" width="1" height="2"/><rect x="17" y="36" width="1" height="1"/><rect x="25" y="15" width="1" height="2"/><rect x="32" y="2" width="1" height="2"/><rect x="33" y="37" width="1" height="1"/><rect x="7" y="37" width="1" height="1"/><rect x="13" y="25" width="1" height="2"/><rect x="1" y="24" width="1" height="1"/><rect x="27" y="7" width="1" height="1"/><rect x="28" y="17" width="1" height="1"/><rect x="19" y="18" width="1" height="2"/><rect x="3" y="1" width="2" height="2"/><rect x="27" y="31" width="1" height="2"/><rect x="15" y="36" width="1" height="1"/><rect x="14" y="6" width="2" height="2"/><rect x="23" y="35" width="1" height="1"/><rect x="18" y="10" width="1" height="1"/><rect x="3" y="11" width="1" height="1"/><rect x="7" y="38" width="1" height="1"/><rect x="3" y="3" width="2" height="1"/><rect x="24" y="18" width="1" height="1"/><rect x="18" y="9" width="2" height="2"/><rect x="17" y="8" width="1" height="2"/><rect x="35" y="18" width="1" height="1"/><rect x="26" y="28" width="1" height="2"/><rect x="35" y="24" width="1" height="2"/><rect x="17" y="38" width="2" height="1"/><rect x="6" y="3" width="1" height="2"/><rect x="8" y="11" width="1" height="1"/><rect x="14" y="0" width="1" height="1"/><rect x="30" y="29" width="2" height="1"/><rect x="11" y="35" width="2" height="2"/><rect x="16" y="34" width="1" height="2"/><rect x="1" y="37" width="2" height="2"/><rect x="19" y="33" width="1" height="2"/><rect x="36" y="34" width="1" height="1"/><rect x="14" y="8" width="1" height="1"/><rect x="31" y="29" width="1" height="1"/><rect x="3" y="38" width="1" height="1"/><rect x="15" y="29" width="1" height="1"/><rect x="36" y="39" width="2" height="1"/><rect x="2" y="39" width="1" height="2"/><rect x="3" y="26" width="2" height="2"/><rect x="4" y="5" width="1" height="1"/><rect x="38" y="11" width="1" height="1"/><rect x="1" y="22" width="2" height="2"/><rect x="34" y="30" width="1" height="2"/><rect x="4" y="21" width="1" height="1"/><rect x="0" y="29" width="2" height="2"/><rect x="9" y="24" width="2" height="1"/><rect x="6" y="22" width="1" height="1"/><rect x="8" y="12" width="1" height="1"/><rect x="7" y="3" width="1" height="1"/><rect x="5" y="23" width="1" height="2"/><rect x="1" y="29" width="1" height="1"/><rect x="5" y="15" width="1" height="1"/><rect x="33" y="12" width="1" height="1"/><rect x="16" y="39" width="1" height="1"/><rect x="33" y="26" width="1" height="1"/><rect x="30" y="20" width="1" height="2"/><rect x="3" y="17" width="1" height="1"/><rect x="2" y="11" width="1" height="1"/><rect x="0" y="19" width="1" height="1"/><rect x="20" y="28" width="1" height="1"/><rect x="38" y="20" width="2" height="2"/><rect x="22" y="25" width="2" height="1"/><rect x="5" y="17" width="1" height="1"/><rect x="29" y="39" width="2" height="1"/><rect x="24" y="11" width="1" height="1"/><rect x="3" y="20" width="1" height="1"/><rect x="20" y="34" width="1" height="1"/><rect x="13" y="23" width="1" height="2"/><rect x="5" y="21" width="2" height="2"/><rect x="38" y="24" width="1" height="2"/><rect x="34" y="21" width="1" height="1"/><rect x="35" y="26" width="2" height="1"/><rect x="20" y="32" width="1" height="1"/><rect x="0" y="18" width="1" height="1"/><rect x="14" y="0" width="1" height="1"/><rect x="5" y="9" width="1" height="1"/><rect x="6" y="32" width="2" height="2"/><rect x="25" y="24" width="1" height="2"/><rect x="22" y="22" width="1" height="1"/><rect x="20" y="24" width="1" height="2"/><rect x="11" y="36" width="1" height="1"/><rect x="19" y="1" width="1" height="1"/><rect x="33" y="27" width="1" height="1"/><rect x="18" y="9" width="2" height="1"/><rect x="14" y="11" width="1" height="1"/><rect x="22" y="38" width="1" height="2"/><rect x="17" y="22" width="1" height="2"/><rect x="11" y="34" width="1" height="1"/><rect x="8" y="21" width="1" height="2"/><rect x="34" y="8" width="2" height="1"/><rect x="32" y="12" width="2" height="1"/><rect x="35" y="3" width="1" height="1"/><rect x="23" y="3" width="1" height="1"/><rect x="29" y="27" width="1" height="2"/><rect x="6" y="10" width="1" height="1"/><rect x="16" y="15" width="2" height="2"/><rect x="11" y="33" width="1" height="2"/><rect x="34" y="21" width="1" height="1"/><rect x="1" y="3" width="1" height="2"/><rect x="21" y="18" width="1" height="1"/><rect x="19" y="25" width="1" height="1"/><rect x="25" y="15" width="2" height="1"/><rect x="2" y="20" width="1" height="1"/><rect x="36" y="12" width="2" height="2"/><rect x="9" y="24" width="1" height="1"/><rect x="8" y="18" width="2" height="1"/><rect x="11" y="39" width="1" height="2"/><rect x="31" y="33" width="1" height="1"/><rect x="23" y="39" width="1" height="2"/><rect x="0" y="12" width="1" height="2"/><rect x="33" y="29" width="1" height="1"/><rect x="13" y="0" width="1" height="1"/><rect x="7" y="16" width="1" height="1"/><rect x="14" y="0" width="1" height="2"/><rect x="26" y="17" width="1" height="2"/><rect x="22" y="20" width="1" height="2"/><rect x="1" y="8" width="1" height="1"/><rect x="3" y="13" width="1" height="1"/><rect x="28" y="22" width="1" height="2"/><rect x="4" y="6" width="2" height="2"/><rect x="27" y="11" width="1" height="1"/><rect x="36" y="9" width="2" height="1"/><rect x="12" y="22" width="2" height="1"/><rect x="10" y="34" width="1" height="1"/><rect x="29" y="18" width="1" height="1"/><rect x="34" y="27" width="1" height="1"/><rect x="22" y="14" width="2" height="1"/><rect x="23" y="28" width="1" height="1"/><rect x="26" y="32" width="1" height="1"/><rect x="7" y="20" width="2" height="1"/><rect x="1" y="19" width="2" height="1"/><rect x="24" y="16" width="1" height="2"/><rect x="30" y="10" width="1" height="1"/><rect x="18" y="0" width="1" height="2"/><rect x="36" y="0" width="1" height="1"/><rect x="39" y="6" width="2" height="2"/><rect x="17" y="11" width="1" height="2"/><rect x="33" y="19" width="1" height="2"/><rect x="26" y="11" width="1" height="1"/><rect x="30" y="18" width="2" height="2"/><rect x="20" y="32" width="2" height="1"/><rect x="37" y="34" width="2" height="1"/><rect x="5" y="26" width="1" height="1"/><rect x="30" y="10" width="1" height="2"/></g></pattern></defs><rect x="708" y="419" width="206" height="127" fill="url(#spk)"/><path d="M816.6 439.6 C829.7 462.5 860.1 458.1 873.1 475.5" stroke="#d0e0e3" stroke-width="2" fill="none" /><path d="M878.6 488.5 C879.7 505.9 860.1 514.6 851.4 527.6" stroke="#d0e0e3" stroke-width="2" fill="none" /><path d="M840.6 529.8 C812.3 510.3 777.5 532.0 751.5 521.1" stroke="#d0e0e3" stroke-width="2" fill="none" /><path d="M752.5 472.2 C744.9 484.2 751.5 497.2 748.2 510.3" stroke="#d0e0e3" stroke-width="2" fill="none" /><path d="M762.3 460.3 C764.5 451.6 768.8 449.4 773.2 447.2" stroke="#cfe0e3" stroke-width="0.8" fill="none" /><path d="M796.0 425.5 L811.9 433.8" stroke="#cfe0e3" stroke-width="0.7" fill="none" /><path d="M796.0 441.8 L811.9 433.8" stroke="#cfe0e3" stroke-width="0.7" fill="none" /><path d="M826.4 425.5 L811.9 433.8" stroke="#cfe0e3" stroke-width="0.7" fill="none" /><path d="M826.4 441.8 L811.9 433.8" stroke="#cfe0e3" stroke-width="0.7" fill="none" /><path d="M740.2 459.2 L756.9 465.1" stroke="#cfe0e3" stroke-width="0.7" fill="none" /><path d="M740.2 471.2 L756.9 465.1" stroke="#cfe0e3" stroke-width="0.7" fill="none" /><path d="M861.2 470.5 L876.0 478.8" stroke="#cfe0e3" stroke-width="0.7" fill="none" /><path d="M861.2 487.4 L876.0 478.8" stroke="#cfe0e3" stroke-width="0.7" fill="none" /><path d="M891.6 471.2 L876.0 478.8" stroke="#cfe0e3" stroke-width="0.7" fill="none" /><path d="M891.6 486.8 L876.0 478.8" stroke="#cfe0e3" stroke-width="0.7" fill="none" /><path d="M730.8 508.1 L747.1 515.7" stroke="#cfe0e3" stroke-width="0.7" fill="none" /><path d="M730.8 524.4 L747.1 515.7" stroke="#cfe0e3" stroke-width="0.7" fill="none" /><path d="M762.3 508.1 L747.1 515.7" stroke="#cfe0e3" stroke-width="0.7" fill="none" /><path d="M762.3 524.4 L747.1 515.7" stroke="#cfe0e3" stroke-width="0.7" fill="none" /><path d="M834.0 525.5 L849.2 533.1" stroke="#cfe0e3" stroke-width="0.7" fill="none" /><path d="M864.5 525.5 L849.2 533.1" stroke="#cfe0e3" stroke-width="0.7" fill="none" /><path d="M864.5 541.8 L849.2 533.1" stroke="#cfe0e3" stroke-width="0.7" fill="none" /><path d="M834.0 540.7 L849.2 533.1" stroke="#cfe0e3" stroke-width="0.7" fill="none" /><path d="M792.2 425.5 L794.0 422.9 L798.0 422.9 L799.8 425.5 L798.0 428.1 L794.0 428.1Z" fill="#fff" stroke="#c5d8dc" stroke-width="0.5"/><rect x="782.01" y="422.02" width="9.50" height="7.00" rx="0" fill="#dce8ec" opacity="0.85"/><line x1="783.01" y1="423.32" x2="791.01" y2="423.32" stroke="#7a8a98" stroke-width="0.7" stroke-dasharray="1.6 0.5 1 0.6 2 0.5" opacity="0.5"/><line x1="783.01" y1="425.52" x2="791.01" y2="425.52" stroke="#7a8a98" stroke-width="0.7" stroke-dasharray="1.6 0.5 1 0.6 2 0.5" opacity="0.5"/><line x1="783.01" y1="427.72" x2="791.01" y2="427.72" stroke="#7a8a98" stroke-width="0.7" stroke-dasharray="1.6 0.5 1 0.6 2 0.5" opacity="0.5"/><line x1="794.51" y1="425.52" x2="797.51" y2="425.52" stroke="#8a98a8" stroke-width="0.7" stroke-dasharray="1.6 0.5 1 0.6 2 0.5" opacity="0.5"/><path d="M792.2 441.8 L794.0 439.2 L798.0 439.2 L799.8 441.8 L798.0 444.4 L794.0 444.4Z" fill="#fff" stroke="#c5d8dc" stroke-width="0.5"/><rect x="782.01" y="438.32" width="9.50" height="7.00" rx="0" fill="#dce8ec" opacity="0.85"/><line x1="783.01" y1="439.62" x2="791.01" y2="439.62" stroke="#7a8a98" stroke-width="0.7" stroke-dasharray="1.6 0.5 1 0.6 2 0.5" opacity="0.5"/><line x1="783.01" y1="441.82" x2="791.01" y2="441.82" stroke="#7a8a98" stroke-width="0.7" stroke-dasharray="1.6 0.5 1 0.6 2 0.5" opacity="0.5"/><line x1="783.01" y1="444.02" x2="791.01" y2="444.02" stroke="#7a8a98" stroke-width="0.7" stroke-dasharray="1.6 0.5 1 0.6 2 0.5" opacity="0.5"/><line x1="794.51" y1="441.82" x2="797.51" y2="441.82" stroke="#8a98a8" stroke-width="0.7" stroke-dasharray="1.6 0.5 1 0.6 2 0.5" opacity="0.5"/><path d="M822.6 425.5 L824.4 422.9 L828.4 422.9 L830.2 425.5 L828.4 428.1 L824.4 428.1Z" fill="#fff" stroke="#c5d8dc" stroke-width="0.5"/><rect x="830.93" y="422.02" width="10.50" height="7.00" rx="0" fill="#dce8ec" opacity="0.85"/><line x1="831.43" y1="423.32" x2="840.43" y2="423.32" stroke="#7a8a98" stroke-width="0.7" stroke-dasharray="1.6 0.5 1 0.6 2 0.5" opacity="0.5"/><line x1="831.43" y1="425.52" x2="840.43" y2="425.52" stroke="#7a8a98" stroke-width="0.7" stroke-dasharray="1.6 0.5 1 0.6 2 0.5" opacity="0.5"/><line x1="831.43" y1="427.72" x2="840.43" y2="427.72" stroke="#7a8a98" stroke-width="0.7" stroke-dasharray="1.6 0.5 1 0.6 2 0.5" opacity="0.5"/><line x1="824.93" y1="425.52" x2="827.93" y2="425.52" stroke="#8a98a8" stroke-width="0.7" stroke-dasharray="1.6 0.5 1 0.6 2 0.5" opacity="0.5"/><path d="M822.6 441.8 L824.4 439.2 L828.4 439.2 L830.2 441.8 L828.4 444.4 L824.4 444.4Z" fill="#fff" stroke="#c5d8dc" stroke-width="0.5"/><rect x="830.93" y="438.32" width="19.50" height="7.00" rx="0" fill="#dce8ec" opacity="0.85"/><line x1="831.43" y1="439.62" x2="849.43" y2="439.62" stroke="#7a8a98" stroke-width="0.7" stroke-dasharray="1.6 0.5 1 0.6 2 0.5" opacity="0.5"/><line x1="831.43" y1="441.82" x2="849.43" y2="441.82" stroke="#7a8a98" stroke-width="0.7" stroke-dasharray="1.6 0.5 1 0.6 2 0.5" opacity="0.5"/><line x1="831.43" y1="444.02" x2="849.43" y2="444.02" stroke="#7a8a98" stroke-width="0.7" stroke-dasharray="1.6 0.5 1 0.6 2 0.5" opacity="0.5"/><line x1="824.93" y1="441.82" x2="827.93" y2="441.82" stroke="#8a98a8" stroke-width="0.7" stroke-dasharray="1.6 0.5 1 0.6 2 0.5" opacity="0.5"/><path d="M736.4 459.2 L738.2 456.6 L742.2 456.6 L744.0 459.2 L742.2 461.8 L738.2 461.8Z" fill="#fff" stroke="#c5d8dc" stroke-width="0.5"/><rect x="726.16" y="455.70" width="9.50" height="7.00" rx="0" fill="#dce8ec" opacity="0.85"/><line x1="727.16" y1="457.00" x2="735.16" y2="457.00" stroke="#7a8a98" stroke-width="0.7" stroke-dasharray="1.6 0.5 1 0.6 2 0.5" opacity="0.5"/><line x1="727.16" y1="459.20" x2="735.16" y2="459.20" stroke="#7a8a98" stroke-width="0.7" stroke-dasharray="1.6 0.5 1 0.6 2 0.5" opacity="0.5"/><line x1="727.16" y1="461.40" x2="735.16" y2="461.40" stroke="#7a8a98" stroke-width="0.7" stroke-dasharray="1.6 0.5 1 0.6 2 0.5" opacity="0.5"/><line x1="738.66" y1="459.20" x2="741.66" y2="459.20" stroke="#8a98a8" stroke-width="0.7" stroke-dasharray="1.6 0.5 1 0.6 2 0.5" opacity="0.5"/><path d="M736.4 471.2 L738.2 468.6 L742.2 468.6 L744.0 471.2 L742.2 473.8 L738.2 473.8Z" fill="#fff" stroke="#c5d8dc" stroke-width="0.5"/><rect x="726.16" y="467.65" width="9.50" height="7.00" rx="0" fill="#dce8ec" opacity="0.85"/><line x1="727.16" y1="468.95" x2="735.16" y2="468.95" stroke="#7a8a98" stroke-width="0.7" stroke-dasharray="1.6 0.5 1 0.6 2 0.5" opacity="0.5"/><line x1="727.16" y1="471.15" x2="735.16" y2="471.15" stroke="#7a8a98" stroke-width="0.7" stroke-dasharray="1.6 0.5 1 0.6 2 0.5" opacity="0.5"/><line x1="727.16" y1="473.35" x2="735.16" y2="473.35" stroke="#7a8a98" stroke-width="0.7" stroke-dasharray="1.6 0.5 1 0.6 2 0.5" opacity="0.5"/><line x1="738.66" y1="471.15" x2="741.66" y2="471.15" stroke="#8a98a8" stroke-width="0.7" stroke-dasharray="1.6 0.5 1 0.6 2 0.5" opacity="0.5"/><path d="M857.4 470.5 L859.2 467.9 L863.2 467.9 L865.0 470.5 L863.2 473.1 L859.2 473.1Z" fill="#fff" stroke="#c5d8dc" stroke-width="0.5"/><rect x="847.19" y="467.00" width="9.50" height="7.00" rx="0" fill="#dce8ec" opacity="0.85"/><line x1="848.19" y1="468.30" x2="856.19" y2="468.30" stroke="#7a8a98" stroke-width="0.7" stroke-dasharray="1.6 0.5 1 0.6 2 0.5" opacity="0.5"/><line x1="848.19" y1="470.50" x2="856.19" y2="470.50" stroke="#7a8a98" stroke-width="0.7" stroke-dasharray="1.6 0.5 1 0.6 2 0.5" opacity="0.5"/><line x1="848.19" y1="472.70" x2="856.19" y2="472.70" stroke="#7a8a98" stroke-width="0.7" stroke-dasharray="1.6 0.5 1 0.6 2 0.5" opacity="0.5"/><line x1="859.69" y1="470.50" x2="862.69" y2="470.50" stroke="#8a98a8" stroke-width="0.7" stroke-dasharray="1.6 0.5 1 0.6 2 0.5" opacity="0.5"/><path d="M857.4 487.4 L859.2 484.8 L863.2 484.8 L865.0 487.4 L863.2 490.0 L859.2 490.0Z" fill="#fff" stroke="#c5d8dc" stroke-width="0.5"/><rect x="847.19" y="483.95" width="9.50" height="7.00" rx="0" fill="#dce8ec" opacity="0.85"/><line x1="848.19" y1="485.25" x2="856.19" y2="485.25" stroke="#7a8a98" stroke-width="0.7" stroke-dasharray="1.6 0.5 1 0.6 2 0.5" opacity="0.5"/><line x1="848.19" y1="487.45" x2="856.19" y2="487.45" stroke="#7a8a98" stroke-width="0.7" stroke-dasharray="1.6 0.5 1 0.6 2 0.5" opacity="0.5"/><line x1="848.19" y1="489.65" x2="856.19" y2="489.65" stroke="#7a8a98" stroke-width="0.7" stroke-dasharray="1.6 0.5 1 0.6 2 0.5" opacity="0.5"/><line x1="859.69" y1="487.45" x2="862.69" y2="487.45" stroke="#8a98a8" stroke-width="0.7" stroke-dasharray="1.6 0.5 1 0.6 2 0.5" opacity="0.5"/><path d="M887.8 471.2 L889.6 468.6 L893.6 468.6 L895.4 471.2 L893.6 473.8 L889.6 473.8Z" fill="#fff" stroke="#c5d8dc" stroke-width="0.5"/><rect x="896.12" y="467.65" width="10.50" height="7.00" rx="0" fill="#dce8ec" opacity="0.85"/><line x1="896.62" y1="468.95" x2="905.62" y2="468.95" stroke="#7a8a98" stroke-width="0.7" stroke-dasharray="1.6 0.5 1 0.6 2 0.5" opacity="0.5"/><line x1="896.62" y1="471.15" x2="905.62" y2="471.15" stroke="#7a8a98" stroke-width="0.7" stroke-dasharray="1.6 0.5 1 0.6 2 0.5" opacity="0.5"/><line x1="896.62" y1="473.35" x2="905.62" y2="473.35" stroke="#7a8a98" stroke-width="0.7" stroke-dasharray="1.6 0.5 1 0.6 2 0.5" opacity="0.5"/><line x1="890.12" y1="471.15" x2="893.12" y2="471.15" stroke="#8a98a8" stroke-width="0.7" stroke-dasharray="1.6 0.5 1 0.6 2 0.5" opacity="0.5"/><path d="M887.8 486.8 L889.6 484.2 L893.6 484.2 L895.4 486.8 L893.6 489.4 L889.6 489.4Z" fill="#fff" stroke="#c5d8dc" stroke-width="0.5"/><rect x="896.12" y="483.30" width="10.50" height="7.00" rx="0" fill="#dce8ec" opacity="0.85"/><line x1="896.62" y1="484.60" x2="905.62" y2="484.60" stroke="#7a8a98" stroke-width="0.7" stroke-dasharray="1.6 0.5 1 0.6 2 0.5" opacity="0.5"/><line x1="896.62" y1="486.80" x2="905.62" y2="486.80" stroke="#7a8a98" stroke-width="0.7" stroke-dasharray="1.6 0.5 1 0.6 2 0.5" opacity="0.5"/><line x1="896.62" y1="489.00" x2="905.62" y2="489.00" stroke="#7a8a98" stroke-width="0.7" stroke-dasharray="1.6 0.5 1 0.6 2 0.5" opacity="0.5"/><line x1="890.12" y1="486.80" x2="893.12" y2="486.80" stroke="#8a98a8" stroke-width="0.7" stroke-dasharray="1.6 0.5 1 0.6 2 0.5" opacity="0.5"/><path d="M727.0 508.1 L728.8 505.5 L732.8 505.5 L734.6 508.1 L732.8 510.7 L728.8 510.7Z" fill="#fff" stroke="#c5d8dc" stroke-width="0.5"/><rect x="716.82" y="504.59" width="9.50" height="7.00" rx="0" fill="#dce8ec" opacity="0.85"/><line x1="717.82" y1="505.89" x2="725.82" y2="505.89" stroke="#7a8a98" stroke-width="0.7" stroke-dasharray="1.6 0.5 1 0.6 2 0.5" opacity="0.5"/><line x1="717.82" y1="508.09" x2="725.82" y2="508.09" stroke="#7a8a98" stroke-width="0.7" stroke-dasharray="1.6 0.5 1 0.6 2 0.5" opacity="0.5"/><line x1="717.82" y1="510.29" x2="725.82" y2="510.29" stroke="#7a8a98" stroke-width="0.7" stroke-dasharray="1.6 0.5 1 0.6 2 0.5" opacity="0.5"/><line x1="729.32" y1="508.09" x2="732.32" y2="508.09" stroke="#8a98a8" stroke-width="0.7" stroke-dasharray="1.6 0.5 1 0.6 2 0.5" opacity="0.5"/><path d="M727.0 524.4 L728.8 521.8 L732.8 521.8 L734.6 524.4 L732.8 527.0 L728.8 527.0Z" fill="#fff" stroke="#c5d8dc" stroke-width="0.5"/><rect x="716.82" y="520.89" width="9.50" height="7.00" rx="0" fill="#dce8ec" opacity="0.85"/><line x1="717.82" y1="522.19" x2="725.82" y2="522.19" stroke="#7a8a98" stroke-width="0.7" stroke-dasharray="1.6 0.5 1 0.6 2 0.5" opacity="0.5"/><line x1="717.82" y1="524.39" x2="725.82" y2="524.39" stroke="#7a8a98" stroke-width="0.7" stroke-dasharray="1.6 0.5 1 0.6 2 0.5" opacity="0.5"/><line x1="717.82" y1="526.59" x2="725.82" y2="526.59" stroke="#7a8a98" stroke-width="0.7" stroke-dasharray="1.6 0.5 1 0.6 2 0.5" opacity="0.5"/><line x1="729.32" y1="524.39" x2="732.32" y2="524.39" stroke="#8a98a8" stroke-width="0.7" stroke-dasharray="1.6 0.5 1 0.6 2 0.5" opacity="0.5"/><path d="M758.5 508.1 L760.3 505.5 L764.3 505.5 L766.1 508.1 L764.3 510.7 L760.3 510.7Z" fill="#fff" stroke="#c5d8dc" stroke-width="0.5"/><rect x="766.82" y="504.59" width="10.50" height="7.00" rx="0" fill="#dce8ec" opacity="0.85"/><line x1="767.32" y1="505.89" x2="776.32" y2="505.89" stroke="#7a8a98" stroke-width="0.7" stroke-dasharray="1.6 0.5 1 0.6 2 0.5" opacity="0.5"/><line x1="767.32" y1="508.09" x2="776.32" y2="508.09" stroke="#7a8a98" stroke-width="0.7" stroke-dasharray="1.6 0.5 1 0.6 2 0.5" opacity="0.5"/><line x1="767.32" y1="510.29" x2="776.32" y2="510.29" stroke="#7a8a98" stroke-width="0.7" stroke-dasharray="1.6 0.5 1 0.6 2 0.5" opacity="0.5"/><line x1="760.82" y1="508.09" x2="763.82" y2="508.09" stroke="#8a98a8" stroke-width="0.7" stroke-dasharray="1.6 0.5 1 0.6 2 0.5" opacity="0.5"/><path d="M758.5 524.4 L760.3 521.8 L764.3 521.8 L766.1 524.4 L764.3 527.0 L760.3 527.0Z" fill="#fff" stroke="#c5d8dc" stroke-width="0.5"/><rect x="766.82" y="520.89" width="10.50" height="7.00" rx="0" fill="#dce8ec" opacity="0.85"/><line x1="767.32" y1="522.19" x2="776.32" y2="522.19" stroke="#7a8a98" stroke-width="0.7" stroke-dasharray="1.6 0.5 1 0.6 2 0.5" opacity="0.5"/><line x1="767.32" y1="524.39" x2="776.32" y2="524.39" stroke="#7a8a98" stroke-width="0.7" stroke-dasharray="1.6 0.5 1 0.6 2 0.5" opacity="0.5"/><line x1="767.32" y1="526.59" x2="776.32" y2="526.59" stroke="#7a8a98" stroke-width="0.7" stroke-dasharray="1.6 0.5 1 0.6 2 0.5" opacity="0.5"/><line x1="760.82" y1="524.39" x2="763.82" y2="524.39" stroke="#8a98a8" stroke-width="0.7" stroke-dasharray="1.6 0.5 1 0.6 2 0.5" opacity="0.5"/><path d="M830.2 525.5 L832.0 522.9 L836.0 522.9 L837.8 525.5 L836.0 528.1 L832.0 528.1Z" fill="#fff" stroke="#c5d8dc" stroke-width="0.5"/><rect x="820.03" y="521.98" width="9.50" height="7.00" rx="0" fill="#dce8ec" opacity="0.85"/><line x1="821.03" y1="523.28" x2="829.03" y2="523.28" stroke="#7a8a98" stroke-width="0.7" stroke-dasharray="1.6 0.5 1 0.6 2 0.5" opacity="0.5"/><line x1="821.03" y1="525.48" x2="829.03" y2="525.48" stroke="#7a8a98" stroke-width="0.7" stroke-dasharray="1.6 0.5 1 0.6 2 0.5" opacity="0.5"/><line x1="821.03" y1="527.68" x2="829.03" y2="527.68" stroke="#7a8a98" stroke-width="0.7" stroke-dasharray="1.6 0.5 1 0.6 2 0.5" opacity="0.5"/><line x1="832.53" y1="525.48" x2="835.53" y2="525.48" stroke="#8a98a8" stroke-width="0.7" stroke-dasharray="1.6 0.5 1 0.6 2 0.5" opacity="0.5"/><path d="M860.7 525.5 L862.5 522.9 L866.5 522.9 L868.3 525.5 L866.5 528.1 L862.5 528.1Z" fill="#fff" stroke="#c5d8dc" stroke-width="0.5"/><rect x="868.95" y="521.98" width="10.50" height="7.00" rx="0" fill="#dce8ec" opacity="0.85"/><line x1="869.45" y1="523.28" x2="878.45" y2="523.28" stroke="#7a8a98" stroke-width="0.7" stroke-dasharray="1.6 0.5 1 0.6 2 0.5" opacity="0.5"/><line x1="869.45" y1="525.48" x2="878.45" y2="525.48" stroke="#7a8a98" stroke-width="0.7" stroke-dasharray="1.6 0.5 1 0.6 2 0.5" opacity="0.5"/><line x1="869.45" y1="527.68" x2="878.45" y2="527.68" stroke="#7a8a98" stroke-width="0.7" stroke-dasharray="1.6 0.5 1 0.6 2 0.5" opacity="0.5"/><line x1="862.95" y1="525.48" x2="865.95" y2="525.48" stroke="#8a98a8" stroke-width="0.7" stroke-dasharray="1.6 0.5 1 0.6 2 0.5" opacity="0.5"/><path d="M860.7 541.8 L862.5 539.2 L866.5 539.2 L868.3 541.8 L866.5 544.4 L862.5 544.4Z" fill="#fff" stroke="#c5d8dc" stroke-width="0.5"/><rect x="868.95" y="538.27" width="10.50" height="7.00" rx="0" fill="#dce8ec" opacity="0.85"/><line x1="869.45" y1="539.57" x2="878.45" y2="539.57" stroke="#7a8a98" stroke-width="0.7" stroke-dasharray="1.6 0.5 1 0.6 2 0.5" opacity="0.5"/><line x1="869.45" y1="541.77" x2="878.45" y2="541.77" stroke="#7a8a98" stroke-width="0.7" stroke-dasharray="1.6 0.5 1 0.6 2 0.5" opacity="0.5"/><line x1="869.45" y1="543.97" x2="878.45" y2="543.97" stroke="#7a8a98" stroke-width="0.7" stroke-dasharray="1.6 0.5 1 0.6 2 0.5" opacity="0.5"/><line x1="862.95" y1="541.77" x2="865.95" y2="541.77" stroke="#8a98a8" stroke-width="0.7" stroke-dasharray="1.6 0.5 1 0.6 2 0.5" opacity="0.5"/><path d="M830.2 540.7 L832.0 538.1 L836.0 538.1 L837.8 540.7 L836.0 543.3 L832.0 543.3Z" fill="#fff" stroke="#c5d8dc" stroke-width="0.5"/><rect x="820.03" y="537.19" width="9.50" height="7.00" rx="0" fill="#dce8ec" opacity="0.85"/><line x1="821.03" y1="538.49" x2="829.03" y2="538.49" stroke="#7a8a98" stroke-width="0.7" stroke-dasharray="1.6 0.5 1 0.6 2 0.5" opacity="0.5"/><line x1="821.03" y1="540.69" x2="829.03" y2="540.69" stroke="#7a8a98" stroke-width="0.7" stroke-dasharray="1.6 0.5 1 0.6 2 0.5" opacity="0.5"/><line x1="821.03" y1="542.89" x2="829.03" y2="542.89" stroke="#7a8a98" stroke-width="0.7" stroke-dasharray="1.6 0.5 1 0.6 2 0.5" opacity="0.5"/><line x1="832.53" y1="540.69" x2="835.53" y2="540.69" stroke="#8a98a8" stroke-width="0.7" stroke-dasharray="1.6 0.5 1 0.6 2 0.5" opacity="0.5"/><circle cx="811.87" cy="433.78" r="8.1" fill="#4f9b70" /><rect x="809.37" y="430.78" width="5.00" height="3.50" rx="0.5" fill="#e8f2ec" opacity="0.85"/><line x1="809.37" y1="436.78" x2="814.37" y2="436.78" stroke="#e8f2ec" stroke-width="0.9" stroke-dasharray="1.6 0.5 1 0.6 2 0.5" opacity="0.85"/><circle cx="756.89" cy="465.07" r="8.1" fill="#4f9b70" /><rect x="754.39" y="462.07" width="5.00" height="3.50" rx="0.5" fill="#e8f2ec" opacity="0.85"/><line x1="754.39" y1="468.07" x2="759.39" y2="468.07" stroke="#e8f2ec" stroke-width="0.9" stroke-dasharray="1.6 0.5 1 0.6 2 0.5" opacity="0.85"/><circle cx="875.97" cy="478.76" r="8.1" fill="#4f9b70" /><rect x="873.47" y="475.76" width="5.00" height="3.50" rx="0.5" fill="#e8f2ec" opacity="0.85"/><line x1="873.47" y1="481.76" x2="878.47" y2="481.76" stroke="#e8f2ec" stroke-width="0.9" stroke-dasharray="1.6 0.5 1 0.6 2 0.5" opacity="0.85"/><circle cx="747.11" cy="515.70" r="8.1" fill="#4f9b70" /><rect x="744.61" y="512.70" width="5.00" height="3.50" rx="0.5" fill="#e8f2ec" opacity="0.85"/><line x1="744.61" y1="518.70" x2="749.61" y2="518.70" stroke="#e8f2ec" stroke-width="0.9" stroke-dasharray="1.6 0.5 1 0.6 2 0.5" opacity="0.85"/><circle cx="849.24" cy="533.08" r="8.1" fill="#4f9b70" /><rect x="846.74" y="530.08" width="5.00" height="3.50" rx="0.5" fill="#e8f2ec" opacity="0.85"/><line x1="846.74" y1="536.08" x2="851.74" y2="536.08" stroke="#e8f2ec" stroke-width="0.9" stroke-dasharray="1.6 0.5 1 0.6 2 0.5" opacity="0.85"/><rect x="796" y="469.5" width="27.2" height="20" fill="#f6f8f8" stroke="#b8c0c6" stroke-width="0.8"/><path d="M796.5 470 L801 470 L796.5 474.5Z" fill="#3aa060"/><path d="M822.7 470 L818 470 L822.7 474.5Z" fill="#3aa060"/><path d="M796.5 489 L801 489 L796.5 484.5Z" fill="#3aa060"/><path d="M822.7 489 L818 489 L822.7 484.5Z" fill="#3aa060"/><rect x="796.5" y="471" width="1.6" height="17" fill="#6a7278"/><rect x="809.5" y="469.5" width="2.2" height="20" fill="#9aa6aa"/><rect x="809.8" y="472" width="1.6" height="4" fill="#3aa060"/><rect x="809.8" y="481" width="1.6" height="4" fill="#3aa060"/><rect x="809" y="477" width="3" height="2.2" fill="#5a6268"/><path d="M806 470 L806 467 Q806 466 807 466 L813 466 Q814 466 814 467 L814 470" fill="none" stroke="#8a949a" stroke-width="0.9"/><circle cx="803" cy="474.5" r="1.5" fill="#7a8690"/><path d="M800.5 481 L803.5 479 L805.5 481.5 L801 482.5Z" fill="#9aa4ac"/><circle cx="818" cy="476.5" r="1.3" fill="#4a5a5a"/><path d="M815 486 L816.5 482 L818 486Z" fill="#3a4448"/><rect x="818.5" y="479" width="2.5" height="1.2" fill="#8a96a0"/><rect x="797" y="491" width="6" height="1" fill="#c8d8dc"/><line x1="801.40" y1="496.10" x2="817.70" y2="496.10" stroke="#3f8a60" stroke-width="1.8" stroke-dasharray="1.6 0.5 1 0.6 2 0.5" opacity="0.85"/></svg></div></div>

<!-- labels -->
<div class="a" style="left:90px;top:214px;width:86px;height:19px;background:#1660da"></div>
<div class="lb" style="left:20px;top:215px;color:#fff">精选榨汁水果</div>
<div class="lb" style="left:246px;top:215px">个人简历</div>
<div class="lb" style="left:472px;top:215px">金属元素基础化学方程式</div>
<div class="lb" style="left:698px;top:216px;letter-spacing:-0.5px">Snacks</div>
<div class="lb" style="left:20px;top:385px">社交行为中的分享基因</div>
<div class="lb" style="left:246px;top:385px">6类型4项目4战略</div>
<div class="lb" style="left:472px;top:385px">《如何阅读一本书》</div>
<div class="lb" style="left:698px;top:385px">礼物清单</div>
<div class="lb" style="left:20px;top:557px;letter-spacing:-0.15px">SHMetro</div>
<div class="lb" style="left:246px;top:555px">资产负债表</div>
<div class="lb" style="left:472px;top:555px">公司架构</div>
<div class="lb" style="left:698px;top:555px">旅行计划</div>

<div class="btn" style="left:778px;background:#1660da;color:#fff">打开</div>
<div class="btn" style="left:858px;height:24px;color:#222;border-bottom:1px solid #c9d1da;line-height:25px">取消</div>
</body></html>
